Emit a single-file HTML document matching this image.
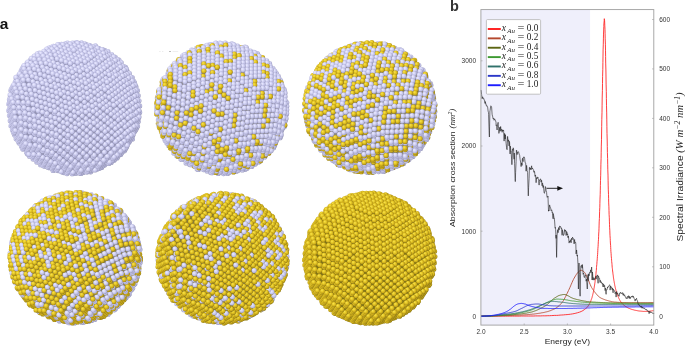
<!DOCTYPE html>
<html><head><meta charset="utf-8"><style>
html,body{margin:0;padding:0;background:#fff;width:685px;height:346px;overflow:hidden}
svg{display:block;will-change:transform;font-family:"Liberation Sans",sans-serif}
.m{font-family:"Liberation Serif",serif}
</style></head><body><svg width="685" height="346" viewBox="0 0 685 346" class="s"><defs>
<radialGradient id="gl" cx="0.45" cy="0.45" r="0.58" fx="0.34" fy="0.32">
<stop offset="0" stop-color="#ebebfe"/><stop offset="0.35" stop-color="#dadaf9"/><stop offset="0.75" stop-color="#bdbde2"/><stop offset="1" stop-color="#9696b8"/></radialGradient>
<radialGradient id="gg" cx="0.45" cy="0.45" r="0.58" fx="0.34" fy="0.32">
<stop offset="0" stop-color="#f6e252"/><stop offset="0.35" stop-color="#ecd02c"/><stop offset="0.75" stop-color="#caa91a"/><stop offset="1" stop-color="#8c7812"/></radialGradient>
<circle id="L" r="2.6" fill="url(#gl)"/><circle id="G" r="2.6" fill="url(#gg)"/>
</defs><g opacity="0.996"><g transform="translate(74.2,108.2)"><circle r="64.9" fill="rgb(148,148,180)"/><use href="#L" x="-53.0" y="-37.1"/><use href="#L" x="60.3" y="23.4"/><use href="#L" x="-20.8" y="-61.8"/><use href="#L" x="-58.9" y="-26.2"/><use href="#L" x="-52.1" y="39.0"/><use href="#L" x="-64.7" y="-8.7"/><use href="#L" x="2.0" y="-65.5"/><use href="#L" x="54.5" y="34.4"/><use href="#L" x="-52.3" y="-38.5"/><use href="#L" x="30.3" y="56.9"/><use href="#L" x="61.1" y="22.1"/><use href="#L" x="58.2" y="30.8"/><use href="#L" x="64.0" y="13.3"/><use href="#L" x="-60.9" y="23.2"/><use href="#L" x="-34.7" y="-55.2"/><use href="#L" x="-12.7" y="-63.9"/><use href="#L" x="60.2" y="-25.0"/><use href="#L" x="-46.9" y="45.6"/><use href="#L" x="-64.0" y="-10.1"/><use href="#L" x="-58.1" y="-27.5"/><use href="#L" x="16.4" y="63.6"/><use href="#L" x="27.4" y="59.2"/><use href="#L" x="55.2" y="33.0"/><use href="#L" x="51.3" y="-40.9"/><use href="#L" x="-51.6" y="-39.8"/><use href="#L" x="-10.1" y="64.4"/><use href="#L" x="9.0" y="64.3"/><use href="#L" x="31.0" y="55.6"/><use href="#L" x="30.7" y="-57.5"/><use href="#L" x="61.8" y="20.7"/><use href="#L" x="-55.0" y="34.8"/><use href="#L" x="-33.6" y="56.5"/><use href="#L" x="-23.0" y="-60.9"/><use href="#L" x="1.7" y="65.1"/><use href="#L" x="7.2" y="-65.4"/><use href="#L" x="-59.5" y="26.9"/><use href="#L" x="-0.2" y="-64.6"/><use href="#L" x="61.7" y="-21.3"/><use href="#L" x="-37.3" y="53.7"/><use href="#L" x="-29.2" y="58.0"/><use href="#L" x="-21.1" y="62.3"/><use href="#L" x="17.1" y="62.2"/><use href="#L" x="28.1" y="57.8"/><use href="#L" x="11.6" y="-63.9"/><use href="#L" x="56.0" y="31.6"/><use href="#L" x="-65.4" y="2.3"/><use href="#L" x="-50.8" y="-41.2"/><use href="#L" x="-36.9" y="-54.3"/><use href="#L" x="-14.9" y="-63.1"/><use href="#L" x="42.8" y="49.8"/><use href="#L" x="62.5" y="19.3"/><use href="#L" x="52.8" y="-37.2"/><use href="#L" x="-64.7" y="7.4"/><use href="#L" x="-41.0" y="50.8"/><use href="#L" x="-24.8" y="59.5"/><use href="#L" x="-47.2" y="-44.8"/><use href="#L" x="16.0" y="-62.4"/><use href="#L" x="46.4" y="46.2"/><use href="#L" x="-63.9" y="12.5"/><use href="#L" x="-63.3" y="-17.9"/><use href="#L" x="-43.5" y="-48.4"/><use href="#L" x="25.2" y="60.1"/><use href="#L" x="50.1" y="42.6"/><use href="#L" x="-58.0" y="30.6"/><use href="#L" x="-65.4" y="-4.2"/><use href="#L" x="-63.2" y="17.6"/><use href="#L" x="-44.7" y="48.0"/><use href="#L" x="-20.4" y="60.9"/><use href="#L" x="-39.8" y="-52.1"/><use href="#L" x="-6.8" y="-65.2"/><use href="#L" x="6.8" y="65.2"/><use href="#L" x="39.8" y="52.1"/><use href="#L" x="28.8" y="56.4"/><use href="#L" x="62.5" y="12.9"/><use href="#L" x="44.7" y="-48.0"/><use href="#L" x="65.4" y="4.2"/><use href="#L" x="63.2" y="-17.6"/><use href="#L" x="56.7" y="30.3"/><use href="#L" x="59.6" y="21.6"/><use href="#L" x="58.0" y="-30.6"/><use href="#L" x="-64.7" y="0.9"/><use href="#L" x="-50.1" y="-42.6"/><use href="#L" x="-25.2" y="-60.1"/><use href="#L" x="5.0" y="-64.5"/><use href="#L" x="43.5" y="48.4"/><use href="#L" x="63.3" y="17.9"/><use href="#L" x="63.9" y="-12.5"/><use href="#L" x="-63.9" y="6.0"/><use href="#L" x="-46.4" y="-46.2"/><use href="#L" x="-16.0" y="62.4"/><use href="#L" x="47.2" y="44.8"/><use href="#L" x="24.8" y="-59.5"/><use href="#L" x="41.0" y="-50.8"/><use href="#L" x="64.7" y="-7.4"/><use href="#L" x="-63.2" y="11.1"/><use href="#L" x="-52.8" y="37.2"/><use href="#L" x="-62.5" y="-19.3"/><use href="#L" x="-42.8" y="-49.8"/><use href="#L" x="14.9" y="63.1"/><use href="#L" x="25.9" y="58.7"/><use href="#L" x="36.9" y="54.3"/><use href="#L" x="50.8" y="41.2"/><use href="#L" x="53.8" y="32.5"/><use href="#L" x="65.4" y="-2.3"/><use href="#L" x="49.9" y="-41.4"/><use href="#L" x="-57.2" y="29.2"/><use href="#L" x="-62.4" y="16.2"/><use href="#L" x="-64.7" y="-5.5"/><use href="#L" x="-11.6" y="63.9"/><use href="#L" x="7.5" y="63.8"/><use href="#L" x="29.6" y="55.1"/><use href="#L" x="21.1" y="-62.3"/><use href="#L" x="40.6" y="50.7"/><use href="#L" x="29.2" y="-58.0"/><use href="#L" x="57.4" y="28.9"/><use href="#L" x="37.3" y="-53.7"/><use href="#L" x="60.3" y="20.2"/><use href="#L" x="63.2" y="11.5"/><use href="#L" x="-61.7" y="21.3"/><use href="#L" x="-63.9" y="-0.4"/><use href="#L" x="0.2" y="64.6"/><use href="#L" x="44.2" y="47.1"/><use href="#L" x="59.5" y="-26.9"/><use href="#L" x="-63.2" y="4.7"/><use href="#L" x="-47.6" y="43.7"/><use href="#L" x="-7.2" y="65.4"/><use href="#L" x="-1.7" y="-65.1"/><use href="#L" x="23.0" y="60.9"/><use href="#L" x="47.9" y="43.5"/><use href="#L" x="33.6" y="-56.5"/><use href="#L" x="55.0" y="-34.8"/><use href="#L" x="-52.1" y="35.8"/><use href="#L" x="-62.4" y="9.8"/><use href="#L" x="-30.7" y="57.5"/><use href="#L" x="-61.8" y="-20.7"/><use href="#L" x="-9.0" y="-64.3"/><use href="#L" x="15.6" y="61.7"/><use href="#L" x="26.6" y="57.3"/><use href="#L" x="37.6" y="52.9"/><use href="#L" x="10.1" y="-64.4"/><use href="#L" x="51.6" y="39.8"/><use href="#L" x="54.5" y="31.1"/><use href="#L" x="-51.3" y="40.9"/><use href="#L" x="-61.7" y="14.8"/><use href="#L" x="-56.5" y="27.9"/><use href="#L" x="-61.1" y="-15.6"/><use href="#L" x="-64.0" y="-6.9"/><use href="#L" x="-55.2" y="-33.0"/><use href="#L" x="-27.4" y="-59.2"/><use href="#L" x="-16.4" y="-63.6"/><use href="#L" x="8.3" y="62.5"/><use href="#L" x="-10.8" y="62.5"/><use href="#L" x="30.3" y="53.7"/><use href="#L" x="41.3" y="49.3"/><use href="#L" x="58.1" y="27.5"/><use href="#L" x="61.1" y="18.8"/><use href="#L" x="64.0" y="10.1"/><use href="#L" x="-55.8" y="33.0"/><use href="#L" x="-60.9" y="19.9"/><use href="#L" x="-63.2" y="-1.8"/><use href="#L" x="-26.3" y="59.0"/><use href="#L" x="-34.4" y="54.6"/><use href="#L" x="-51.6" y="-36.6"/><use href="#L" x="0.9" y="63.2"/><use href="#L" x="45.0" y="45.7"/><use href="#L" x="14.5" y="-62.9"/><use href="#L" x="46.9" y="-45.6"/><use href="#L" x="-62.5" y="3.3"/><use href="#L" x="-60.2" y="25.0"/><use href="#L" x="-46.9" y="42.4"/><use href="#L" x="-6.4" y="64.0"/><use href="#L" x="12.7" y="63.9"/><use href="#L" x="48.6" y="42.1"/><use href="#L" x="23.7" y="59.6"/><use href="#L" x="34.7" y="55.2"/><use href="#L" x="60.9" y="-23.2"/><use href="#L" x="-51.3" y="34.4"/><use href="#L" x="-58.2" y="-30.8"/><use href="#L" x="-61.7" y="8.4"/><use href="#L" x="-38.1" y="51.8"/><use href="#L" x="-64.0" y="-13.3"/><use href="#L" x="-61.1" y="-22.1"/><use href="#L" x="-30.3" y="-56.9"/><use href="#L" x="-21.9" y="60.4"/><use href="#L" x="-30.0" y="56.1"/><use href="#L" x="-19.3" y="-61.3"/><use href="#L" x="5.3" y="64.7"/><use href="#L" x="16.4" y="60.3"/><use href="#L" x="52.3" y="38.5"/><use href="#L" x="27.4" y="55.9"/><use href="#L" x="38.4" y="51.6"/><use href="#L" x="35.1" y="-52.8"/><use href="#L" x="43.2" y="-48.5"/><use href="#L" x="18.9" y="-61.4"/><use href="#L" x="55.2" y="29.8"/><use href="#L" x="61.0" y="12.4"/><use href="#L" x="58.1" y="21.1"/><use href="#L" x="56.5" y="-31.1"/><use href="#L" x="64.0" y="3.7"/><use href="#L" x="61.7" y="-18.1"/><use href="#L" x="-55.8" y="26.5"/><use href="#L" x="-50.6" y="39.5"/><use href="#L" x="-57.4" y="-25.7"/><use href="#L" x="-61.0" y="13.5"/><use href="#L" x="-63.2" y="-8.3"/><use href="#L" x="-60.3" y="-17.0"/><use href="#L" x="-10.1" y="61.2"/><use href="#L" x="-54.5" y="-34.4"/><use href="#L" x="-42.5" y="43.9"/><use href="#L" x="-40.6" y="-47.5"/><use href="#L" x="-2.0" y="65.5"/><use href="#L" x="9.0" y="61.1"/><use href="#L" x="20.0" y="56.7"/><use href="#L" x="3.5" y="-65.0"/><use href="#L" x="31.0" y="52.3"/><use href="#L" x="42.0" y="48.0"/><use href="#L" x="58.9" y="26.2"/><use href="#L" x="64.7" y="8.7"/><use href="#L" x="52.1" y="-39.0"/><use href="#L" x="61.8" y="17.5"/><use href="#L" x="62.4" y="-13.0"/><use href="#L" x="-41.7" y="48.9"/><use href="#L" x="-60.2" y="18.6"/><use href="#L" x="-55.0" y="31.6"/><use href="#L" x="-62.5" y="-3.2"/><use href="#L" x="-33.6" y="53.3"/><use href="#L" x="-17.5" y="61.9"/><use href="#L" x="-53.7" y="-29.3"/><use href="#L" x="-59.6" y="-11.9"/><use href="#L" x="-50.8" y="-38.0"/><use href="#L" x="-25.6" y="57.6"/><use href="#L" x="-36.9" y="-51.1"/><use href="#L" x="20.8" y="61.8"/><use href="#L" x="1.7" y="61.9"/><use href="#L" x="-3.9" y="-64.2"/><use href="#L" x="31.4" y="-55.6"/><use href="#L" x="48.6" y="35.6"/><use href="#L" x="45.7" y="44.3"/><use href="#L" x="34.7" y="48.7"/><use href="#L" x="23.3" y="-60.0"/><use href="#L" x="63.2" y="-7.9"/><use href="#L" x="39.5" y="-51.3"/><use href="#L" x="52.8" y="-34.0"/><use href="#L" x="-59.5" y="23.7"/><use href="#L" x="-61.7" y="1.9"/><use href="#L" x="-33.2" y="-54.7"/><use href="#L" x="-46.2" y="41.0"/><use href="#L" x="-13.8" y="58.3"/><use href="#L" x="-22.2" y="-59.1"/><use href="#L" x="-5.7" y="62.6"/><use href="#L" x="24.4" y="58.2"/><use href="#L" x="13.4" y="62.6"/><use href="#L" x="-11.2" y="-63.5"/><use href="#L" x="35.4" y="53.8"/><use href="#L" x="52.3" y="32.0"/><use href="#L" x="7.9" y="-63.5"/><use href="#L" x="49.4" y="40.7"/><use href="#L" x="61.0" y="5.9"/><use href="#L" x="63.9" y="-2.8"/><use href="#L" x="48.4" y="-41.9"/><use href="#L" x="-45.4" y="46.1"/><use href="#L" x="-21.1" y="59.1"/><use href="#L" x="-29.2" y="54.8"/><use href="#L" x="-50.6" y="33.1"/><use href="#L" x="-37.3" y="50.4"/><use href="#L" x="-60.3" y="-23.4"/><use href="#L" x="-61.0" y="7.0"/><use href="#L" x="-43.5" y="-45.2"/><use href="#L" x="6.1" y="63.3"/><use href="#L" x="-13.0" y="63.4"/><use href="#L" x="-2.0" y="59.0"/><use href="#L" x="28.1" y="54.6"/><use href="#L" x="17.1" y="59.0"/><use href="#L" x="42.0" y="41.5"/><use href="#L" x="0.5" y="-62.7"/><use href="#L" x="39.1" y="50.2"/><use href="#L" x="53.0" y="37.1"/><use href="#L" x="64.7" y="2.3"/><use href="#L" x="27.8" y="-58.5"/><use href="#L" x="55.9" y="28.4"/><use href="#L" x="58.9" y="19.7"/><use href="#L" x="61.8" y="11.0"/><use href="#L" x="-55.0" y="25.1"/><use href="#L" x="-62.5" y="-9.6"/><use href="#L" x="-49.9" y="38.2"/><use href="#L" x="-59.6" y="-18.3"/><use href="#L" x="-41.8" y="42.5"/><use href="#L" x="-60.2" y="12.1"/><use href="#L" x="-56.7" y="-27.0"/><use href="#L" x="-39.8" y="-48.8"/><use href="#L" x="-9.4" y="59.8"/><use href="#L" x="20.7" y="55.3"/><use href="#L" x="-1.3" y="64.1"/><use href="#L" x="9.7" y="59.7"/><use href="#L" x="42.8" y="46.6"/><use href="#L" x="31.8" y="51.0"/><use href="#L" x="-6.8" y="-62.0"/><use href="#L" x="20.4" y="-57.7"/><use href="#L" x="12.3" y="-62.0"/><use href="#L" x="45.7" y="37.9"/><use href="#L" x="36.6" y="-49.1"/><use href="#L" x="44.7" y="-44.7"/><use href="#L" x="58.0" y="-27.4"/><use href="#L" x="-54.3" y="30.2"/><use href="#L" x="-55.9" y="-21.9"/><use href="#L" x="-59.5" y="17.2"/><use href="#L" x="-41.0" y="47.6"/><use href="#L" x="-61.8" y="-4.5"/><use href="#L" x="-58.8" y="-13.2"/><use href="#L" x="-24.8" y="56.2"/><use href="#L" x="-50.1" y="-39.4"/><use href="#L" x="-53.0" y="-30.7"/><use href="#L" x="-32.9" y="51.9"/><use href="#L" x="-16.7" y="60.6"/><use href="#L" x="2.4" y="60.5"/><use href="#L" x="-36.2" y="-52.4"/><use href="#L" x="-25.2" y="-56.8"/><use href="#L" x="13.4" y="56.1"/><use href="#L" x="46.4" y="43.0"/><use href="#L" x="-14.1" y="-61.2"/><use href="#L" x="35.4" y="47.4"/><use href="#L" x="49.3" y="34.3"/><use href="#L" x="5.0" y="-61.3"/><use href="#L" x="61.0" y="-0.6"/><use href="#L" x="58.7" y="-22.3"/><use href="#L" x="-52.3" y="-25.6"/><use href="#L" x="-58.1" y="-8.1"/><use href="#L" x="-45.4" y="39.6"/><use href="#L" x="-61.0" y="0.6"/><use href="#L" x="-58.7" y="22.3"/><use href="#L" x="-46.4" y="-43.0"/><use href="#L" x="-49.3" y="-34.3"/><use href="#L" x="-35.4" y="-47.4"/><use href="#L" x="-5.0" y="61.3"/><use href="#L" x="6.1" y="56.9"/><use href="#L" x="-13.1" y="56.9"/><use href="#L" x="14.1" y="61.2"/><use href="#L" x="32.9" y="-51.9"/><use href="#L" x="-2.4" y="-60.5"/><use href="#L" x="39.1" y="43.7"/><use href="#L" x="25.2" y="56.8"/><use href="#L" x="16.7" y="-60.6"/><use href="#L" x="24.8" y="-56.2"/><use href="#L" x="55.9" y="21.9"/><use href="#L" x="41.0" y="-47.6"/><use href="#L" x="58.8" y="13.2"/><use href="#L" x="53.0" y="30.7"/><use href="#L" x="54.3" y="-30.2"/><use href="#L" x="61.8" y="4.5"/><use href="#L" x="59.5" y="-17.2"/><use href="#L" x="-31.8" y="-51.0"/><use href="#L" x="-28.5" y="53.4"/><use href="#L" x="-49.9" y="31.7"/><use href="#L" x="-55.1" y="18.7"/><use href="#L" x="-60.3" y="5.6"/><use href="#L" x="-36.6" y="49.1"/><use href="#L" x="-20.4" y="57.7"/><use href="#L" x="-45.7" y="-37.9"/><use href="#L" x="-1.3" y="57.6"/><use href="#L" x="-20.7" y="-55.3"/><use href="#L" x="-9.7" y="-59.7"/><use href="#L" x="6.8" y="62.0"/><use href="#L" x="42.7" y="40.1"/><use href="#L" x="41.8" y="-42.5"/><use href="#L" x="28.8" y="53.2"/><use href="#L" x="17.8" y="57.6"/><use href="#L" x="9.4" y="-59.8"/><use href="#L" x="59.6" y="18.3"/><use href="#L" x="39.8" y="48.8"/><use href="#L" x="55.0" y="-25.1"/><use href="#L" x="56.7" y="27.0"/><use href="#L" x="60.2" y="-12.1"/><use href="#L" x="49.9" y="-38.2"/><use href="#L" x="-49.1" y="36.8"/><use href="#L" x="-59.5" y="10.7"/><use href="#L" x="-41.0" y="41.1"/><use href="#L" x="-58.9" y="-19.7"/><use href="#L" x="-42.0" y="-41.5"/><use href="#L" x="-54.3" y="23.8"/><use href="#L" x="-56.6" y="2.0"/><use href="#L" x="-16.7" y="54.1"/><use href="#L" x="-28.1" y="-54.6"/><use href="#L" x="-8.6" y="58.4"/><use href="#L" x="10.5" y="58.4"/><use href="#L" x="21.5" y="54.0"/><use href="#L" x="-17.1" y="-59.0"/><use href="#L" x="46.4" y="36.5"/><use href="#L" x="32.5" y="49.6"/><use href="#L" x="2.0" y="-59.0"/><use href="#L" x="29.2" y="-54.8"/><use href="#L" x="61.0" y="-7.0"/><use href="#L" x="50.6" y="-33.1"/><use href="#L" x="49.3" y="27.8"/><use href="#L" x="55.8" y="-20.0"/><use href="#L" x="58.1" y="1.7"/><use href="#L" x="-61.0" y="-5.9"/><use href="#L" x="-32.2" y="50.5"/><use href="#L" x="-45.5" y="33.2"/><use href="#L" x="-40.3" y="46.2"/><use href="#L" x="-52.3" y="-32.0"/><use href="#L" x="-55.2" y="-23.3"/><use href="#L" x="-58.1" y="-14.6"/><use href="#L" x="-58.8" y="15.8"/><use href="#L" x="-16.0" y="59.2"/><use href="#L" x="-53.6" y="28.9"/><use href="#L" x="-24.1" y="54.9"/><use href="#L" x="-38.4" y="-45.1"/><use href="#L" x="3.1" y="59.1"/><use href="#L" x="25.1" y="50.4"/><use href="#L" x="38.1" y="-45.3"/><use href="#L" x="-5.3" y="-58.2"/><use href="#L" x="13.8" y="-58.3"/><use href="#L" x="14.1" y="54.7"/><use href="#L" x="55.9" y="15.5"/><use href="#L" x="36.2" y="46.0"/><use href="#L" x="21.9" y="-54.0"/><use href="#L" x="50.1" y="32.9"/><use href="#L" x="53.0" y="24.2"/><use href="#L" x="56.5" y="-15.0"/><use href="#L" x="46.2" y="-41.0"/><use href="#L" x="58.8" y="6.8"/><use href="#L" x="51.4" y="-28.0"/><use href="#L" x="61.7" y="-1.9"/><use href="#L" x="-44.7" y="38.3"/><use href="#L" x="-55.1" y="12.2"/><use href="#L" x="-36.6" y="42.6"/><use href="#L" x="-60.3" y="-0.8"/><use href="#L" x="-57.4" y="-9.5"/><use href="#L" x="-51.5" y="-26.9"/><use href="#L" x="-54.4" y="-18.2"/><use href="#L" x="-12.3" y="55.6"/><use href="#L" x="-48.6" y="-35.6"/><use href="#L" x="-34.7" y="-48.7"/><use href="#L" x="-23.7" y="-53.1"/><use href="#L" x="25.9" y="55.5"/><use href="#L" x="-4.2" y="59.9"/><use href="#L" x="6.4" y="-57.5"/><use href="#L" x="-12.7" y="-57.5"/><use href="#L" x="59.6" y="11.9"/><use href="#L" x="57.3" y="-9.9"/><use href="#L" x="53.7" y="29.3"/><use href="#L" x="46.9" y="-35.9"/><use href="#L" x="56.7" y="20.6"/><use href="#L" x="39.8" y="42.4"/><use href="#L" x="-35.9" y="47.7"/><use href="#L" x="-59.5" y="4.3"/><use href="#L" x="-49.2" y="30.3"/><use href="#L" x="-54.3" y="17.3"/><use href="#L" x="-45.0" y="-39.2"/><use href="#L" x="-56.6" y="-4.4"/><use href="#L" x="-19.7" y="56.3"/><use href="#L" x="-47.9" y="-30.5"/><use href="#L" x="-27.8" y="52.0"/><use href="#L" x="-31.0" y="-52.3"/><use href="#L" x="34.4" y="-48.2"/><use href="#L" x="-0.9" y="-56.8"/><use href="#L" x="-20.0" y="-56.7"/><use href="#L" x="18.5" y="56.2"/><use href="#L" x="-0.6" y="56.3"/><use href="#L" x="18.2" y="-56.8"/><use href="#L" x="29.6" y="51.8"/><use href="#L" x="26.3" y="-52.5"/><use href="#L" x="43.5" y="38.8"/><use href="#L" x="58.0" y="-4.8"/><use href="#L" x="-58.8" y="9.4"/><use href="#L" x="-55.9" y="0.7"/><use href="#L" x="-40.3" y="39.8"/><use href="#L" x="-48.4" y="35.4"/><use href="#L" x="-30.3" y="-47.2"/><use href="#L" x="-53.6" y="22.4"/><use href="#L" x="-41.3" y="-42.9"/><use href="#L" x="11.2" y="57.0"/><use href="#L" x="-8.3" y="-56.0"/><use href="#L" x="-7.9" y="57.0"/><use href="#L" x="22.2" y="52.6"/><use href="#L" x="10.9" y="-56.1"/><use href="#L" x="55.9" y="9.0"/><use href="#L" x="33.2" y="48.2"/><use href="#L" x="43.2" y="-38.8"/><use href="#L" x="50.1" y="26.4"/><use href="#L" x="58.8" y="0.3"/><use href="#L" x="47.1" y="35.1"/><use href="#L" x="-44.7" y="31.8"/><use href="#L" x="-57.4" y="-16.0"/><use href="#L" x="-52.8" y="27.5"/><use href="#L" x="-23.4" y="53.5"/><use href="#L" x="-31.5" y="49.2"/><use href="#L" x="3.8" y="57.8"/><use href="#L" x="-26.6" y="-50.9"/><use href="#L" x="-15.6" y="-55.2"/><use href="#L" x="3.5" y="-55.3"/><use href="#L" x="53.7" y="22.8"/><use href="#L" x="36.9" y="44.6"/><use href="#L" x="57.3" y="-16.3"/><use href="#L" x="30.7" y="-51.0"/><use href="#L" x="44.0" y="-33.7"/><use href="#L" x="56.6" y="14.1"/><use href="#L" x="-35.9" y="41.2"/><use href="#L" x="-54.4" y="10.8"/><use href="#L" x="-19.7" y="49.9"/><use href="#L" x="-50.8" y="-28.3"/><use href="#L" x="-36.9" y="-41.4"/><use href="#L" x="-49.2" y="23.9"/><use href="#L" x="-56.6" y="-10.9"/><use href="#L" x="-53.7" y="-19.6"/><use href="#L" x="-27.8" y="45.6"/><use href="#L" x="-44.0" y="36.9"/><use href="#L" x="-3.5" y="58.5"/><use href="#L" x="-11.6" y="54.2"/><use href="#L" x="15.3" y="-54.6"/><use href="#L" x="-3.8" y="-54.5"/><use href="#L" x="39.6" y="-41.6"/><use href="#L" x="31.5" y="-45.9"/><use href="#L" x="23.4" y="-50.3"/><use href="#L" x="55.1" y="-2.5"/><use href="#L" x="40.5" y="41.0"/><use href="#L" x="52.8" y="-24.3"/><use href="#L" x="-53.6" y="15.9"/><use href="#L" x="-55.9" y="-5.8"/><use href="#L" x="-48.4" y="29.0"/><use href="#L" x="-27.0" y="50.6"/><use href="#L" x="-53.0" y="-14.5"/><use href="#L" x="-50.0" y="-23.2"/><use href="#L" x="-18.9" y="55.0"/><use href="#L" x="-35.1" y="46.3"/><use href="#L" x="-33.2" y="-45.0"/><use href="#L" x="-47.1" y="-31.9"/><use href="#L" x="0.2" y="54.9"/><use href="#L" x="55.9" y="2.6"/><use href="#L" x="19.3" y="54.9"/><use href="#L" x="40.3" y="-36.5"/><use href="#L" x="-0.2" y="-58.1"/><use href="#L" x="53.6" y="-19.2"/><use href="#L" x="7.9" y="-53.8"/><use href="#L" x="-22.2" y="-49.4"/><use href="#L" x="-11.2" y="-53.8"/><use href="#L" x="47.1" y="28.7"/><use href="#L" x="48.4" y="-32.2"/><use href="#L" x="44.2" y="37.4"/><use href="#L" x="-52.9" y="21.0"/><use href="#L" x="-39.6" y="38.4"/><use href="#L" x="-55.1" y="-0.7"/><use href="#L" x="-31.5" y="42.7"/><use href="#L" x="-23.4" y="47.0"/><use href="#L" x="-43.5" y="-35.5"/><use href="#L" x="-15.3" y="51.4"/><use href="#L" x="-7.2" y="55.7"/><use href="#L" x="22.9" y="51.2"/><use href="#L" x="11.9" y="55.6"/><use href="#L" x="-18.5" y="-53.0"/><use href="#L" x="0.6" y="-53.0"/><use href="#L" x="-29.5" y="-48.6"/><use href="#L" x="54.3" y="-14.1"/><use href="#L" x="56.6" y="7.7"/><use href="#L" x="27.8" y="-48.8"/><use href="#L" x="35.9" y="-44.5"/><use href="#L" x="19.7" y="-53.1"/><use href="#L" x="53.7" y="16.4"/><use href="#L" x="49.2" y="-27.1"/><use href="#L" x="50.8" y="25.1"/><use href="#L" x="-44.0" y="30.4"/><use href="#L" x="-54.4" y="4.4"/><use href="#L" x="-49.2" y="17.4"/><use href="#L" x="-51.5" y="-4.3"/><use href="#L" x="-39.8" y="-39.1"/><use href="#L" x="-3.5" y="52.1"/><use href="#L" x="-6.8" y="-52.3"/><use href="#L" x="15.6" y="52.0"/><use href="#L" x="4.6" y="56.4"/><use href="#L" x="12.3" y="-52.3"/><use href="#L" x="26.6" y="47.6"/><use href="#L" x="28.5" y="-43.7"/><use href="#L" x="20.4" y="-48.0"/><use href="#L" x="55.1" y="-9.0"/><use href="#L" x="36.6" y="-39.4"/><use href="#L" x="49.9" y="-22.0"/><use href="#L" x="-48.4" y="22.5"/><use href="#L" x="-39.1" y="-34.0"/><use href="#L" x="-53.6" y="9.5"/><use href="#L" x="-27.1" y="44.2"/><use href="#L" x="-50.7" y="0.8"/><use href="#L" x="-35.2" y="39.9"/><use href="#L" x="-14.1" y="-51.5"/><use href="#L" x="-25.1" y="-47.1"/><use href="#L" x="-10.9" y="52.8"/><use href="#L" x="-19.0" y="48.5"/><use href="#L" x="8.2" y="52.8"/><use href="#L" x="19.3" y="48.4"/><use href="#L" x="5.0" y="-51.6"/><use href="#L" x="30.3" y="44.0"/><use href="#L" x="37.4" y="-34.3"/><use href="#L" x="52.9" y="4.8"/><use href="#L" x="44.2" y="30.9"/><use href="#L" x="47.1" y="22.2"/><use href="#L" x="50.0" y="13.5"/><use href="#L" x="50.7" y="-16.9"/><use href="#L" x="45.5" y="-30.0"/><use href="#L" x="-52.9" y="14.6"/><use href="#L" x="-52.2" y="-15.9"/><use href="#L" x="-39.6" y="31.9"/><use href="#L" x="-50.0" y="5.9"/><use href="#L" x="-35.4" y="-37.7"/><use href="#L" x="11.9" y="49.2"/><use href="#L" x="0.9" y="53.5"/><use href="#L" x="-7.2" y="49.2"/><use href="#L" x="33.9" y="40.4"/><use href="#L" x="32.9" y="-42.2"/><use href="#L" x="24.8" y="-46.5"/><use href="#L" x="46.2" y="-24.9"/><use href="#L" x="16.8" y="-50.9"/><use href="#L" x="-2.4" y="-50.8"/><use href="#L" x="53.7" y="9.9"/><use href="#L" x="51.4" y="-11.8"/><use href="#L" x="50.8" y="18.6"/><use href="#L" x="-31.7" y="-41.3"/><use href="#L" x="-30.7" y="41.3"/><use href="#L" x="-51.5" y="-10.8"/><use href="#L" x="-48.6" y="-19.5"/><use href="#L" x="-49.2" y="11.0"/><use href="#L" x="-44.0" y="24.0"/><use href="#L" x="-14.5" y="50.0"/><use href="#L" x="25.6" y="-41.4"/><use href="#L" x="4.6" y="49.9"/><use href="#L" x="-22.6" y="45.7"/><use href="#L" x="-38.8" y="37.0"/><use href="#L" x="-45.7" y="-28.2"/><use href="#L" x="52.2" y="-6.7"/><use href="#L" x="37.6" y="36.8"/><use href="#L" x="-20.7" y="-45.7"/><use href="#L" x="9.4" y="-50.1"/><use href="#L" x="17.5" y="-45.8"/><use href="#L" x="41.8" y="-32.8"/><use href="#L" x="33.7" y="-37.1"/><use href="#L" x="-9.7" y="-50.0"/><use href="#L" x="49.2" y="2.0"/><use href="#L" x="47.0" y="-19.8"/><use href="#L" x="-47.8" y="-14.4"/><use href="#L" x="-43.3" y="29.1"/><use href="#L" x="-27.1" y="37.7"/><use href="#L" x="-42.0" y="-31.8"/><use href="#L" x="-44.9" y="-23.1"/><use href="#L" x="-35.2" y="33.4"/><use href="#L" x="-48.5" y="16.0"/><use href="#L" x="-2.8" y="50.7"/><use href="#L" x="-50.7" y="-5.7"/><use href="#L" x="-10.9" y="46.4"/><use href="#L" x="-17.1" y="-49.3"/><use href="#L" x="2.1" y="-49.3"/><use href="#L" x="-28.1" y="-44.9"/><use href="#L" x="41.3" y="33.2"/><use href="#L" x="52.9" y="-1.7"/><use href="#L" x="42.5" y="-27.7"/><use href="#L" x="44.2" y="24.5"/><use href="#L" x="50.0" y="7.1"/><use href="#L" x="47.1" y="15.8"/><use href="#L" x="47.7" y="-14.7"/><use href="#L" x="-34.4" y="38.5"/><use href="#L" x="-47.1" y="-9.3"/><use href="#L" x="-39.6" y="25.5"/><use href="#L" x="-44.8" y="12.4"/><use href="#L" x="-50.0" y="-0.6"/><use href="#L" x="-41.2" y="-26.7"/><use href="#L" x="-26.3" y="42.8"/><use href="#L" x="0.9" y="47.1"/><use href="#L" x="-18.2" y="47.1"/><use href="#L" x="-5.3" y="-48.6"/><use href="#L" x="-44.2" y="-18.0"/><use href="#L" x="-27.3" y="-39.8"/><use href="#L" x="-16.3" y="-44.2"/><use href="#L" x="33.9" y="33.9"/><use href="#L" x="48.5" y="-9.6"/><use href="#L" x="43.3" y="-22.6"/><use href="#L" x="20.0" y="47.0"/><use href="#L" x="21.9" y="-44.3"/><use href="#L" x="30.0" y="-40.0"/><use href="#L" x="13.8" y="-48.6"/><use href="#L" x="-46.3" y="-4.2"/><use href="#L" x="-37.6" y="-30.3"/><use href="#L" x="-44.0" y="17.5"/><use href="#L" x="-49.2" y="4.5"/><use href="#L" x="-30.8" y="34.9"/><use href="#L" x="-40.5" y="-21.6"/><use href="#L" x="-6.5" y="47.8"/><use href="#L" x="-23.7" y="-43.4"/><use href="#L" x="-12.6" y="-47.8"/><use href="#L" x="-38.9" y="30.6"/><use href="#L" x="-43.4" y="-12.9"/><use href="#L" x="-22.7" y="39.2"/><use href="#L" x="-14.6" y="43.5"/><use href="#L" x="22.7" y="-39.2"/><use href="#L" x="46.3" y="4.2"/><use href="#L" x="12.6" y="47.8"/><use href="#L" x="14.6" y="-43.5"/><use href="#L" x="38.9" y="-30.6"/><use href="#L" x="6.5" y="-47.8"/><use href="#L" x="23.7" y="43.4"/><use href="#L" x="37.6" y="30.3"/><use href="#L" x="44.0" y="-17.5"/><use href="#L" x="30.8" y="-34.9"/><use href="#L" x="49.2" y="-4.5"/><use href="#L" x="-45.6" y="0.9"/><use href="#L" x="-43.3" y="22.6"/><use href="#L" x="-36.8" y="-25.2"/><use href="#L" x="-22.9" y="-38.3"/><use href="#L" x="-2.8" y="44.2"/><use href="#L" x="-21.9" y="44.3"/><use href="#L" x="-40.4" y="13.9"/><use href="#L" x="-11.9" y="-42.7"/><use href="#L" x="-35.2" y="26.9"/><use href="#L" x="-48.5" y="9.6"/><use href="#L" x="-33.9" y="-33.9"/><use href="#L" x="44.8" y="-12.4"/><use href="#L" x="7.2" y="-42.8"/><use href="#L" x="41.2" y="26.7"/><use href="#L" x="5.3" y="48.6"/><use href="#L" x="16.3" y="44.2"/><use href="#L" x="31.5" y="-29.8"/><use href="#L" x="-0.9" y="-47.1"/><use href="#L" x="39.6" y="-25.5"/><use href="#L" x="47.1" y="9.3"/><use href="#L" x="27.3" y="39.8"/><use href="#L" x="44.2" y="18.0"/><use href="#L" x="-34.4" y="32.0"/><use href="#L" x="-39.6" y="19.0"/><use href="#L" x="-44.8" y="6.0"/><use href="#L" x="-33.2" y="-28.8"/><use href="#L" x="-30.2" y="-37.6"/><use href="#L" x="27.1" y="-37.7"/><use href="#L" x="-18.3" y="40.7"/><use href="#L" x="-19.2" y="-41.9"/><use href="#L" x="33.9" y="27.5"/><use href="#L" x="-26.3" y="36.4"/><use href="#L" x="-10.2" y="45.0"/><use href="#L" x="10.9" y="-46.4"/><use href="#L" x="20.0" y="40.6"/><use href="#L" x="19.0" y="-42.0"/><use href="#L" x="35.2" y="-33.4"/><use href="#L" x="40.4" y="-20.4"/><use href="#L" x="42.6" y="1.4"/><use href="#L" x="45.5" y="-7.3"/><use href="#L" x="-8.2" y="-46.3"/><use href="#L" x="9.0" y="44.9"/><use href="#L" x="31.0" y="36.2"/><use href="#L" x="-0.1" y="-42.0"/><use href="#L" x="-44.1" y="11.1"/><use href="#L" x="-30.8" y="28.4"/><use href="#L" x="-6.5" y="41.4"/><use href="#L" x="-22.7" y="32.7"/><use href="#L" x="-41.2" y="2.4"/><use href="#L" x="-18.5" y="-36.8"/><use href="#L" x="-29.5" y="-32.5"/><use href="#L" x="-38.9" y="24.1"/><use href="#L" x="3.5" y="-45.6"/><use href="#L" x="-7.5" y="-41.2"/><use href="#L" x="12.6" y="41.3"/><use href="#L" x="40.5" y="15.2"/><use href="#L" x="19.7" y="-37.0"/><use href="#L" x="46.3" y="-2.3"/><use href="#L" x="27.8" y="-32.6"/><use href="#L" x="35.9" y="-28.3"/><use href="#L" x="37.6" y="23.9"/><use href="#L" x="11.6" y="-41.3"/><use href="#L" x="1.6" y="45.7"/><use href="#L" x="23.6" y="37.0"/><use href="#L" x="43.4" y="6.5"/><use href="#L" x="41.1" y="-15.3"/><use href="#L" x="-45.6" y="-5.6"/><use href="#L" x="-35.2" y="20.5"/><use href="#L" x="-30.0" y="33.5"/><use href="#L" x="-40.4" y="7.5"/><use href="#L" x="-21.9" y="37.8"/><use href="#L" x="-25.8" y="-36.1"/><use href="#L" x="-13.8" y="42.2"/><use href="#L" x="-39.8" y="-23.0"/><use href="#L" x="-28.7" y="-27.4"/><use href="#L" x="4.3" y="-40.5"/><use href="#L" x="-3.8" y="-44.8"/><use href="#L" x="-42.7" y="-14.3"/><use href="#L" x="28.6" y="-27.5"/><use href="#L" x="41.2" y="20.3"/><use href="#L" x="16.3" y="37.7"/><use href="#L" x="-14.8" y="-40.5"/><use href="#L" x="5.3" y="42.1"/><use href="#L" x="44.1" y="11.5"/><use href="#L" x="27.3" y="33.3"/><use href="#L" x="36.7" y="-23.2"/><use href="#L" x="41.9" y="-10.2"/><use href="#L" x="-41.9" y="-9.2"/><use href="#L" x="-39.0" y="-17.9"/><use href="#L" x="-34.5" y="25.6"/><use href="#L" x="-39.7" y="12.5"/><use href="#L" x="24.1" y="-35.5"/><use href="#L" x="37.4" y="-18.1"/><use href="#L" x="-2.1" y="42.9"/><use href="#L" x="-26.4" y="29.9"/><use href="#L" x="-25.1" y="-31.0"/><use href="#L" x="33.9" y="21.0"/><use href="#L" x="-3.1" y="-39.7"/><use href="#L" x="-14.1" y="-35.4"/><use href="#L" x="-10.2" y="38.5"/><use href="#L" x="-18.3" y="34.2"/><use href="#L" x="19.9" y="34.1"/><use href="#L" x="8.9" y="38.5"/><use href="#L" x="36.8" y="12.3"/><use href="#L" x="42.6" y="-5.1"/><use href="#L" x="31.0" y="29.7"/><use href="#L" x="29.3" y="-22.5"/><use href="#L" x="39.7" y="3.6"/><use href="#L" x="16.0" y="-39.8"/><use href="#L" x="-30.8" y="22.0"/><use href="#L" x="-36.0" y="8.9"/><use href="#L" x="-38.9" y="17.6"/><use href="#L" x="-35.3" y="-21.5"/><use href="#L" x="-41.2" y="-4.1"/><use href="#L" x="-38.3" y="-12.8"/><use href="#L" x="16.8" y="-34.7"/><use href="#L" x="-6.5" y="34.9"/><use href="#L" x="-21.4" y="-34.6"/><use href="#L" x="-10.4" y="-39.0"/><use href="#L" x="-22.7" y="26.3"/><use href="#L" x="-17.5" y="39.3"/><use href="#L" x="12.6" y="34.9"/><use href="#L" x="23.6" y="30.5"/><use href="#L" x="24.9" y="-30.4"/><use href="#L" x="35.3" y="-4.3"/><use href="#L" x="37.5" y="17.4"/><use href="#L" x="40.5" y="8.7"/><use href="#L" x="33.0" y="-26.1"/><use href="#L" x="1.6" y="39.3"/><use href="#L" x="8.7" y="-39.0"/><use href="#L" x="38.2" y="-13.0"/><use href="#L" x="-34.6" y="-16.4"/><use href="#L" x="-9.7" y="-33.9"/><use href="#L" x="9.5" y="-33.9"/><use href="#L" x="-35.2" y="14.0"/><use href="#L" x="-31.7" y="-25.1"/><use href="#L" x="-22.0" y="31.4"/><use href="#L" x="-30.1" y="27.0"/><use href="#L" x="-13.9" y="35.7"/><use href="#L" x="-40.4" y="1.0"/><use href="#L" x="-37.5" y="-7.7"/><use href="#L" x="-27.1" y="18.3"/><use href="#L" x="16.3" y="31.3"/><use href="#L" x="5.3" y="35.6"/><use href="#L" x="30.2" y="18.2"/><use href="#L" x="-20.7" y="-29.5"/><use href="#L" x="33.1" y="9.5"/><use href="#L" x="38.9" y="-7.9"/><use href="#L" x="25.6" y="-25.3"/><use href="#L" x="-5.8" y="40.0"/><use href="#L" x="17.6" y="-29.6"/><use href="#L" x="30.8" y="-12.3"/><use href="#L" x="1.4" y="-38.3"/><use href="#L" x="33.7" y="-21.0"/><use href="#L" x="27.3" y="26.9"/><use href="#L" x="36.0" y="0.8"/><use href="#L" x="-33.8" y="-11.3"/><use href="#L" x="-36.8" y="-2.6"/><use href="#L" x="-19.9" y="-24.4"/><use href="#L" x="-34.5" y="19.1"/><use href="#L" x="-31.6" y="10.4"/><use href="#L" x="31.6" y="-7.2"/><use href="#L" x="2.1" y="-33.2"/><use href="#L" x="-18.3" y="27.8"/><use href="#L" x="-17.0" y="-33.1"/><use href="#L" x="-30.9" y="-20.0"/><use href="#L" x="-10.2" y="32.1"/><use href="#L" x="33.9" y="14.6"/><use href="#L" x="10.2" y="-28.9"/><use href="#L" x="-26.4" y="23.4"/><use href="#L" x="-2.1" y="36.4"/><use href="#L" x="18.3" y="-24.5"/><use href="#L" x="8.9" y="32.0"/><use href="#L" x="19.9" y="27.6"/><use href="#L" x="30.9" y="23.3"/><use href="#L" x="21.2" y="-33.2"/><use href="#L" x="13.1" y="-37.6"/><use href="#L" x="26.4" y="-20.2"/><use href="#L" x="39.7" y="-2.9"/><use href="#L" x="36.8" y="5.9"/><use href="#L" x="-6.0" y="-37.5"/><use href="#L" x="34.5" y="-15.9"/><use href="#L" x="-36.0" y="2.5"/><use href="#L" x="-33.1" y="-6.2"/><use href="#L" x="-30.8" y="15.5"/><use href="#L" x="-27.3" y="-23.6"/><use href="#L" x="-5.2" y="-32.4"/><use href="#L" x="-30.2" y="-14.9"/><use href="#L" x="-22.7" y="19.8"/><use href="#L" x="-17.5" y="32.9"/><use href="#L" x="-6.5" y="28.5"/><use href="#L" x="-27.9" y="6.8"/><use href="#L" x="32.3" y="-2.1"/><use href="#L" x="29.4" y="6.6"/><use href="#L" x="13.9" y="-32.5"/><use href="#L" x="5.8" y="-36.8"/><use href="#L" x="26.5" y="15.3"/><use href="#L" x="1.6" y="32.8"/><use href="#L" x="-16.3" y="-28.0"/><use href="#L" x="2.9" y="-28.1"/><use href="#L" x="12.6" y="28.4"/><use href="#L" x="23.6" y="24.0"/><use href="#L" x="27.1" y="-15.1"/><use href="#L" x="22.0" y="-28.1"/><use href="#L" x="35.2" y="-10.8"/><use href="#L" x="-32.3" y="-1.1"/><use href="#L" x="-27.2" y="11.9"/><use href="#L" x="-22.0" y="24.9"/><use href="#L" x="-26.5" y="-18.6"/><use href="#L" x="-12.6" y="-31.6"/><use href="#L" x="-13.9" y="29.2"/><use href="#L" x="-35.3" y="7.6"/><use href="#L" x="22.7" y="-23.1"/><use href="#L" x="-23.6" y="-27.3"/><use href="#L" x="-4.5" y="-27.3"/><use href="#L" x="33.1" y="3.0"/><use href="#L" x="-5.8" y="33.6"/><use href="#L" x="-29.4" y="-9.9"/><use href="#L" x="-15.5" y="-22.9"/><use href="#L" x="5.2" y="29.2"/><use href="#L" x="16.2" y="24.8"/><use href="#L" x="30.2" y="11.7"/><use href="#L" x="13.3" y="33.5"/><use href="#L" x="6.5" y="-31.7"/><use href="#L" x="-1.6" y="-36.0"/><use href="#L" x="14.6" y="-27.4"/><use href="#L" x="27.3" y="20.4"/><use href="#L" x="30.8" y="-18.7"/><use href="#L" x="27.9" y="-10.0"/><use href="#L" x="-25.8" y="-13.5"/><use href="#L" x="-31.6" y="3.9"/><use href="#L" x="-23.5" y="8.3"/><use href="#L" x="-28.7" y="-4.8"/><use href="#L" x="-0.8" y="-30.9"/><use href="#L" x="15.4" y="-22.3"/><use href="#L" x="-11.8" y="-26.6"/><use href="#L" x="22.8" y="12.5"/><use href="#L" x="-3.7" y="-22.2"/><use href="#L" x="-2.1" y="29.9"/><use href="#L" x="-10.2" y="25.6"/><use href="#L" x="-26.4" y="17.0"/><use href="#L" x="-22.9" y="-22.2"/><use href="#L" x="-18.3" y="21.3"/><use href="#L" x="20.6" y="-9.3"/><use href="#L" x="19.9" y="21.2"/><use href="#L" x="-14.8" y="-17.8"/><use href="#L" x="28.6" y="-4.9"/><use href="#L" x="25.7" y="3.8"/><use href="#L" x="8.9" y="25.6"/><use href="#L" x="7.3" y="-26.6"/><use href="#L" x="23.5" y="-18.0"/><use href="#L" x="-17.6" y="26.4"/><use href="#L" x="-14.6" y="17.7"/><use href="#L" x="-19.8" y="4.7"/><use href="#L" x="-22.7" y="13.4"/><use href="#L" x="-6.5" y="22.0"/><use href="#L" x="-25.0" y="-8.4"/><use href="#L" x="8.0" y="-21.5"/><use href="#L" x="-8.2" y="-30.2"/><use href="#L" x="-11.1" y="-21.5"/><use href="#L" x="15.5" y="13.2"/><use href="#L" x="-27.9" y="0.3"/><use href="#L" x="21.3" y="-4.2"/><use href="#L" x="24.2" y="-12.9"/><use href="#L" x="12.6" y="22.0"/><use href="#L" x="-22.1" y="-17.1"/><use href="#L" x="-0.1" y="-25.8"/><use href="#L" x="1.5" y="26.3"/><use href="#L" x="26.5" y="8.9"/><use href="#L" x="29.4" y="0.2"/><use href="#L" x="23.6" y="17.6"/><use href="#L" x="16.1" y="-17.2"/><use href="#L" x="-16.2" y="1.0"/><use href="#L" x="-13.9" y="22.8"/><use href="#L" x="-18.4" y="-20.7"/><use href="#L" x="-24.3" y="-3.3"/><use href="#L" x="-21.4" y="-12.0"/><use href="#L" x="0.7" y="-20.7"/><use href="#L" x="-22.0" y="18.5"/><use href="#L" x="-2.9" y="18.4"/><use href="#L" x="-27.2" y="5.4"/><use href="#L" x="8.1" y="14.0"/><use href="#L" x="22.1" y="0.9"/><use href="#L" x="19.1" y="9.6"/><use href="#L" x="19.8" y="-20.8"/><use href="#L" x="-11.0" y="14.1"/><use href="#L" x="-10.3" y="-16.4"/><use href="#L" x="11.7" y="-25.1"/><use href="#L" x="14.0" y="-3.4"/><use href="#L" x="-19.1" y="9.7"/><use href="#L" x="-7.4" y="-25.1"/><use href="#L" x="-5.8" y="27.1"/><use href="#L" x="5.2" y="22.7"/><use href="#L" x="16.9" y="-12.1"/><use href="#L" x="16.2" y="18.3"/><use href="#L" x="8.8" y="-16.4"/><use href="#L" x="-13.3" y="-7.7"/><use href="#L" x="25.0" y="-7.8"/><use href="#L" x="-23.5" y="1.8"/><use href="#L" x="-6.7" y="-20.0"/><use href="#L" x="-2.1" y="23.5"/><use href="#L" x="-9.6" y="-11.3"/><use href="#L" x="12.4" y="-20.0"/><use href="#L" x="-15.4" y="6.1"/><use href="#L" x="14.7" y="1.7"/><use href="#L" x="-12.5" y="-2.6"/><use href="#L" x="22.8" y="6.0"/><use href="#L" x="11.8" y="10.4"/><use href="#L" x="-10.2" y="19.2"/><use href="#L" x="0.8" y="14.8"/><use href="#L" x="-17.7" y="-15.6"/><use href="#L" x="9.5" y="-11.3"/><use href="#L" x="-18.3" y="14.8"/><use href="#L" x="-7.3" y="10.5"/><use href="#L" x="19.9" y="14.7"/><use href="#L" x="1.4" y="-15.7"/><use href="#L" x="20.5" y="-15.7"/><use href="#L" x="4.3" y="-24.4"/><use href="#L" x="6.6" y="-2.6"/><use href="#L" x="-1.5" y="-7.0"/><use href="#L" x="-20.6" y="-6.9"/><use href="#L" x="8.9" y="19.1"/><use href="#L" x="25.7" y="-2.7"/><use href="#L" x="17.6" y="-7.0"/><use href="#L" x="15.5" y="6.8"/><use href="#L" x="-16.9" y="-10.5"/><use href="#L" x="4.4" y="11.2"/><use href="#L" x="-19.8" y="-1.8"/><use href="#L" x="-3.7" y="6.8"/><use href="#L" x="-14.7" y="11.2"/><use href="#L" x="2.2" y="-10.6"/><use href="#L" x="-6.6" y="15.5"/><use href="#L" x="-8.8" y="-6.2"/><use href="#L" x="-5.9" y="-14.9"/><use href="#L" x="5.1" y="-19.3"/><use href="#L" x="-11.8" y="2.5"/><use href="#L" x="1.5" y="19.9"/><use href="#L" x="12.5" y="15.5"/><use href="#L" x="7.4" y="2.5"/><use href="#L" x="13.2" y="-14.9"/><use href="#L" x="-0.7" y="-1.9"/><use href="#L" x="10.3" y="-6.2"/><use href="#L" x="18.4" y="-1.9"/><use href="#L" x="-8.1" y="-1.1"/><use href="#L" x="-5.2" y="-9.8"/><use href="#L" x="-11.0" y="7.6"/><use href="#L" x="-19.1" y="3.3"/><use href="#L" x="-2.3" y="-18.5"/><use href="#L" x="0.0" y="3.2"/><use href="#L" x="-2.9" y="11.9"/><use href="#L" x="8.1" y="7.6"/><use href="#L" x="19.1" y="3.2"/><use href="#L" x="-13.3" y="-14.1"/><use href="#L" x="5.8" y="-14.2"/><use href="#L" x="-16.2" y="-5.4"/><use href="#L" x="13.9" y="-9.9"/><use href="#L" x="5.2" y="16.3"/><use href="#L" x="11.0" y="-1.2"/><use href="#L" x="2.9" y="-5.5"/><use href="#L" x="-1.5" y="-13.4"/><use href="#L" x="0.8" y="8.3"/><use href="#L" x="11.8" y="3.9"/><use href="#L" x="-7.3" y="4.0"/><use href="#L" x="6.6" y="-9.1"/><use href="#L" x="-4.4" y="-4.7"/><use href="#L" x="3.7" y="-0.4"/><use href="#L" x="4.4" y="4.7"/><use href="#L" x="-3.7" y="0.4"/></g><g transform="translate(221.7,108.3)"><circle r="64.5" fill="rgb(144,141,148)"/><use href="#L" x="-57.0" y="30.3"/><use href="#G" x="-60.5" y="21.8"/><use href="#L" x="-49.4" y="-42.2"/><use href="#L" x="54.7" y="-34.7"/><use href="#L" x="-7.7" y="-63.9"/><use href="#L" x="-53.0" y="37.2"/><use href="#L" x="-3.5" y="65.1"/><use href="#L" x="37.0" y="53.6"/><use href="#L" x="9.9" y="-64.4"/><use href="#L" x="62.5" y="18.5"/><use href="#G" x="-59.5" y="-26.3"/><use href="#L" x="65.0" y="-5.7"/><use href="#L" x="63.1" y="13.3"/><use href="#L" x="-16.5" y="-61.9"/><use href="#L" x="-30.0" y="-58.1"/><use href="#L" x="-63.3" y="11.7"/><use href="#L" x="-39.4" y="-50.9"/><use href="#L" x="51.8" y="39.5"/><use href="#L" x="62.2" y="-19.3"/><use href="#L" x="-25.3" y="-59.9"/><use href="#L" x="51.2" y="-39.6"/><use href="#L" x="-11.8" y="-63.7"/><use href="#L" x="58.8" y="-27.8"/><use href="#L" x="-24.5" y="60.6"/><use href="#L" x="23.5" y="61.0"/><use href="#L" x="-56.4" y="32.3"/><use href="#G" x="47.0" y="44.9"/><use href="#G" x="-20.6" y="-61.7"/><use href="#L" x="65.0" y="-2.1"/><use href="#G" x="-59.5" y="-22.7"/><use href="#L" x="-44.9" y="47.5"/><use href="#G" x="-59.9" y="23.8"/><use href="#G" x="63.1" y="16.9"/><use href="#L" x="-40.8" y="50.8"/><use href="#L" x="14.7" y="63.0"/><use href="#G" x="-63.3" y="15.3"/><use href="#L" x="-58.9" y="-27.9"/><use href="#L" x="35.6" y="-54.6"/><use href="#L" x="63.7" y="11.8"/><use href="#L" x="-38.8" y="-52.5"/><use href="#L" x="-62.7" y="10.1"/><use href="#L" x="5.9" y="65.1"/><use href="#L" x="47.8" y="-44.6"/><use href="#L" x="52.4" y="37.9"/><use href="#L" x="64.3" y="6.6"/><use href="#L" x="23.3" y="-61.1"/><use href="#L" x="-53.6" y="-34.8"/><use href="#L" x="65.0" y="1.5"/><use href="#G" x="-43.5" y="-47.1"/><use href="#G" x="-58.9" y="-24.3"/><use href="#L" x="-48.3" y="42.5"/><use href="#L" x="-55.9" y="30.7"/><use href="#L" x="47.6" y="43.3"/><use href="#L" x="-59.3" y="22.2"/><use href="#L" x="-62.7" y="13.7"/><use href="#L" x="1.8" y="65.3"/><use href="#L" x="-58.3" y="-29.4"/><use href="#L" x="64.3" y="10.2"/><use href="#L" x="62.8" y="-17.3"/><use href="#G" x="-48.2" y="-41.7"/><use href="#G" x="19.2" y="-60.8"/><use href="#L" x="-32.1" y="55.9"/><use href="#L" x="-11.1" y="64.0"/><use href="#L" x="-62.1" y="8.6"/><use href="#L" x="42.9" y="48.7"/><use href="#G" x="59.3" y="-25.8"/><use href="#L" x="64.9" y="5.1"/><use href="#L" x="53.0" y="36.4"/><use href="#L" x="33.5" y="55.8"/><use href="#L" x="-33.5" y="-55.8"/><use href="#L" x="-53.0" y="-36.4"/><use href="#L" x="-58.9" y="-20.7"/><use href="#G" x="-64.9" y="-5.1"/><use href="#G" x="-51.8" y="37.6"/><use href="#L" x="-59.3" y="25.8"/><use href="#G" x="-42.9" y="-48.7"/><use href="#L" x="11.1" y="-64.0"/><use href="#L" x="32.1" y="-55.9"/><use href="#L" x="-62.8" y="17.3"/><use href="#L" x="-64.3" y="-10.2"/><use href="#L" x="-58.3" y="-25.9"/><use href="#L" x="36.1" y="-52.6"/><use href="#L" x="58.3" y="29.4"/><use href="#L" x="-1.8" y="-65.3"/><use href="#L" x="-28.8" y="-57.6"/><use href="#L" x="-62.1" y="12.2"/><use href="#L" x="2.4" y="63.7"/><use href="#G" x="-47.6" y="-43.3"/><use href="#L" x="48.3" y="-42.5"/><use href="#G" x="43.5" y="47.1"/><use href="#L" x="-10.6" y="-63.3"/><use href="#L" x="-65.0" y="-1.5"/><use href="#G" x="-27.4" y="57.7"/><use href="#L" x="-53.0" y="-32.8"/><use href="#G" x="53.6" y="34.8"/><use href="#L" x="34.1" y="54.3"/><use href="#L" x="7.0" y="-63.7"/><use href="#L" x="-23.3" y="61.1"/><use href="#L" x="-55.3" y="32.7"/><use href="#L" x="-58.4" y="-22.3"/><use href="#G" x="-64.3" y="-6.6"/><use href="#G" x="-52.4" y="-37.9"/><use href="#L" x="-47.8" y="44.6"/><use href="#G" x="-19.4" y="-61.2"/><use href="#L" x="-5.9" y="-65.1"/><use href="#L" x="-58.7" y="24.2"/><use href="#G" x="-43.7" y="47.9"/><use href="#L" x="-1.7" y="63.9"/><use href="#G" x="38.8" y="52.5"/><use href="#G" x="-63.7" y="-11.8"/><use href="#L" x="-57.7" y="-27.4"/><use href="#L" x="-39.6" y="51.2"/><use href="#L" x="-62.2" y="15.7"/><use href="#L" x="15.7" y="-62.2"/><use href="#L" x="-14.6" y="62.6"/><use href="#L" x="-35.6" y="54.6"/><use href="#L" x="63.3" y="-15.3"/><use href="#L" x="58.9" y="27.9"/><use href="#L" x="-14.7" y="-63.0"/><use href="#G" x="40.8" y="-50.8"/><use href="#G" x="-63.1" y="-16.9"/><use href="#L" x="-61.5" y="10.6"/><use href="#L" x="-37.6" y="-52.0"/><use href="#L" x="44.9" y="-47.5"/><use href="#L" x="59.9" y="-23.8"/><use href="#L" x="59.5" y="22.7"/><use href="#L" x="20.6" y="61.7"/><use href="#L" x="-65.0" y="2.1"/><use href="#L" x="-47.0" y="-44.9"/><use href="#L" x="56.4" y="-32.3"/><use href="#G" x="-23.5" y="-61.0"/><use href="#L" x="44.1" y="45.6"/><use href="#L" x="24.5" y="-60.6"/><use href="#L" x="34.7" y="52.7"/><use href="#G" x="-5.8" y="64.2"/><use href="#L" x="54.2" y="33.2"/><use href="#L" x="-64.4" y="-3.0"/><use href="#L" x="-52.4" y="-34.4"/><use href="#L" x="28.6" y="-57.3"/><use href="#G" x="-58.8" y="27.8"/><use href="#G" x="11.8" y="63.7"/><use href="#G" x="-22.7" y="59.5"/><use href="#G" x="-51.2" y="39.6"/><use href="#L" x="25.3" y="59.9"/><use href="#L" x="-42.4" y="-46.7"/><use href="#G" x="-62.2" y="19.3"/><use href="#L" x="-54.7" y="31.1"/><use href="#G" x="-47.2" y="43.0"/><use href="#L" x="-51.8" y="-39.5"/><use href="#L" x="-57.8" y="-23.8"/><use href="#G" x="-63.7" y="-8.2"/><use href="#L" x="-58.1" y="22.7"/><use href="#L" x="-43.1" y="46.3"/><use href="#L" x="-1.1" y="62.4"/><use href="#L" x="39.4" y="50.9"/><use href="#L" x="63.3" y="-11.7"/><use href="#L" x="30.0" y="58.1"/><use href="#G" x="49.4" y="38.6"/><use href="#L" x="-39.0" y="49.7"/><use href="#G" x="-61.6" y="14.2"/><use href="#L" x="-63.1" y="-13.3"/><use href="#G" x="-57.1" y="-29.0"/><use href="#L" x="16.5" y="61.9"/><use href="#L" x="-14.0" y="61.1"/><use href="#L" x="-35.0" y="53.0"/><use href="#L" x="59.5" y="26.3"/><use href="#G" x="-65.0" y="5.7"/><use href="#L" x="-47.1" y="-41.3"/><use href="#L" x="20.4" y="-60.4"/><use href="#L" x="48.9" y="-40.5"/><use href="#L" x="-62.5" y="-18.5"/><use href="#G" x="-60.9" y="9.0"/><use href="#L" x="-9.9" y="64.4"/><use href="#L" x="-30.9" y="56.4"/><use href="#L" x="3.5" y="-65.1"/><use href="#L" x="-37.0" y="-53.6"/><use href="#L" x="53.0" y="-37.2"/><use href="#L" x="7.7" y="63.9"/><use href="#L" x="21.2" y="60.1"/><use href="#L" x="-64.4" y="0.5"/><use href="#L" x="60.1" y="21.2"/><use href="#L" x="62.7" y="-3.0"/><use href="#L" x="44.7" y="44.0"/><use href="#L" x="-5.2" y="62.6"/><use href="#G" x="-32.3" y="-55.4"/><use href="#G" x="-63.8" y="-4.6"/><use href="#L" x="-54.7" y="34.7"/><use href="#L" x="54.8" y="31.7"/><use href="#G" x="-57.8" y="-20.3"/><use href="#L" x="-51.8" y="-35.9"/><use href="#L" x="35.3" y="51.2"/><use href="#L" x="60.7" y="16.0"/><use href="#L" x="-5.3" y="-63.0"/><use href="#G" x="25.9" y="58.3"/><use href="#L" x="12.4" y="62.1"/><use href="#G" x="-50.6" y="38.1"/><use href="#L" x="-22.1" y="57.9"/><use href="#G" x="-58.2" y="26.2"/><use href="#L" x="63.3" y="-8.1"/><use href="#L" x="-41.8" y="-48.2"/><use href="#L" x="12.2" y="-63.5"/><use href="#L" x="33.2" y="-55.5"/><use href="#G" x="-61.6" y="17.7"/><use href="#L" x="-18.1" y="61.3"/><use href="#L" x="-46.6" y="41.4"/><use href="#L" x="-54.1" y="29.6"/><use href="#L" x="49.4" y="42.2"/><use href="#L" x="16.3" y="-60.2"/><use href="#L" x="-57.2" y="-25.4"/><use href="#L" x="-63.1" y="-9.8"/><use href="#G" x="55.4" y="26.5"/><use href="#L" x="61.4" y="10.9"/><use href="#L" x="37.3" y="-52.1"/><use href="#L" x="-0.5" y="60.8"/><use href="#L" x="-57.5" y="21.1"/><use href="#G" x="-42.5" y="44.8"/><use href="#L" x="40.0" y="49.4"/><use href="#L" x="-27.6" y="-57.2"/><use href="#L" x="-14.1" y="-61.0"/><use href="#L" x="-0.6" y="-64.8"/><use href="#L" x="41.4" y="-48.8"/><use href="#L" x="3.6" y="64.2"/><use href="#L" x="50.0" y="37.0"/><use href="#L" x="17.1" y="60.3"/><use href="#L" x="-37.1" y="-50.0"/><use href="#L" x="-61.0" y="12.6"/><use href="#L" x="-62.5" y="-14.9"/><use href="#G" x="-38.4" y="48.1"/><use href="#L" x="30.6" y="56.5"/><use href="#L" x="62.0" y="5.7"/><use href="#L" x="-56.5" y="-30.6"/><use href="#L" x="45.4" y="-45.4"/><use href="#L" x="60.5" y="-21.8"/><use href="#L" x="52.9" y="-33.6"/><use href="#L" x="-13.4" y="59.5"/><use href="#L" x="-34.4" y="51.5"/><use href="#G" x="40.6" y="44.2"/><use href="#L" x="57.0" y="-30.3"/><use href="#L" x="-64.4" y="4.1"/><use href="#L" x="-46.5" y="-42.9"/><use href="#L" x="-60.3" y="7.5"/><use href="#L" x="-9.3" y="62.8"/><use href="#L" x="-30.3" y="54.8"/><use href="#L" x="31.2" y="51.4"/><use href="#G" x="-9.4" y="-62.8"/><use href="#L" x="62.6" y="0.6"/><use href="#L" x="-22.9" y="-59.0"/><use href="#L" x="25.1" y="-58.6"/><use href="#L" x="21.8" y="58.5"/><use href="#L" x="60.7" y="19.6"/><use href="#G" x="-51.8" y="-32.4"/><use href="#L" x="-26.2" y="58.2"/><use href="#G" x="-57.8" y="-16.7"/><use href="#G" x="-63.8" y="-1.0"/><use href="#L" x="8.3" y="62.4"/><use href="#L" x="8.1" y="-63.3"/><use href="#L" x="29.1" y="-55.3"/><use href="#L" x="45.3" y="42.4"/><use href="#L" x="-59.7" y="2.3"/><use href="#L" x="-41.8" y="-44.7"/><use href="#L" x="12.2" y="-59.9"/><use href="#L" x="63.2" y="-4.6"/><use href="#G" x="33.2" y="-51.9"/><use href="#L" x="-54.1" y="33.2"/><use href="#L" x="61.3" y="14.5"/><use href="#L" x="55.4" y="30.1"/><use href="#L" x="35.9" y="49.6"/><use href="#G" x="-4.6" y="61.0"/><use href="#L" x="59.8" y="-13.0"/><use href="#L" x="-63.2" y="-6.2"/><use href="#L" x="-51.2" y="-37.5"/><use href="#L" x="-57.2" y="-21.8"/><use href="#L" x="-18.2" y="-60.8"/><use href="#L" x="37.3" y="-48.6"/><use href="#L" x="-59.1" y="-2.8"/><use href="#L" x="-21.5" y="56.4"/><use href="#L" x="13.0" y="60.6"/><use href="#L" x="-57.6" y="24.7"/><use href="#G" x="-50.0" y="36.5"/><use href="#L" x="26.5" y="56.8"/><use href="#G" x="-0.7" y="-61.3"/><use href="#L" x="45.9" y="37.3"/><use href="#L" x="41.3" y="-45.2"/><use href="#L" x="62.0" y="9.3"/><use href="#L" x="56.0" y="25.0"/><use href="#L" x="-61.0" y="16.2"/><use href="#L" x="-17.5" y="59.7"/><use href="#G" x="-56.6" y="-27.0"/><use href="#G" x="-46.0" y="39.9"/><use href="#G" x="-62.5" y="-11.3"/><use href="#L" x="60.4" y="-18.2"/><use href="#L" x="-53.5" y="28.0"/><use href="#L" x="52.9" y="-30.0"/><use href="#G" x="45.4" y="-41.9"/><use href="#L" x="0.1" y="59.2"/><use href="#L" x="-41.9" y="43.2"/><use href="#G" x="40.6" y="47.8"/><use href="#L" x="-58.5" y="-8.0"/><use href="#L" x="-46.5" y="-39.3"/><use href="#L" x="-56.9" y="19.5"/><use href="#L" x="21.0" y="-58.4"/><use href="#L" x="27.1" y="51.6"/><use href="#G" x="57.0" y="-26.7"/><use href="#L" x="49.5" y="-38.5"/><use href="#L" x="4.2" y="62.6"/><use href="#G" x="31.2" y="55.0"/><use href="#L" x="56.6" y="19.8"/><use href="#L" x="50.6" y="35.5"/><use href="#G" x="17.7" y="58.8"/><use href="#L" x="-60.4" y="11.0"/><use href="#L" x="62.6" y="4.2"/><use href="#L" x="-37.8" y="46.5"/><use href="#L" x="-36.5" y="-51.6"/><use href="#G" x="4.0" y="-63.1"/><use href="#L" x="25.0" y="-55.0"/><use href="#G" x="-57.8" y="-13.1"/><use href="#L" x="-51.9" y="-28.8"/><use href="#G" x="-56.3" y="14.4"/><use href="#L" x="59.2" y="-4.3"/><use href="#G" x="-12.8" y="57.9"/><use href="#G" x="-33.8" y="49.9"/><use href="#L" x="41.2" y="42.6"/><use href="#L" x="8.1" y="-59.7"/><use href="#L" x="57.2" y="14.7"/><use href="#L" x="51.3" y="30.3"/><use href="#L" x="4.8" y="57.5"/><use href="#L" x="-8.7" y="61.3"/><use href="#L" x="31.8" y="49.8"/><use href="#L" x="-59.7" y="5.9"/><use href="#L" x="-29.7" y="53.2"/><use href="#L" x="-25.6" y="56.6"/><use href="#L" x="-4.8" y="-61.0"/><use href="#G" x="-51.2" y="-33.9"/><use href="#L" x="-57.2" y="-18.3"/><use href="#L" x="8.9" y="60.8"/><use href="#G" x="22.4" y="57.0"/><use href="#L" x="-31.8" y="-53.4"/><use href="#L" x="59.8" y="-9.5"/><use href="#L" x="-18.3" y="-57.2"/><use href="#L" x="-59.1" y="0.7"/><use href="#G" x="-8.1" y="56.1"/><use href="#L" x="45.9" y="40.9"/><use href="#L" x="57.9" y="9.5"/><use href="#L" x="51.9" y="25.2"/><use href="#L" x="56.3" y="-18.0"/><use href="#L" x="-41.2" y="-46.2"/><use href="#G" x="-4.0" y="59.5"/><use href="#G" x="-25.0" y="51.5"/><use href="#L" x="60.4" y="-14.6"/><use href="#L" x="-53.5" y="31.6"/><use href="#G" x="-56.6" y="-23.4"/><use href="#L" x="36.5" y="48.0"/><use href="#L" x="9.5" y="55.7"/><use href="#L" x="23.0" y="51.8"/><use href="#L" x="52.9" y="-26.4"/><use href="#L" x="16.9" y="-58.1"/><use href="#L" x="45.4" y="-38.3"/><use href="#L" x="-57.0" y="23.1"/><use href="#L" x="13.6" y="59.0"/><use href="#L" x="46.5" y="35.7"/><use href="#G" x="-58.5" y="-4.4"/><use href="#L" x="58.5" y="4.4"/><use href="#L" x="-49.4" y="34.9"/><use href="#L" x="27.1" y="55.2"/><use href="#L" x="-20.9" y="54.8"/><use href="#L" x="-46.5" y="-35.7"/><use href="#L" x="49.4" y="-34.9"/><use href="#L" x="57.0" y="-23.1"/><use href="#L" x="-27.1" y="-55.2"/><use href="#L" x="20.9" y="-54.8"/><use href="#G" x="-13.6" y="-59.0"/><use href="#L" x="56.6" y="23.4"/><use href="#L" x="37.1" y="42.9"/><use href="#L" x="-16.9" y="58.1"/><use href="#L" x="-45.4" y="38.3"/><use href="#G" x="-52.9" y="26.4"/><use href="#L" x="-36.5" y="-48.0"/><use href="#L" x="4.0" y="-59.5"/><use href="#G" x="-57.9" y="-9.5"/><use href="#G" x="-56.3" y="18.0"/><use href="#L" x="59.1" y="-0.7"/><use href="#G" x="-51.9" y="-25.2"/><use href="#L" x="47.2" y="30.6"/><use href="#L" x="27.7" y="50.0"/><use href="#G" x="-48.8" y="29.8"/><use href="#L" x="0.7" y="57.7"/><use href="#L" x="-41.3" y="41.6"/><use href="#L" x="-45.9" y="-40.9"/><use href="#L" x="-52.3" y="21.3"/><use href="#L" x="-37.2" y="45.0"/><use href="#L" x="57.2" y="18.3"/><use href="#L" x="51.2" y="33.9"/><use href="#L" x="-59.8" y="9.5"/><use href="#L" x="-8.9" y="-60.8"/><use href="#G" x="4.8" y="61.0"/><use href="#L" x="18.3" y="57.2"/><use href="#G" x="-22.4" y="-57.0"/><use href="#L" x="-12.2" y="56.4"/><use href="#L" x="59.7" y="-5.9"/><use href="#L" x="41.8" y="41.1"/><use href="#L" x="-55.7" y="12.8"/><use href="#G" x="-33.2" y="48.3"/><use href="#L" x="-57.2" y="-14.7"/><use href="#G" x="-51.3" y="-30.3"/><use href="#L" x="-4.8" y="-57.5"/><use href="#G" x="-31.8" y="-49.8"/><use href="#L" x="29.7" y="-53.2"/><use href="#L" x="57.8" y="13.1"/><use href="#L" x="51.9" y="28.8"/><use href="#L" x="-8.1" y="59.7"/><use href="#G" x="-29.1" y="51.7"/><use href="#L" x="12.8" y="-57.9"/><use href="#L" x="5.4" y="55.9"/><use href="#L" x="32.4" y="48.2"/><use href="#G" x="-59.2" y="4.3"/><use href="#L" x="56.3" y="-14.4"/><use href="#L" x="33.8" y="-49.9"/><use href="#G" x="-41.2" y="-42.6"/><use href="#L" x="9.5" y="59.2"/><use href="#L" x="-56.6" y="-19.8"/><use href="#G" x="-25.0" y="55.0"/><use href="#L" x="52.9" y="-22.9"/><use href="#L" x="23.0" y="55.4"/><use href="#L" x="37.8" y="-46.5"/><use href="#L" x="16.8" y="-54.6"/><use href="#G" x="45.3" y="-34.7"/><use href="#L" x="-7.5" y="54.6"/><use href="#L" x="52.5" y="23.6"/><use href="#L" x="-58.5" y="-0.8"/><use href="#G" x="-13.6" y="-55.4"/><use href="#G" x="58.5" y="8.0"/><use href="#L" x="-0.1" y="-59.2"/><use href="#L" x="-46.6" y="-32.1"/><use href="#L" x="-27.1" y="-51.6"/><use href="#G" x="56.9" y="-19.5"/><use href="#L" x="49.4" y="-31.4"/><use href="#G" x="41.9" y="-43.2"/><use href="#L" x="-3.4" y="57.9"/><use href="#L" x="37.1" y="46.5"/><use href="#L" x="23.6" y="50.3"/><use href="#L" x="10.1" y="54.1"/><use href="#L" x="-24.4" y="49.9"/><use href="#L" x="4.0" y="-55.9"/><use href="#L" x="-36.5" y="-44.4"/><use href="#L" x="53.1" y="18.5"/><use href="#L" x="59.1" y="2.8"/><use href="#L" x="-20.3" y="53.2"/><use href="#G" x="-57.9" y="-6.0"/><use href="#L" x="-48.8" y="33.4"/><use href="#L" x="47.1" y="34.1"/><use href="#G" x="-51.9" y="-21.6"/><use href="#L" x="14.2" y="57.4"/><use href="#L" x="-45.9" y="-37.3"/><use href="#L" x="37.7" y="41.3"/><use href="#L" x="55.6" y="-5.7"/><use href="#L" x="-44.8" y="36.7"/><use href="#L" x="-16.3" y="56.6"/><use href="#L" x="-52.3" y="24.9"/><use href="#L" x="-8.9" y="-57.2"/><use href="#L" x="25.6" y="-53.0"/><use href="#L" x="-22.4" y="-53.4"/><use href="#L" x="-48.2" y="28.2"/><use href="#L" x="-55.7" y="16.4"/><use href="#L" x="47.8" y="29.0"/><use href="#L" x="14.8" y="52.3"/><use href="#G" x="-51.3" y="-26.8"/><use href="#L" x="-57.3" y="-11.1"/><use href="#L" x="-40.7" y="40.1"/><use href="#L" x="28.3" y="48.5"/><use href="#L" x="1.3" y="56.1"/><use href="#L" x="8.7" y="-57.7"/><use href="#G" x="-31.8" y="-46.2"/><use href="#G" x="29.7" y="-49.7"/><use href="#G" x="18.9" y="55.6"/><use href="#L" x="56.3" y="-10.8"/><use href="#L" x="-15.6" y="51.4"/><use href="#L" x="-36.6" y="43.4"/><use href="#G" x="12.7" y="-54.3"/><use href="#L" x="-41.2" y="-39.1"/><use href="#G" x="33.7" y="-46.3"/><use href="#L" x="-32.6" y="46.8"/><use href="#L" x="42.4" y="39.5"/><use href="#L" x="-55.1" y="11.2"/><use href="#L" x="-11.6" y="54.8"/><use href="#L" x="52.8" y="-19.3"/><use href="#L" x="-17.7" y="-55.2"/><use href="#L" x="37.8" y="-43.0"/><use href="#G" x="45.3" y="-31.1"/><use href="#L" x="33.0" y="46.7"/><use href="#L" x="19.5" y="50.5"/><use href="#L" x="-28.5" y="50.1"/><use href="#L" x="6.0" y="54.3"/><use href="#L" x="-27.1" y="-48.0"/><use href="#L" x="49.4" y="-27.8"/><use href="#L" x="41.9" y="-39.6"/><use href="#L" x="-0.1" y="-55.7"/><use href="#L" x="55.0" y="3.1"/><use href="#L" x="43.0" y="34.4"/><use href="#G" x="-36.5" y="-40.9"/><use href="#L" x="33.6" y="41.5"/><use href="#L" x="-51.9" y="-18.0"/><use href="#L" x="-6.9" y="53.0"/><use href="#L" x="53.1" y="22.1"/><use href="#L" x="21.5" y="-52.8"/><use href="#G" x="-27.9" y="45.0"/><use href="#L" x="-46.0" y="-33.7"/><use href="#L" x="55.6" y="-2.1"/><use href="#L" x="25.6" y="-49.4"/><use href="#L" x="24.2" y="48.7"/><use href="#L" x="-8.9" y="-53.6"/><use href="#L" x="-2.8" y="56.3"/><use href="#L" x="10.7" y="52.5"/><use href="#L" x="-22.4" y="-49.8"/><use href="#L" x="-23.8" y="48.3"/><use href="#L" x="52.2" y="-10.6"/><use href="#L" x="53.7" y="16.9"/><use href="#G" x="-19.7" y="51.7"/><use href="#L" x="-31.8" y="-42.7"/><use href="#G" x="-51.3" y="-23.2"/><use href="#L" x="8.6" y="-54.1"/><use href="#L" x="29.6" y="-46.1"/><use href="#L" x="38.3" y="39.7"/><use href="#L" x="-51.7" y="23.3"/><use href="#L" x="-44.2" y="35.2"/><use href="#L" x="56.2" y="-7.2"/><use href="#G" x="-2.2" y="51.2"/><use href="#G" x="12.7" y="-50.8"/><use href="#L" x="-41.3" y="-35.5"/><use href="#L" x="48.7" y="-19.1"/><use href="#L" x="33.7" y="-42.7"/><use href="#G" x="28.9" y="46.9"/><use href="#L" x="1.9" y="54.5"/><use href="#L" x="37.8" y="-39.4"/><use href="#L" x="52.8" y="-15.7"/><use href="#L" x="15.4" y="50.7"/><use href="#G" x="-4.2" y="-55.4"/><use href="#L" x="-40.1" y="38.5"/><use href="#G" x="-47.6" y="26.7"/><use href="#L" x="54.3" y="11.8"/><use href="#L" x="45.3" y="-27.6"/><use href="#L" x="48.4" y="27.4"/><use href="#L" x="-17.7" y="-51.6"/><use href="#L" x="-51.1" y="18.2"/><use href="#L" x="-15.0" y="49.9"/><use href="#L" x="-36.0" y="41.9"/><use href="#G" x="-0.2" y="-52.1"/><use href="#L" x="-43.6" y="30.0"/><use href="#G" x="38.9" y="34.6"/><use href="#L" x="49.4" y="-24.2"/><use href="#L" x="-52.6" y="-9.3"/><use href="#G" x="41.8" y="-36.0"/><use href="#L" x="-27.2" y="-44.5"/><use href="#L" x="-46.6" y="-25.0"/><use href="#L" x="2.5" y="49.4"/><use href="#L" x="-54.5" y="9.7"/><use href="#L" x="-47.0" y="21.5"/><use href="#G" x="17.4" y="-52.6"/><use href="#L" x="29.5" y="41.8"/><use href="#L" x="-11.0" y="53.2"/><use href="#L" x="49.0" y="22.3"/><use href="#L" x="-39.5" y="33.4"/><use href="#L" x="55.0" y="6.6"/><use href="#L" x="-36.6" y="-37.3"/><use href="#G" x="-32.0" y="45.2"/><use href="#L" x="51.5" y="-1.9"/><use href="#L" x="-52.0" y="-14.5"/><use href="#L" x="20.1" y="48.9"/><use href="#L" x="-35.4" y="36.7"/><use href="#L" x="-13.0" y="-53.4"/><use href="#L" x="-46.0" y="-30.1"/><use href="#L" x="-50.4" y="13.0"/><use href="#L" x="21.5" y="-49.2"/><use href="#L" x="6.6" y="52.8"/><use href="#L" x="49.6" y="17.2"/><use href="#L" x="-9.0" y="-50.1"/><use href="#L" x="43.6" y="32.8"/><use href="#L" x="-31.3" y="40.1"/><use href="#L" x="-10.3" y="48.1"/><use href="#L" x="-22.5" y="-46.3"/><use href="#L" x="25.5" y="-45.9"/><use href="#L" x="-53.9" y="4.5"/><use href="#L" x="4.5" y="-53.9"/><use href="#L" x="34.2" y="40.0"/><use href="#L" x="7.2" y="47.6"/><use href="#L" x="-6.3" y="51.4"/><use href="#L" x="-31.9" y="-39.1"/><use href="#L" x="-27.3" y="43.4"/><use href="#L" x="20.7" y="43.8"/><use href="#L" x="52.1" y="-7.0"/><use href="#L" x="29.6" y="-42.5"/><use href="#L" x="8.6" y="-50.5"/><use href="#G" x="11.3" y="51.0"/><use href="#L" x="24.8" y="47.1"/><use href="#L" x="50.2" y="12.0"/><use href="#G" x="-53.3" y="-0.6"/><use href="#L" x="33.7" y="-39.2"/><use href="#L" x="48.7" y="-15.5"/><use href="#L" x="-41.3" y="-31.9"/><use href="#L" x="-23.2" y="46.8"/><use href="#L" x="12.7" y="-47.2"/><use href="#L" x="44.3" y="27.7"/><use href="#L" x="41.2" y="-27.3"/><use href="#L" x="-19.1" y="50.1"/><use href="#L" x="-4.3" y="-51.9"/><use href="#L" x="-17.8" y="-48.0"/><use href="#G" x="34.8" y="34.8"/><use href="#L" x="45.3" y="-24.0"/><use href="#L" x="37.7" y="-35.8"/><use href="#L" x="50.9" y="6.9"/><use href="#L" x="44.9" y="22.5"/><use href="#L" x="-0.2" y="-48.5"/><use href="#L" x="-22.6" y="41.6"/><use href="#L" x="41.8" y="-32.5"/><use href="#L" x="11.9" y="45.8"/><use href="#G" x="25.4" y="42.0"/><use href="#L" x="-52.6" y="-5.7"/><use href="#G" x="-1.6" y="49.6"/><use href="#L" x="-27.2" y="-40.9"/><use href="#G" x="-46.7" y="-21.4"/><use href="#G" x="-18.5" y="45.0"/><use href="#L" x="16.0" y="49.2"/><use href="#G" x="-36.6" y="-33.7"/><use href="#L" x="17.4" y="-49.0"/><use href="#L" x="-14.4" y="48.3"/><use href="#L" x="-13.1" y="-49.8"/><use href="#L" x="45.5" y="17.4"/><use href="#L" x="51.5" y="1.7"/><use href="#G" x="-43.0" y="28.4"/><use href="#L" x="39.5" y="33.0"/><use href="#L" x="21.4" y="-45.6"/><use href="#L" x="48.0" y="-6.8"/><use href="#L" x="-46.4" y="20.0"/><use href="#G" x="16.6" y="44.0"/><use href="#L" x="-9.0" y="-46.5"/><use href="#L" x="4.5" y="-50.3"/><use href="#L" x="-38.9" y="31.8"/><use href="#L" x="30.1" y="40.2"/><use href="#L" x="-22.5" y="-42.7"/><use href="#L" x="-42.0" y="-23.2"/><use href="#L" x="3.1" y="47.8"/><use href="#L" x="-47.9" y="-7.5"/><use href="#L" x="25.5" y="-42.3"/><use href="#G" x="46.1" y="12.2"/><use href="#L" x="44.6" y="-15.3"/><use href="#L" x="-49.8" y="11.5"/><use href="#L" x="-42.3" y="23.3"/><use href="#L" x="-34.8" y="35.1"/><use href="#L" x="40.2" y="27.9"/><use href="#G" x="8.6" y="-47.0"/><use href="#L" x="37.1" y="-27.1"/><use href="#L" x="-13.8" y="43.2"/><use href="#L" x="29.6" y="-38.9"/><use href="#G" x="-31.9" y="-35.5"/><use href="#L" x="30.7" y="35.1"/><use href="#L" x="-47.3" y="-12.7"/><use href="#L" x="-45.8" y="14.8"/><use href="#G" x="48.7" y="-11.9"/><use href="#L" x="12.6" y="-43.6"/><use href="#L" x="-30.7" y="38.5"/><use href="#L" x="-38.3" y="26.7"/><use href="#L" x="-9.7" y="46.5"/><use href="#L" x="-41.3" y="-28.3"/><use href="#L" x="33.6" y="-35.6"/><use href="#L" x="41.2" y="-23.8"/><use href="#L" x="21.3" y="42.2"/><use href="#L" x="45.2" y="-20.4"/><use href="#L" x="-5.7" y="49.9"/><use href="#L" x="46.8" y="7.1"/><use href="#L" x="-26.7" y="41.8"/><use href="#G" x="7.8" y="46.0"/><use href="#L" x="-34.2" y="30.0"/><use href="#L" x="40.8" y="22.8"/><use href="#G" x="-17.8" y="-44.5"/><use href="#L" x="-41.7" y="18.2"/><use href="#L" x="-49.2" y="6.3"/><use href="#L" x="-4.3" y="-48.3"/><use href="#L" x="37.7" y="-32.2"/><use href="#L" x="-27.2" y="-37.3"/><use href="#G" x="-45.1" y="9.7"/><use href="#L" x="-30.1" y="33.3"/><use href="#G" x="-46.7" y="-17.8"/><use href="#L" x="-0.2" y="-44.9"/><use href="#L" x="-26.0" y="36.7"/><use href="#L" x="21.9" y="37.1"/><use href="#G" x="35.4" y="33.3"/><use href="#L" x="-48.6" y="1.2"/><use href="#L" x="-42.6" y="-14.5"/><use href="#L" x="-5.0" y="44.7"/><use href="#G" x="41.4" y="17.6"/><use href="#L" x="47.4" y="2.0"/><use href="#L" x="17.3" y="-45.4"/><use href="#L" x="-36.6" y="-30.1"/><use href="#G" x="26.0" y="40.4"/><use href="#L" x="-22.0" y="40.0"/><use href="#G" x="-44.5" y="4.5"/><use href="#L" x="-1.0" y="48.1"/><use href="#L" x="-13.1" y="-46.3"/><use href="#L" x="12.5" y="44.3"/><use href="#L" x="44.0" y="-6.5"/><use href="#L" x="21.4" y="-42.1"/><use href="#G" x="4.5" y="-46.7"/><use href="#L" x="-17.9" y="43.4"/><use href="#G" x="40.5" y="-15.0"/><use href="#G" x="33.0" y="-26.9"/><use href="#L" x="42.0" y="12.5"/><use href="#L" x="48.0" y="-3.2"/><use href="#L" x="25.5" y="-38.7"/><use href="#L" x="36.1" y="28.1"/><use href="#L" x="-22.5" y="-39.1"/><use href="#G" x="-9.0" y="-42.9"/><use href="#L" x="-48.0" y="-4.0"/><use href="#L" x="-42.0" y="-19.6"/><use href="#L" x="13.1" y="39.1"/><use href="#L" x="44.6" y="-11.7"/><use href="#L" x="37.1" y="-23.5"/><use href="#L" x="-31.9" y="-31.9"/><use href="#L" x="26.6" y="35.3"/><use href="#L" x="8.5" y="-43.4"/><use href="#L" x="-21.4" y="34.9"/><use href="#L" x="-43.9" y="-0.6"/><use href="#G" x="-0.3" y="42.9"/><use href="#L" x="29.6" y="-35.4"/><use href="#G" x="3.7" y="46.3"/><use href="#G" x="17.2" y="42.5"/><use href="#L" x="12.6" y="-40.0"/><use href="#L" x="41.1" y="-20.2"/><use href="#G" x="-17.3" y="38.3"/><use href="#G" x="42.7" y="7.3"/><use href="#L" x="33.6" y="-32.0"/><use href="#L" x="36.7" y="23.0"/><use href="#L" x="27.3" y="30.1"/><use href="#L" x="16.7" y="-36.7"/><use href="#L" x="-43.3" y="-5.8"/><use href="#L" x="-37.3" y="-21.4"/><use href="#L" x="-17.8" y="-40.9"/><use href="#L" x="-4.3" y="-44.7"/><use href="#L" x="-13.2" y="41.6"/><use href="#L" x="17.8" y="37.3"/><use href="#L" x="31.3" y="33.5"/><use href="#L" x="-37.7" y="25.1"/><use href="#G" x="43.3" y="2.2"/><use href="#G" x="20.8" y="-33.3"/><use href="#G" x="4.4" y="41.1"/><use href="#L" x="-0.3" y="-41.4"/><use href="#L" x="37.3" y="17.8"/><use href="#L" x="-9.1" y="44.9"/><use href="#L" x="-27.2" y="-33.7"/><use href="#L" x="-13.7" y="-37.5"/><use href="#L" x="39.9" y="-6.3"/><use href="#L" x="-12.6" y="36.5"/><use href="#L" x="-42.6" y="-10.9"/><use href="#L" x="-36.7" y="-26.6"/><use href="#L" x="8.4" y="44.5"/><use href="#L" x="17.3" y="-41.8"/><use href="#L" x="24.8" y="-30.0"/><use href="#L" x="3.8" y="-38.0"/><use href="#G" x="-41.1" y="16.6"/><use href="#L" x="-33.6" y="28.4"/><use href="#L" x="-32.6" y="-23.2"/><use href="#L" x="-38.6" y="-7.6"/><use href="#L" x="28.9" y="-26.6"/><use href="#G" x="32.0" y="28.4"/><use href="#L" x="-8.5" y="39.8"/><use href="#G" x="-13.1" y="-42.7"/><use href="#L" x="-29.5" y="31.8"/><use href="#L" x="36.4" y="-14.8"/><use href="#L" x="21.4" y="-38.5"/><use href="#L" x="37.9" y="12.7"/><use href="#G" x="43.9" y="-3.0"/><use href="#L" x="-37.0" y="19.9"/><use href="#L" x="-40.5" y="11.5"/><use href="#L" x="22.5" y="35.5"/><use href="#L" x="4.4" y="-43.2"/><use href="#L" x="-33.0" y="23.3"/><use href="#L" x="-9.0" y="-39.3"/><use href="#G" x="40.5" y="-11.5"/><use href="#L" x="25.5" y="-35.1"/><use href="#L" x="-25.5" y="35.1"/><use href="#G" x="-4.4" y="43.2"/><use href="#G" x="33.0" y="-23.3"/><use href="#L" x="-22.5" y="-35.5"/><use href="#L" x="9.0" y="39.3"/><use href="#G" x="-7.9" y="34.7"/><use href="#L" x="37.0" y="-19.9"/><use href="#L" x="-5.0" y="-36.0"/><use href="#L" x="38.6" y="7.6"/><use href="#G" x="-36.4" y="14.8"/><use href="#G" x="-18.5" y="-32.2"/><use href="#L" x="-32.0" y="-28.4"/><use href="#L" x="32.6" y="23.2"/><use href="#L" x="-28.9" y="26.6"/><use href="#L" x="29.5" y="-31.8"/><use href="#L" x="-37.9" y="-12.7"/><use href="#L" x="8.5" y="-39.8"/><use href="#L" x="9.7" y="34.2"/><use href="#G" x="-3.8" y="38.0"/><use href="#L" x="-24.8" y="30.0"/><use href="#L" x="-39.9" y="6.3"/><use href="#L" x="-32.3" y="18.1"/><use href="#L" x="-27.9" y="-25.0"/><use href="#L" x="23.2" y="30.4"/><use href="#L" x="12.6" y="-36.5"/><use href="#L" x="13.7" y="37.5"/><use href="#L" x="-35.8" y="9.7"/><use href="#G" x="-4.4" y="-41.1"/><use href="#G" x="0.3" y="41.4"/><use href="#L" x="39.2" y="2.4"/><use href="#L" x="-28.3" y="21.5"/><use href="#L" x="-37.3" y="-17.8"/><use href="#L" x="16.7" y="-33.1"/><use href="#L" x="33.2" y="18.1"/><use href="#L" x="-20.8" y="33.3"/><use href="#G" x="-17.8" y="-37.3"/><use href="#L" x="-33.2" y="-14.5"/><use href="#G" x="35.8" y="-6.1"/><use href="#L" x="-39.2" y="1.2"/><use href="#L" x="23.8" y="25.2"/><use href="#L" x="-0.3" y="-37.8"/><use href="#L" x="-24.2" y="24.8"/><use href="#L" x="28.2" y="-17.9"/><use href="#L" x="20.7" y="-29.8"/><use href="#L" x="-13.8" y="-34.0"/><use href="#L" x="-16.7" y="36.7"/><use href="#L" x="-3.2" y="32.9"/><use href="#L" x="-27.3" y="-30.1"/><use href="#L" x="39.8" y="-2.7"/><use href="#L" x="-20.1" y="28.2"/><use href="#G" x="14.4" y="32.4"/><use href="#L" x="27.9" y="28.6"/><use href="#L" x="32.3" y="-14.6"/><use href="#L" x="33.8" y="12.9"/><use href="#L" x="0.9" y="36.2"/><use href="#G" x="-35.2" y="4.5"/><use href="#L" x="3.8" y="-34.4"/><use href="#L" x="24.8" y="-26.4"/><use href="#L" x="-23.2" y="-26.8"/><use href="#L" x="18.4" y="35.7"/><use href="#L" x="7.9" y="-31.1"/><use href="#L" x="-16.1" y="31.5"/><use href="#L" x="28.9" y="-23.1"/><use href="#G" x="4.9" y="39.6"/><use href="#G" x="36.4" y="-11.2"/><use href="#L" x="-38.6" y="-4.0"/><use href="#L" x="-32.6" y="-19.6"/><use href="#L" x="-12.0" y="34.9"/><use href="#L" x="15.0" y="27.3"/><use href="#L" x="34.5" y="7.8"/><use href="#L" x="28.5" y="23.4"/><use href="#L" x="11.9" y="-27.7"/><use href="#L" x="1.5" y="31.1"/><use href="#G" x="-9.1" y="-35.8"/><use href="#L" x="32.9" y="-19.7"/><use href="#L" x="-34.5" y="-0.6"/><use href="#G" x="-28.5" y="-16.3"/><use href="#L" x="-22.6" y="-31.9"/><use href="#L" x="5.6" y="34.4"/><use href="#L" x="16.0" y="-24.4"/><use href="#L" x="-15.4" y="26.4"/><use href="#L" x="19.1" y="30.6"/><use href="#L" x="31.0" y="-0.7"/><use href="#L" x="-5.0" y="-32.4"/><use href="#L" x="-18.5" y="-28.6"/><use href="#G" x="8.5" y="-36.2"/><use href="#L" x="27.6" y="-9.2"/><use href="#L" x="-11.4" y="29.7"/><use href="#L" x="-27.9" y="-21.4"/><use href="#L" x="-33.9" y="-5.8"/><use href="#L" x="12.6" y="-32.9"/><use href="#L" x="20.1" y="-21.0"/><use href="#L" x="29.1" y="18.3"/><use href="#L" x="35.1" y="2.6"/><use href="#L" x="-14.4" y="-25.2"/><use href="#L" x="-0.9" y="-29.1"/><use href="#G" x="-7.3" y="33.1"/><use href="#L" x="6.2" y="29.3"/><use href="#L" x="-29.8" y="-2.4"/><use href="#L" x="-23.9" y="-18.1"/><use href="#L" x="31.7" y="-5.9"/><use href="#L" x="19.7" y="25.5"/><use href="#G" x="24.1" y="-17.7"/><use href="#L" x="16.6" y="-29.5"/><use href="#L" x="10.3" y="32.6"/><use href="#L" x="28.2" y="-14.3"/><use href="#G" x="-10.7" y="24.6"/><use href="#L" x="35.7" y="-2.5"/><use href="#L" x="-0.3" y="-34.2"/><use href="#L" x="20.7" y="-26.2"/><use href="#L" x="-13.8" y="-30.4"/><use href="#L" x="-33.3" y="-10.9"/><use href="#L" x="-31.7" y="16.6"/><use href="#L" x="29.7" y="13.2"/><use href="#L" x="26.3" y="4.7"/><use href="#L" x="6.8" y="24.1"/><use href="#G" x="-27.7" y="19.9"/><use href="#L" x="-9.7" y="-27.0"/><use href="#L" x="20.3" y="20.3"/><use href="#L" x="32.3" y="-11.0"/><use href="#L" x="-23.2" y="-23.2"/><use href="#L" x="-29.2" y="-7.6"/><use href="#L" x="24.8" y="-22.8"/><use href="#L" x="3.8" y="-30.9"/><use href="#L" x="-6.7" y="28.0"/><use href="#L" x="-19.2" y="-19.9"/><use href="#L" x="-31.1" y="11.4"/><use href="#L" x="24.4" y="23.7"/><use href="#G" x="7.8" y="-27.5"/><use href="#L" x="10.9" y="27.5"/><use href="#L" x="30.4" y="8.0"/><use href="#G" x="-2.6" y="31.3"/><use href="#L" x="-25.1" y="-4.2"/><use href="#G" x="-23.6" y="23.3"/><use href="#L" x="-5.7" y="-23.7"/><use href="#L" x="20.9" y="15.2"/><use href="#G" x="-15.1" y="-16.5"/><use href="#G" x="-28.6" y="-12.7"/><use href="#L" x="-19.5" y="26.6"/><use href="#L" x="-27.0" y="14.8"/><use href="#L" x="11.9" y="-24.2"/><use href="#L" x="19.4" y="-12.3"/><use href="#L" x="-9.1" y="-32.2"/><use href="#L" x="26.9" y="-0.5"/><use href="#L" x="-6.0" y="22.8"/><use href="#L" x="16.0" y="-20.8"/><use href="#L" x="11.5" y="22.3"/><use href="#L" x="25.0" y="18.5"/><use href="#L" x="23.5" y="-9.0"/><use href="#L" x="31.0" y="2.9"/><use href="#L" x="-5.0" y="-28.8"/><use href="#G" x="-30.5" y="6.3"/><use href="#L" x="-18.5" y="-25.0"/><use href="#L" x="-23.0" y="18.1"/><use href="#L" x="-24.5" y="-9.4"/><use href="#L" x="-2.0" y="26.2"/><use href="#L" x="2.1" y="29.5"/><use href="#L" x="-18.9" y="21.5"/><use href="#L" x="27.6" y="-5.6"/><use href="#L" x="-20.4" y="-6.0"/><use href="#L" x="21.6" y="10.0"/><use href="#L" x="20.0" y="-17.5"/><use href="#L" x="-26.4" y="9.6"/><use href="#L" x="15.6" y="25.7"/><use href="#L" x="-14.5" y="-21.7"/><use href="#L" x="-1.0" y="-25.5"/><use href="#L" x="24.1" y="-14.1"/><use href="#G" x="-1.3" y="21.0"/><use href="#L" x="-14.8" y="24.8"/><use href="#G" x="-29.9" y="1.2"/><use href="#L" x="-23.9" y="-14.5"/><use href="#L" x="25.6" y="13.4"/><use href="#L" x="18.1" y="1.5"/><use href="#G" x="12.2" y="17.2"/><use href="#L" x="3.1" y="-22.1"/><use href="#L" x="-22.3" y="13.0"/><use href="#G" x="-10.4" y="-18.3"/><use href="#L" x="16.2" y="20.5"/><use href="#L" x="2.7" y="24.4"/><use href="#L" x="14.7" y="-6.9"/><use href="#L" x="-6.3" y="-15.0"/><use href="#G" x="-18.3" y="16.3"/><use href="#L" x="7.2" y="-18.8"/><use href="#L" x="22.2" y="4.9"/><use href="#L" x="-19.8" y="-11.2"/><use href="#L" x="-25.8" y="4.5"/><use href="#L" x="11.2" y="-15.4"/><use href="#L" x="-14.2" y="19.7"/><use href="#L" x="18.8" y="-3.6"/><use href="#G" x="12.8" y="12.1"/><use href="#L" x="-0.7" y="15.9"/><use href="#G" x="-9.8" y="-23.5"/><use href="#L" x="-2.2" y="-11.6"/><use href="#L" x="26.3" y="8.2"/><use href="#L" x="-21.7" y="7.9"/><use href="#L" x="-15.7" y="-7.8"/><use href="#L" x="3.7" y="-27.3"/><use href="#L" x="16.8" y="15.4"/><use href="#L" x="-19.2" y="-16.3"/><use href="#G" x="-25.2" y="-0.6"/><use href="#L" x="22.8" y="-0.3"/><use href="#L" x="-10.1" y="23.0"/><use href="#L" x="3.4" y="19.2"/><use href="#L" x="15.3" y="-12.1"/><use href="#L" x="7.8" y="-23.9"/><use href="#L" x="1.8" y="-8.3"/><use href="#L" x="9.3" y="3.6"/><use href="#L" x="-5.7" y="-20.1"/><use href="#L" x="-17.6" y="11.2"/><use href="#L" x="-11.7" y="-4.5"/><use href="#G" x="13.4" y="6.9"/><use href="#L" x="19.4" y="-8.7"/><use href="#L" x="7.4" y="22.6"/><use href="#L" x="-7.6" y="-1.1"/><use href="#G" x="-21.1" y="2.7"/><use href="#L" x="-15.1" y="-12.9"/><use href="#L" x="11.9" y="-20.6"/><use href="#G" x="-1.6" y="-16.8"/><use href="#L" x="-13.6" y="14.5"/><use href="#L" x="-0.1" y="10.7"/><use href="#L" x="5.9" y="-4.9"/><use href="#L" x="15.9" y="-17.2"/><use href="#L" x="4.0" y="14.1"/><use href="#L" x="10.0" y="-1.6"/><use href="#L" x="17.5" y="10.3"/><use href="#L" x="23.5" y="-5.4"/><use href="#L" x="-17.0" y="6.1"/><use href="#L" x="-11.0" y="-9.6"/><use href="#L" x="-3.5" y="2.2"/><use href="#G" x="2.4" y="-13.4"/><use href="#L" x="-9.5" y="17.9"/><use href="#G" x="0.5" y="5.6"/><use href="#L" x="-5.4" y="21.2"/><use href="#G" x="6.5" y="-10.1"/><use href="#G" x="-1.0" y="-21.9"/><use href="#G" x="-20.5" y="-2.4"/><use href="#L" x="8.1" y="17.4"/><use href="#L" x="14.0" y="1.8"/><use href="#L" x="-7.0" y="-6.3"/><use href="#L" x="-13.0" y="9.4"/><use href="#L" x="3.1" y="-18.6"/><use href="#L" x="-8.9" y="12.8"/><use href="#L" x="18.1" y="5.1"/><use href="#L" x="-2.9" y="-2.9"/><use href="#L" x="10.6" y="-6.7"/><use href="#L" x="-16.4" y="0.9"/><use href="#L" x="-10.4" y="-14.7"/><use href="#L" x="4.6" y="8.9"/><use href="#L" x="1.2" y="0.4"/><use href="#L" x="-4.8" y="16.1"/><use href="#L" x="7.1" y="-15.2"/><use href="#G" x="-6.3" y="-11.4"/><use href="#L" x="14.7" y="-3.4"/><use href="#L" x="8.7" y="12.3"/><use href="#L" x="-12.3" y="4.3"/><use href="#L" x="11.2" y="-11.9"/><use href="#L" x="-15.8" y="-4.2"/><use href="#L" x="5.2" y="3.8"/><use href="#L" x="-8.3" y="7.6"/><use href="#L" x="-2.3" y="-8.0"/><use href="#L" x="1.8" y="-4.7"/><use href="#L" x="-11.7" y="-0.9"/><use href="#L" x="-4.2" y="11.0"/><use href="#L" x="9.3" y="7.1"/><use href="#G" x="-7.6" y="2.5"/><use href="#L" x="5.9" y="-1.3"/><use href="#G" x="-3.6" y="5.8"/></g><g transform="translate(369.8,107.6)"><circle r="64.3" fill="rgb(139,133,113)"/><use href="#G" x="2.7" y="64.7"/><use href="#G" x="-14.8" y="63.4"/><use href="#G" x="-58.6" y="26.3"/><use href="#L" x="-61.9" y="17.8"/><use href="#L" x="39.1" y="52.0"/><use href="#L" x="63.8" y="-8.7"/><use href="#L" x="-35.6" y="53.5"/><use href="#L" x="-2.0" y="64.9"/><use href="#L" x="-64.8" y="4.1"/><use href="#G" x="-45.7" y="-46.1"/><use href="#G" x="54.2" y="34.6"/><use href="#L" x="59.8" y="24.1"/><use href="#L" x="61.0" y="-22.4"/><use href="#G" x="-31.8" y="56.9"/><use href="#L" x="-62.1" y="-20.0"/><use href="#G" x="-50.8" y="-40.8"/><use href="#L" x="30.0" y="-57.9"/><use href="#G" x="29.3" y="57.5"/><use href="#L" x="-17.8" y="-62.1"/><use href="#G" x="-8.8" y="-64.0"/><use href="#L" x="33.9" y="-54.4"/><use href="#L" x="-55.5" y="33.4"/><use href="#G" x="-62.2" y="16.3"/><use href="#G" x="63.5" y="-10.2"/><use href="#G" x="-65.1" y="2.6"/><use href="#L" x="33.7" y="55.8"/><use href="#G" x="-62.9" y="-16.4"/><use href="#L" x="48.3" y="43.5"/><use href="#G" x="59.5" y="22.6"/><use href="#L" x="-13.4" y="-63.8"/><use href="#L" x="60.6" y="-23.9"/><use href="#L" x="-19.8" y="62.0"/><use href="#L" x="-32.1" y="55.4"/><use href="#L" x="-64.6" y="-2.5"/><use href="#G" x="-56.8" y="-31.9"/><use href="#L" x="43.1" y="48.8"/><use href="#L" x="8.4" y="-64.1"/><use href="#G" x="-41.7" y="-49.4"/><use href="#L" x="-55.8" y="31.9"/><use href="#G" x="14.9" y="63.2"/><use href="#L" x="-62.6" y="14.8"/><use href="#G" x="-63.7" y="-12.7"/><use href="#G" x="-46.8" y="-44.1"/><use href="#G" x="58.7" y="26.2"/><use href="#L" x="53.1" y="36.7"/><use href="#L" x="-32.2" y="-56.4"/><use href="#L" x="63.2" y="-11.7"/><use href="#L" x="53.1" y="-37.4"/><use href="#L" x="37.4" y="-52.5"/><use href="#L" x="25.1" y="-59.2"/><use href="#G" x="-11.6" y="63.8"/><use href="#G" x="-51.9" y="-38.7"/><use href="#G" x="16.6" y="-62.4"/><use href="#G" x="-44.8" y="47.2"/><use href="#L" x="19.2" y="61.5"/><use href="#G" x="-65.0" y="-4.0"/><use href="#G" x="-27.9" y="-58.1"/><use href="#G" x="-40.9" y="50.6"/><use href="#G" x="-64.5" y="-9.1"/><use href="#G" x="37.7" y="52.6"/><use href="#G" x="57.9" y="29.8"/><use href="#L" x="62.4" y="-8.1"/><use href="#L" x="48.9" y="-42.3"/><use href="#G" x="-62.9" y="13.3"/><use href="#G" x="-56.2" y="30.3"/><use href="#G" x="23.5" y="59.8"/><use href="#G" x="52.7" y="35.1"/><use href="#L" x="58.4" y="24.7"/><use href="#L" x="-23.5" y="-59.8"/><use href="#G" x="-5.6" y="-63.6"/><use href="#L" x="56.2" y="-30.3"/><use href="#L" x="62.9" y="-13.3"/><use href="#G" x="59.5" y="-21.8"/><use href="#L" x="-48.9" y="42.3"/><use href="#L" x="-57.9" y="-29.8"/><use href="#G" x="-37.7" y="-52.6"/><use href="#G" x="64.5" y="9.1"/><use href="#L" x="28.6" y="-57.3"/><use href="#L" x="40.9" y="-50.6"/><use href="#L" x="-45.1" y="45.7"/><use href="#L" x="27.9" y="58.1"/><use href="#L" x="65.0" y="4.0"/><use href="#L" x="-19.2" y="-61.5"/><use href="#L" x="-10.2" y="-63.4"/><use href="#G" x="44.8" y="-47.2"/><use href="#L" x="-41.2" y="49.1"/><use href="#L" x="-16.6" y="62.4"/><use href="#L" x="37.3" y="51.1"/><use href="#L" x="51.9" y="38.7"/><use href="#L" x="57.6" y="28.3"/><use href="#L" x="62.1" y="-9.6"/><use href="#G" x="11.6" y="-63.8"/><use href="#G" x="-25.1" y="59.2"/><use href="#G" x="-53.1" y="37.4"/><use href="#L" x="-37.4" y="52.5"/><use href="#L" x="-3.7" y="64.0"/><use href="#L" x="-63.2" y="11.7"/><use href="#L" x="-56.5" y="28.8"/><use href="#G" x="32.2" y="56.4"/><use href="#L" x="-58.7" y="-26.2"/><use href="#G" x="-53.1" y="-36.7"/><use href="#L" x="46.8" y="44.1"/><use href="#G" x="52.4" y="33.6"/><use href="#L" x="58.0" y="23.2"/><use href="#G" x="63.7" y="12.7"/><use href="#G" x="62.6" y="-14.8"/><use href="#G" x="-14.9" y="-63.2"/><use href="#L" x="59.2" y="-23.3"/><use href="#G" x="55.8" y="-31.9"/><use href="#G" x="-49.3" y="40.8"/><use href="#L" x="41.7" y="49.4"/><use href="#L" x="64.2" y="7.6"/><use href="#L" x="6.9" y="-63.6"/><use href="#L" x="-45.4" y="44.2"/><use href="#G" x="-8.4" y="64.1"/><use href="#L" x="27.6" y="56.6"/><use href="#L" x="-43.1" y="-48.8"/><use href="#L" x="56.8" y="31.9"/><use href="#G" x="64.6" y="2.5"/><use href="#G" x="19.8" y="-62.0"/><use href="#G" x="-16.9" y="60.9"/><use href="#G" x="-41.6" y="47.6"/><use href="#L" x="13.4" y="63.8"/><use href="#G" x="-60.6" y="23.9"/><use href="#G" x="-48.3" y="-43.5"/><use href="#L" x="37.0" y="49.5"/><use href="#L" x="57.2" y="26.8"/><use href="#L" x="51.6" y="37.2"/><use href="#L" x="62.9" y="16.4"/><use href="#L" x="-33.7" y="-55.8"/><use href="#L" x="61.8" y="-11.2"/><use href="#G" x="65.1" y="-2.6"/><use href="#L" x="51.7" y="-36.8"/><use href="#G" x="-25.4" y="57.7"/><use href="#G" x="-37.7" y="51.0"/><use href="#G" x="-53.4" y="35.8"/><use href="#L" x="-56.8" y="27.3"/><use href="#L" x="-60.2" y="18.8"/><use href="#G" x="-63.5" y="10.2"/><use href="#L" x="-4.0" y="62.4"/><use href="#L" x="31.9" y="54.9"/><use href="#L" x="52.1" y="32.1"/><use href="#L" x="46.5" y="42.5"/><use href="#G" x="57.7" y="21.7"/><use href="#L" x="63.3" y="11.2"/><use href="#G" x="62.2" y="-16.3"/><use href="#G" x="58.9" y="-24.8"/><use href="#G" x="55.5" y="-33.4"/><use href="#L" x="-33.9" y="54.4"/><use href="#G" x="-21.5" y="61.1"/><use href="#L" x="-49.6" y="39.3"/><use href="#G" x="17.8" y="62.1"/><use href="#L" x="8.8" y="64.0"/><use href="#L" x="-63.0" y="5.1"/><use href="#L" x="41.4" y="47.8"/><use href="#L" x="63.8" y="6.1"/><use href="#G" x="-29.3" y="-57.5"/><use href="#L" x="-30.0" y="57.9"/><use href="#L" x="-45.7" y="42.7"/><use href="#G" x="-8.7" y="62.6"/><use href="#G" x="-62.6" y="-0.0"/><use href="#L" x="27.2" y="55.0"/><use href="#L" x="36.2" y="53.2"/><use href="#L" x="-60.3" y="-19.0"/><use href="#L" x="56.4" y="30.4"/><use href="#L" x="64.3" y="1.0"/><use href="#L" x="50.8" y="40.8"/><use href="#L" x="61.0" y="-7.6"/><use href="#G" x="62.1" y="20.0"/><use href="#L" x="31.8" y="-56.9"/><use href="#L" x="47.5" y="-41.7"/><use href="#G" x="-17.2" y="59.4"/><use href="#L" x="-41.9" y="46.1"/><use href="#G" x="-61.0" y="22.4"/><use href="#L" x="4.1" y="64.1"/><use href="#G" x="36.7" y="48.0"/><use href="#L" x="13.1" y="62.3"/><use href="#L" x="22.1" y="60.4"/><use href="#G" x="-59.8" y="-24.1"/><use href="#G" x="-62.1" y="-5.2"/><use href="#L" x="-54.2" y="-34.6"/><use href="#G" x="45.7" y="46.1"/><use href="#L" x="51.3" y="35.7"/><use href="#L" x="-16.0" y="-61.1"/><use href="#L" x="56.9" y="25.3"/><use href="#L" x="64.8" y="-4.1"/><use href="#L" x="62.5" y="14.8"/><use href="#G" x="-7.0" y="-63.0"/><use href="#L" x="61.4" y="-12.7"/><use href="#G" x="2.0" y="-64.9"/><use href="#G" x="-25.0" y="-59.2"/><use href="#G" x="23.3" y="-60.1"/><use href="#G" x="58.1" y="-21.2"/><use href="#L" x="54.7" y="-29.8"/><use href="#L" x="51.3" y="-38.3"/><use href="#G" x="35.6" y="-53.5"/><use href="#L" x="-25.7" y="56.2"/><use href="#G" x="-60.5" y="17.2"/><use href="#L" x="-38.0" y="49.5"/><use href="#L" x="-13.3" y="62.8"/><use href="#L" x="-57.1" y="25.8"/><use href="#L" x="-53.7" y="34.3"/><use href="#G" x="-63.8" y="8.7"/><use href="#L" x="-4.4" y="60.9"/><use href="#L" x="31.6" y="53.3"/><use href="#L" x="-61.6" y="-10.3"/><use href="#L" x="46.2" y="41.0"/><use href="#L" x="-39.1" y="-52.0"/><use href="#L" x="51.8" y="30.6"/><use href="#L" x="57.4" y="20.1"/><use href="#L" x="63.0" y="9.7"/><use href="#L" x="27.1" y="-56.7"/><use href="#L" x="58.6" y="-26.3"/><use href="#L" x="61.9" y="-17.8"/><use href="#L" x="14.8" y="-63.4"/><use href="#L" x="39.5" y="-50.1"/><use href="#L" x="8.5" y="62.4"/><use href="#G" x="-49.9" y="37.7"/><use href="#L" x="-34.2" y="52.9"/><use href="#L" x="-21.8" y="59.6"/><use href="#G" x="-0.5" y="64.3"/><use href="#L" x="26.4" y="58.7"/><use href="#L" x="-63.4" y="3.6"/><use href="#G" x="-60.0" y="12.1"/><use href="#L" x="-56.6" y="20.7"/><use href="#L" x="-53.3" y="29.2"/><use href="#G" x="-61.1" y="-15.4"/><use href="#G" x="17.5" y="60.5"/><use href="#L" x="41.0" y="46.3"/><use href="#G" x="-44.2" y="-46.7"/><use href="#L" x="-11.7" y="-62.8"/><use href="#L" x="60.1" y="-4.0"/><use href="#G" x="63.5" y="4.6"/><use href="#L" x="57.9" y="15.0"/><use href="#G" x="-20.7" y="-60.9"/><use href="#G" x="-2.7" y="-64.7"/><use href="#G" x="43.3" y="-46.7"/><use href="#G" x="18.6" y="-60.0"/><use href="#G" x="-46.1" y="41.2"/><use href="#L" x="-30.3" y="56.3"/><use href="#L" x="-9.0" y="61.1"/><use href="#G" x="-60.6" y="-20.5"/><use href="#G" x="26.9" y="53.5"/><use href="#G" x="35.9" y="51.6"/><use href="#G" x="-62.9" y="-1.6"/><use href="#G" x="-55.0" y="-31.0"/><use href="#G" x="-49.4" y="-41.4"/><use href="#L" x="56.1" y="28.9"/><use href="#L" x="50.5" y="39.3"/><use href="#L" x="-34.8" y="-53.7"/><use href="#L" x="60.6" y="-9.1"/><use href="#L" x="61.7" y="18.4"/><use href="#L" x="58.4" y="9.9"/><use href="#L" x="64.0" y="-0.5"/><use href="#G" x="10.1" y="-63.2"/><use href="#L" x="57.3" y="-17.6"/><use href="#L" x="50.5" y="-34.7"/><use href="#G" x="47.2" y="-43.2"/><use href="#G" x="-42.2" y="44.6"/><use href="#L" x="-17.5" y="57.9"/><use href="#L" x="21.8" y="58.8"/><use href="#L" x="12.8" y="60.7"/><use href="#G" x="-29.9" y="51.2"/><use href="#L" x="3.8" y="62.6"/><use href="#L" x="-62.4" y="-6.7"/><use href="#G" x="45.4" y="44.6"/><use href="#G" x="51.0" y="34.2"/><use href="#G" x="56.6" y="23.8"/><use href="#L" x="36.4" y="46.5"/><use href="#L" x="58.9" y="4.8"/><use href="#G" x="-39.9" y="-48.4"/><use href="#L" x="62.2" y="13.3"/><use href="#L" x="61.1" y="-14.2"/><use href="#L" x="14.0" y="-59.8"/><use href="#L" x="54.4" y="-31.3"/><use href="#L" x="57.8" y="-22.7"/><use href="#L" x="-26.0" y="54.6"/><use href="#L" x="-54.1" y="32.8"/><use href="#G" x="-38.4" y="48.0"/><use href="#L" x="-57.4" y="24.3"/><use href="#L" x="-4.7" y="59.4"/><use href="#G" x="-13.7" y="61.3"/><use href="#G" x="-60.8" y="15.7"/><use href="#L" x="-61.9" y="-11.8"/><use href="#G" x="-56.3" y="-22.2"/><use href="#L" x="31.2" y="51.8"/><use href="#L" x="45.8" y="39.5"/><use href="#L" x="51.5" y="29.1"/><use href="#L" x="-45.0" y="-43.1"/><use href="#G" x="57.1" y="18.6"/><use href="#L" x="62.7" y="8.2"/><use href="#L" x="59.3" y="-0.3"/><use href="#L" x="-3.5" y="-61.1"/><use href="#G" x="-30.4" y="-55.4"/><use href="#L" x="-21.5" y="-57.3"/><use href="#G" x="-12.5" y="-59.2"/><use href="#G" x="5.5" y="-63.0"/><use href="#L" x="42.5" y="-43.1"/><use href="#G" x="-56.9" y="19.1"/><use href="#G" x="-0.8" y="62.8"/><use href="#L" x="-34.5" y="51.4"/><use href="#L" x="-22.2" y="58.1"/><use href="#L" x="17.1" y="59.0"/><use href="#L" x="-50.2" y="36.2"/><use href="#G" x="-53.6" y="27.7"/><use href="#G" x="8.1" y="60.9"/><use href="#L" x="-60.3" y="10.6"/><use href="#L" x="40.7" y="44.8"/><use href="#G" x="26.1" y="57.1"/><use href="#L" x="52.0" y="23.9"/><use href="#G" x="46.3" y="34.4"/><use href="#G" x="-55.8" y="-27.4"/><use href="#G" x="-50.2" y="-37.8"/><use href="#L" x="63.2" y="3.1"/><use href="#G" x="57.6" y="13.5"/><use href="#G" x="59.8" y="-5.5"/><use href="#G" x="56.5" y="-14.0"/><use href="#G" x="-35.6" y="-50.1"/><use href="#L" x="9.3" y="-59.6"/><use href="#G" x="46.4" y="-39.6"/><use href="#L" x="30.7" y="-54.8"/><use href="#L" x="-46.4" y="39.6"/><use href="#G" x="-49.7" y="31.1"/><use href="#G" x="-30.7" y="54.8"/><use href="#L" x="-9.3" y="59.6"/><use href="#L" x="-56.5" y="14.0"/><use href="#G" x="-53.1" y="22.6"/><use href="#L" x="-0.4" y="57.7"/><use href="#L" x="-59.8" y="5.5"/><use href="#L" x="35.6" y="50.1"/><use href="#L" x="-57.6" y="-13.5"/><use href="#L" x="41.2" y="39.7"/><use href="#L" x="26.6" y="52.0"/><use href="#L" x="55.8" y="27.4"/><use href="#L" x="50.2" y="37.8"/><use href="#G" x="58.1" y="8.4"/><use href="#L" x="-40.7" y="-44.8"/><use href="#G" x="-8.1" y="-60.9"/><use href="#L" x="-26.1" y="-57.1"/><use href="#G" x="56.9" y="-19.1"/><use href="#G" x="0.8" y="-62.8"/><use href="#L" x="-17.1" y="-59.0"/><use href="#L" x="22.2" y="-58.1"/><use href="#L" x="60.3" y="-10.6"/><use href="#G" x="53.6" y="-27.7"/><use href="#G" x="34.5" y="-51.4"/><use href="#L" x="50.2" y="-36.2"/><use href="#L" x="-17.8" y="56.4"/><use href="#L" x="-30.2" y="49.7"/><use href="#L" x="-57.1" y="-18.6"/><use href="#G" x="12.5" y="59.2"/><use href="#G" x="-42.5" y="43.1"/><use href="#L" x="3.5" y="61.1"/><use href="#L" x="21.5" y="57.3"/><use href="#L" x="-59.3" y="0.3"/><use href="#G" x="-51.5" y="-29.1"/><use href="#L" x="36.1" y="45.0"/><use href="#L" x="58.5" y="3.3"/><use href="#L" x="45.0" y="43.1"/><use href="#G" x="-45.8" y="-39.5"/><use href="#L" x="50.7" y="32.7"/><use href="#G" x="4.7" y="-59.4"/><use href="#G" x="-31.2" y="-51.8"/><use href="#G" x="56.3" y="22.2"/><use href="#G" x="57.4" y="-24.3"/><use href="#G" x="26.0" y="-54.6"/><use href="#G" x="38.4" y="-48.0"/><use href="#L" x="-38.7" y="46.5"/><use href="#L" x="-5.0" y="57.9"/><use href="#G" x="-14.0" y="59.8"/><use href="#L" x="-26.3" y="53.1"/><use href="#L" x="-58.9" y="-4.8"/><use href="#L" x="21.9" y="52.2"/><use href="#L" x="30.9" y="50.3"/><use href="#L" x="-56.6" y="-23.8"/><use href="#G" x="59.0" y="-1.9"/><use href="#L" x="-51.0" y="-34.2"/><use href="#L" x="51.1" y="27.5"/><use href="#L" x="45.5" y="38.0"/><use href="#G" x="-36.4" y="-46.5"/><use href="#G" x="56.8" y="17.1"/><use href="#G" x="55.7" y="-10.4"/><use href="#L" x="42.2" y="-44.6"/><use href="#L" x="17.5" y="-57.9"/><use href="#L" x="29.9" y="-51.2"/><use href="#L" x="45.6" y="-36.0"/><use href="#G" x="-53.9" y="26.2"/><use href="#L" x="-57.3" y="17.6"/><use href="#G" x="-50.5" y="34.7"/><use href="#L" x="-13.5" y="54.6"/><use href="#L" x="-1.2" y="61.3"/><use href="#G" x="-34.8" y="49.9"/><use href="#G" x="7.8" y="59.4"/><use href="#G" x="-60.6" y="9.1"/><use href="#L" x="-22.5" y="56.5"/><use href="#G" x="25.8" y="55.6"/><use href="#G" x="-52.8" y="-20.3"/><use href="#L" x="16.8" y="57.5"/><use href="#L" x="-58.4" y="-9.9"/><use href="#L" x="40.4" y="43.3"/><use href="#G" x="-41.5" y="-41.2"/><use href="#L" x="51.6" y="22.4"/><use href="#L" x="0.0" y="-59.2"/><use href="#L" x="46.0" y="32.9"/><use href="#L" x="-26.9" y="-53.5"/><use href="#L" x="-17.9" y="-55.4"/><use href="#L" x="52.8" y="-24.1"/><use href="#L" x="57.3" y="12.0"/><use href="#L" x="59.5" y="-7.0"/><use href="#L" x="-9.0" y="-57.3"/><use href="#L" x="56.1" y="-15.5"/><use href="#G" x="33.7" y="-47.8"/><use href="#L" x="49.4" y="-32.6"/><use href="#L" x="21.4" y="-54.5"/><use href="#L" x="-9.7" y="58.1"/><use href="#L" x="-56.8" y="12.5"/><use href="#G" x="-50.1" y="29.6"/><use href="#G" x="-53.4" y="21.0"/><use href="#L" x="-0.7" y="56.2"/><use href="#L" x="-34.3" y="44.8"/><use href="#G" x="-22.0" y="51.4"/><use href="#L" x="-46.7" y="38.1"/><use href="#G" x="-60.1" y="4.0"/><use href="#L" x="-57.9" y="-15.0"/><use href="#L" x="26.3" y="50.5"/><use href="#L" x="-52.3" y="-25.5"/><use href="#L" x="35.3" y="48.6"/><use href="#G" x="40.9" y="38.2"/><use href="#G" x="-32.1" y="-48.2"/><use href="#L" x="-46.7" y="-35.9"/><use href="#L" x="37.6" y="-44.4"/><use href="#L" x="53.3" y="-29.2"/><use href="#G" x="12.9" y="-57.7"/><use href="#G" x="56.6" y="-20.7"/><use href="#L" x="57.7" y="6.9"/><use href="#L" x="-42.8" y="41.5"/><use href="#L" x="3.2" y="59.6"/><use href="#L" x="-18.2" y="54.8"/><use href="#L" x="-30.5" y="48.2"/><use href="#L" x="-59.7" y="-1.2"/><use href="#G" x="-56.3" y="7.4"/><use href="#L" x="21.1" y="55.8"/><use href="#G" x="-46.2" y="33.0"/><use href="#G" x="12.2" y="57.7"/><use href="#L" x="-37.2" y="-42.9"/><use href="#L" x="35.7" y="43.5"/><use href="#G" x="50.3" y="31.1"/><use href="#G" x="-4.6" y="-59.0"/><use href="#G" x="-51.8" y="-30.6"/><use href="#L" x="16.7" y="-54.3"/><use href="#G" x="-13.6" y="-57.1"/><use href="#L" x="-22.6" y="-55.2"/><use href="#L" x="56.0" y="20.7"/><use href="#G" x="58.2" y="1.7"/><use href="#G" x="41.4" y="-41.0"/><use href="#G" x="-42.4" y="36.4"/><use href="#G" x="-39.0" y="45.0"/><use href="#G" x="3.7" y="54.5"/><use href="#L" x="-5.3" y="56.4"/><use href="#L" x="-53.6" y="-16.7"/><use href="#L" x="21.6" y="50.7"/><use href="#G" x="-55.8" y="2.2"/><use href="#G" x="-26.7" y="51.6"/><use href="#G" x="-59.2" y="-6.3"/><use href="#L" x="45.2" y="36.5"/><use href="#L" x="30.6" y="48.8"/><use href="#G" x="-42.3" y="-37.6"/><use href="#L" x="50.8" y="26.0"/><use href="#G" x="-27.7" y="-49.9"/><use href="#G" x="-0.8" y="-55.6"/><use href="#L" x="8.2" y="-57.5"/><use href="#L" x="48.6" y="-29.0"/><use href="#G" x="55.3" y="-11.9"/><use href="#L" x="56.4" y="15.6"/><use href="#L" x="45.2" y="-37.6"/><use href="#L" x="52.0" y="-20.5"/><use href="#L" x="58.7" y="-3.4"/><use href="#G" x="-13.8" y="53.1"/><use href="#G" x="-38.5" y="39.8"/><use href="#G" x="-26.2" y="46.5"/><use href="#G" x="7.5" y="57.9"/><use href="#G" x="16.5" y="56.0"/><use href="#L" x="40.1" y="41.8"/><use href="#G" x="-53.1" y="-21.9"/><use href="#G" x="-47.5" y="-32.3"/><use href="#L" x="45.7" y="31.3"/><use href="#L" x="-32.9" y="-44.6"/><use href="#L" x="56.9" y="10.5"/><use href="#L" x="55.8" y="-17.0"/><use href="#L" x="52.5" y="-25.6"/><use href="#G" x="12.1" y="-54.1"/><use href="#L" x="-10.0" y="56.5"/><use href="#G" x="-54.8" y="-8.0"/><use href="#L" x="-50.4" y="28.1"/><use href="#G" x="17.0" y="50.9"/><use href="#L" x="-34.7" y="43.2"/><use href="#L" x="8.0" y="52.8"/><use href="#L" x="-1.0" y="54.7"/><use href="#L" x="-22.3" y="49.9"/><use href="#L" x="-57.1" y="11.0"/><use href="#G" x="-53.7" y="19.5"/><use href="#L" x="26.0" y="49.0"/><use href="#L" x="3.6" y="-57.3"/><use href="#L" x="-5.4" y="-55.4"/><use href="#L" x="57.4" y="5.3"/><use href="#L" x="40.6" y="36.6"/><use href="#L" x="-23.4" y="-51.6"/><use href="#L" x="-14.4" y="-53.5"/><use href="#G" x="40.6" y="-37.4"/><use href="#L" x="-38.0" y="-39.3"/><use href="#L" x="24.9" y="-52.6"/><use href="#L" x="-49.9" y="22.9"/><use href="#G" x="11.8" y="56.2"/><use href="#G" x="-18.5" y="53.3"/><use href="#G" x="-30.8" y="46.7"/><use href="#G" x="-46.5" y="31.5"/><use href="#L" x="-56.6" y="5.9"/><use href="#G" x="-9.5" y="51.4"/><use href="#L" x="-54.4" y="-13.1"/><use href="#L" x="-53.3" y="14.4"/><use href="#L" x="28.7" y="-49.1"/><use href="#L" x="-48.7" y="-23.6"/><use href="#G" x="-28.5" y="-46.3"/><use href="#L" x="44.4" y="-33.9"/><use href="#G" x="35.4" y="42.0"/><use href="#G" x="7.4" y="-53.9"/><use href="#L" x="-43.1" y="-34.0"/><use href="#L" x="54.5" y="-8.3"/><use href="#G" x="47.8" y="-25.4"/><use href="#G" x="-42.7" y="34.9"/><use href="#L" x="-46.0" y="26.4"/><use href="#L" x="12.3" y="51.1"/><use href="#G" x="-5.6" y="54.8"/><use href="#G" x="-52.8" y="9.3"/><use href="#G" x="-56.1" y="0.7"/><use href="#G" x="3.3" y="52.9"/><use href="#L" x="30.3" y="47.3"/><use href="#G" x="-48.3" y="-28.7"/><use href="#L" x="50.5" y="24.5"/><use href="#L" x="21.3" y="49.2"/><use href="#L" x="-33.7" y="-41.0"/><use href="#G" x="51.7" y="-22.0"/><use href="#L" x="32.6" y="-45.7"/><use href="#L" x="20.2" y="-52.4"/><use href="#G" x="-10.1" y="-55.2"/><use href="#G" x="-19.1" y="-53.3"/><use href="#L" x="55.0" y="-13.4"/><use href="#G" x="-55.7" y="-4.4"/><use href="#G" x="-14.1" y="51.6"/><use href="#G" x="-38.8" y="38.3"/><use href="#L" x="-5.2" y="49.7"/><use href="#G" x="-26.5" y="45.0"/><use href="#L" x="-42.2" y="29.8"/><use href="#L" x="-50.0" y="-14.8"/><use href="#G" x="-52.3" y="4.1"/><use href="#G" x="30.8" y="42.1"/><use href="#G" x="45.4" y="29.8"/><use href="#L" x="-38.8" y="-35.7"/><use href="#L" x="-24.2" y="-48.0"/><use href="#G" x="-6.2" y="-51.8"/><use href="#L" x="39.8" y="-33.8"/><use href="#G" x="36.4" y="-42.3"/><use href="#G" x="-15.2" y="-49.9"/><use href="#G" x="51.0" y="19.4"/><use href="#G" x="53.2" y="0.4"/><use href="#L" x="24.1" y="-48.9"/><use href="#L" x="2.8" y="-53.7"/><use href="#G" x="-51.8" y="-1.0"/><use href="#G" x="7.7" y="51.2"/><use href="#L" x="-22.6" y="48.4"/><use href="#G" x="-35.0" y="41.7"/><use href="#G" x="-38.3" y="33.2"/><use href="#G" x="-1.3" y="53.1"/><use href="#G" x="-49.5" y="-20.0"/><use href="#L" x="-43.9" y="-30.4"/><use href="#L" x="16.7" y="49.3"/><use href="#L" x="-29.3" y="-42.7"/><use href="#G" x="51.5" y="14.3"/><use href="#L" x="25.6" y="47.5"/><use href="#G" x="45.9" y="24.7"/><use href="#L" x="40.2" y="35.1"/><use href="#G" x="47.0" y="-21.8"/><use href="#L" x="43.6" y="-30.3"/><use href="#G" x="27.9" y="-45.5"/><use href="#L" x="53.7" y="-4.7"/><use href="#L" x="6.6" y="-50.3"/><use href="#L" x="50.4" y="-13.3"/><use href="#L" x="15.6" y="-52.2"/><use href="#G" x="-51.3" y="-6.1"/><use href="#G" x="-34.5" y="36.6"/><use href="#G" x="-9.8" y="49.9"/><use href="#G" x="-0.8" y="48.0"/><use href="#L" x="-1.9" y="-53.5"/><use href="#G" x="26.1" y="42.3"/><use href="#G" x="35.1" y="40.4"/><use href="#L" x="52.0" y="9.1"/><use href="#L" x="-10.9" y="-51.6"/><use href="#G" x="40.7" y="30.0"/><use href="#G" x="-19.9" y="-49.7"/><use href="#L" x="19.4" y="-48.8"/><use href="#G" x="31.8" y="-42.1"/><use href="#G" x="-34.5" y="-37.4"/><use href="#L" x="50.9" y="-18.4"/><use href="#G" x="-46.4" y="24.8"/><use href="#L" x="-50.8" y="-11.2"/><use href="#G" x="-30.7" y="40.0"/><use href="#G" x="-49.7" y="16.3"/><use href="#L" x="-18.3" y="46.7"/><use href="#G" x="3.0" y="51.4"/><use href="#L" x="35.6" y="35.3"/><use href="#L" x="21.0" y="47.6"/><use href="#L" x="12.0" y="49.5"/><use href="#G" x="-7.0" y="-48.2"/><use href="#L" x="-45.2" y="-21.7"/><use href="#L" x="52.4" y="4.0"/><use href="#L" x="-25.0" y="-44.4"/><use href="#G" x="49.1" y="-4.5"/><use href="#L" x="10.9" y="-52.0"/><use href="#L" x="35.6" y="-38.7"/><use href="#L" x="2.0" y="-50.1"/><use href="#L" x="-16.0" y="-46.3"/><use href="#G" x="-39.6" y="-32.1"/><use href="#L" x="23.3" y="-45.3"/><use href="#L" x="39.0" y="-30.2"/><use href="#G" x="-45.9" y="19.7"/><use href="#G" x="-14.5" y="50.1"/><use href="#L" x="-30.2" y="34.9"/><use href="#L" x="-26.8" y="43.4"/><use href="#G" x="-47.0" y="-7.8"/><use href="#L" x="3.5" y="46.3"/><use href="#L" x="30.5" y="40.6"/><use href="#L" x="-42.5" y="28.3"/><use href="#L" x="-49.2" y="11.2"/><use href="#G" x="-5.5" y="48.2"/><use href="#G" x="21.5" y="42.5"/><use href="#L" x="-44.7" y="-26.8"/><use href="#L" x="5.8" y="-46.7"/><use href="#L" x="-30.1" y="-39.1"/><use href="#L" x="12.5" y="44.4"/><use href="#G" x="14.8" y="-48.6"/><use href="#L" x="49.6" y="-9.7"/><use href="#G" x="46.2" y="-18.2"/><use href="#L" x="27.1" y="-41.9"/><use href="#L" x="42.8" y="-26.7"/><use href="#G" x="-42.0" y="23.1"/><use href="#G" x="-48.8" y="6.0"/><use href="#G" x="-38.7" y="31.7"/><use href="#L" x="-26.3" y="38.3"/><use href="#L" x="-14.0" y="45.0"/><use href="#G" x="-40.9" y="-23.4"/><use href="#G" x="-35.3" y="-33.8"/><use href="#L" x="30.9" y="35.5"/><use href="#G" x="7.4" y="49.7"/><use href="#L" x="-45.4" y="14.6"/><use href="#G" x="-46.5" y="-12.9"/><use href="#L" x="47.8" y="4.2"/><use href="#G" x="16.3" y="47.8"/><use href="#L" x="-11.7" y="-48.0"/><use href="#G" x="-2.7" y="-49.9"/><use href="#L" x="-20.7" y="-46.1"/><use href="#L" x="45.5" y="23.2"/><use href="#G" x="18.6" y="-45.2"/><use href="#L" x="31.0" y="-38.5"/><use href="#L" x="-34.8" y="35.1"/><use href="#L" x="-48.3" y="0.9"/><use href="#L" x="-38.2" y="26.5"/><use href="#L" x="-44.9" y="9.5"/><use href="#L" x="-22.5" y="41.7"/><use href="#G" x="-1.1" y="46.5"/><use href="#G" x="-41.5" y="18.0"/><use href="#L" x="16.8" y="42.7"/><use href="#G" x="-46.0" y="-18.1"/><use href="#G" x="-40.4" y="-28.5"/><use href="#G" x="25.8" y="40.8"/><use href="#G" x="7.8" y="44.6"/><use href="#G" x="-10.1" y="48.4"/><use href="#L" x="-7.8" y="-44.6"/><use href="#G" x="46.0" y="18.1"/><use href="#L" x="44.9" y="-9.5"/><use href="#L" x="-25.8" y="-40.8"/><use href="#L" x="40.4" y="28.5"/><use href="#G" x="48.3" y="-0.9"/><use href="#G" x="-16.8" y="-42.7"/><use href="#L" x="10.1" y="-48.4"/><use href="#G" x="38.2" y="-26.5"/><use href="#G" x="34.8" y="-35.1"/><use href="#L" x="1.1" y="-46.5"/><use href="#L" x="41.5" y="-18.0"/><use href="#G" x="22.5" y="-41.7"/><use href="#G" x="-34.3" y="30.0"/><use href="#L" x="-18.6" y="45.2"/><use href="#G" x="-44.4" y="4.3"/><use href="#G" x="-47.8" y="-4.2"/><use href="#L" x="-42.2" y="-14.6"/><use href="#G" x="-36.6" y="-25.1"/><use href="#L" x="-9.6" y="43.3"/><use href="#L" x="26.3" y="35.7"/><use href="#G" x="-22.0" y="36.6"/><use href="#L" x="-37.7" y="21.4"/><use href="#L" x="5.0" y="-43.1"/><use href="#L" x="26.3" y="-38.3"/><use href="#L" x="-22.0" y="-37.4"/><use href="#L" x="40.9" y="23.4"/><use href="#G" x="35.3" y="33.8"/><use href="#G" x="45.4" y="-14.6"/><use href="#L" x="46.5" y="12.9"/><use href="#L" x="42.0" y="-23.1"/><use href="#L" x="14.0" y="-45.0"/><use href="#G" x="-30.9" y="-35.5"/><use href="#G" x="-43.9" y="-0.8"/><use href="#L" x="-5.8" y="46.7"/><use href="#L" x="-18.1" y="40.0"/><use href="#G" x="-30.5" y="33.4"/><use href="#L" x="-41.7" y="-19.8"/><use href="#G" x="12.2" y="42.9"/><use href="#L" x="3.2" y="44.8"/><use href="#G" x="-3.5" y="-46.3"/><use href="#G" x="43.6" y="-0.7"/><use href="#G" x="21.1" y="41.0"/><use href="#G" x="35.8" y="28.7"/><use href="#G" x="-12.5" y="-44.4"/><use href="#L" x="-21.5" y="-42.5"/><use href="#G" x="-27.1" y="-32.1"/><use href="#G" x="33.5" y="-26.4"/><use href="#L" x="-36.1" y="-30.2"/><use href="#L" x="47.0" y="7.8"/><use href="#L" x="30.2" y="-34.9"/><use href="#G" x="41.4" y="18.2"/><use href="#L" x="17.8" y="-41.6"/><use href="#G" x="-17.7" y="34.9"/><use href="#G" x="-26.6" y="36.8"/><use href="#L" x="-5.3" y="41.6"/><use href="#L" x="-37.8" y="-16.3"/><use href="#L" x="-43.5" y="-5.9"/><use href="#L" x="12.7" y="37.8"/><use href="#L" x="-14.3" y="43.4"/><use href="#L" x="21.6" y="35.9"/><use href="#G" x="-30.0" y="28.3"/><use href="#G" x="3.7" y="39.7"/><use href="#L" x="44.1" y="-5.9"/><use href="#G" x="9.3" y="-44.8"/><use href="#G" x="-17.6" y="-39.1"/><use href="#G" x="30.6" y="34.0"/><use href="#L" x="-26.6" y="-37.2"/><use href="#G" x="40.7" y="-14.4"/><use href="#G" x="-8.6" y="-41.0"/><use href="#G" x="41.9" y="13.1"/><use href="#G" x="36.2" y="23.6"/><use href="#L" x="-32.2" y="-26.8"/><use href="#L" x="0.3" y="-42.9"/><use href="#L" x="34.0" y="-31.5"/><use href="#G" x="21.7" y="-38.1"/><use href="#L" x="37.4" y="-22.9"/><use href="#L" x="-26.2" y="31.7"/><use href="#L" x="-13.8" y="38.3"/><use href="#G" x="-43.0" y="-11.0"/><use href="#G" x="7.5" y="43.1"/><use href="#L" x="-1.5" y="45.0"/><use href="#L" x="-39.6" y="-2.5"/><use href="#L" x="16.5" y="41.2"/><use href="#L" x="4.2" y="-39.5"/><use href="#G" x="-13.8" y="-35.7"/><use href="#L" x="31.1" y="28.9"/><use href="#G" x="-37.4" y="-21.5"/><use href="#L" x="28.9" y="-26.2"/><use href="#G" x="-22.8" y="-33.8"/><use href="#G" x="-31.7" y="-31.9"/><use href="#L" x="-41.9" y="16.5"/><use href="#G" x="36.7" y="18.4"/><use href="#L" x="-4.8" y="-37.6"/><use href="#G" x="25.5" y="-34.7"/><use href="#L" x="42.3" y="8.0"/><use href="#L" x="13.2" y="-41.4"/><use href="#L" x="-10.0" y="41.7"/><use href="#L" x="-38.0" y="19.9"/><use href="#G" x="-13.3" y="33.2"/><use href="#G" x="-22.3" y="35.1"/><use href="#G" x="-25.7" y="26.6"/><use href="#L" x="-41.4" y="11.4"/><use href="#G" x="-4.3" y="-42.7"/><use href="#G" x="-27.9" y="-28.5"/><use href="#G" x="17.0" y="-37.9"/><use href="#G" x="-1.0" y="39.9"/><use href="#G" x="39.5" y="-5.7"/><use href="#G" x="17.0" y="36.1"/><use href="#L" x="8.0" y="38.0"/><use href="#G" x="-39.1" y="-7.6"/><use href="#G" x="-18.9" y="-30.4"/><use href="#G" x="-33.5" y="-18.0"/><use href="#L" x="26.0" y="34.2"/><use href="#G" x="8.0" y="-36.1"/><use href="#L" x="36.1" y="-14.2"/><use href="#L" x="37.2" y="13.3"/><use href="#L" x="31.6" y="23.7"/><use href="#G" x="42.8" y="2.9"/><use href="#L" x="29.4" y="-31.3"/><use href="#L" x="32.7" y="-22.8"/><use href="#L" x="-13.3" y="-40.8"/><use href="#G" x="-9.5" y="36.6"/><use href="#L" x="-21.8" y="30.0"/><use href="#L" x="-34.2" y="23.3"/><use href="#G" x="8.5" y="32.8"/><use href="#L" x="17.5" y="30.9"/><use href="#L" x="-0.5" y="34.7"/><use href="#L" x="11.9" y="-32.6"/><use href="#L" x="-40.9" y="6.2"/><use href="#G" x="-35.3" y="-4.2"/><use href="#G" x="-37.5" y="14.8"/><use href="#L" x="-9.4" y="-37.4"/><use href="#L" x="-38.6" y="-12.7"/><use href="#G" x="-24.0" y="-25.1"/><use href="#L" x="-33.0" y="-23.2"/><use href="#G" x="-18.4" y="-35.5"/><use href="#G" x="8.5" y="-41.2"/><use href="#L" x="37.7" y="8.2"/><use href="#L" x="32.1" y="18.6"/><use href="#L" x="39.9" y="-10.8"/><use href="#G" x="26.4" y="29.0"/><use href="#L" x="36.6" y="-19.3"/><use href="#L" x="-0.5" y="-39.3"/><use href="#G" x="24.2" y="-26.0"/><use href="#G" x="20.9" y="-34.5"/><use href="#L" x="-21.3" y="24.8"/><use href="#G" x="-37.1" y="9.7"/><use href="#G" x="-40.4" y="1.1"/><use href="#L" x="3.3" y="38.1"/><use href="#G" x="12.3" y="36.3"/><use href="#L" x="-29.2" y="-19.8"/><use href="#G" x="-33.7" y="18.2"/><use href="#G" x="-14.6" y="-32.1"/><use href="#L" x="-9.0" y="31.5"/><use href="#L" x="-30.3" y="26.7"/><use href="#L" x="-5.6" y="40.0"/><use href="#G" x="-18.0" y="33.4"/><use href="#G" x="24.7" y="-31.1"/><use href="#L" x="-5.6" y="-34.0"/><use href="#L" x="32.6" y="13.5"/><use href="#L" x="21.3" y="34.4"/><use href="#G" x="-34.8" y="-9.3"/><use href="#L" x="31.4" y="-14.0"/><use href="#L" x="26.9" y="23.9"/><use href="#L" x="3.4" y="-35.9"/><use href="#G" x="34.8" y="-5.5"/><use href="#G" x="38.2" y="3.1"/><use href="#G" x="12.4" y="-37.8"/><use href="#G" x="28.1" y="-22.6"/><use href="#G" x="15.7" y="-29.2"/><use href="#L" x="-23.6" y="-30.2"/><use href="#L" x="-31.0" y="-5.9"/><use href="#L" x="-33.2" y="13.1"/><use href="#L" x="-17.5" y="28.3"/><use href="#L" x="-29.8" y="21.6"/><use href="#L" x="-34.3" y="-14.4"/><use href="#L" x="21.8" y="29.2"/><use href="#G" x="-5.2" y="34.9"/><use href="#G" x="12.8" y="31.1"/><use href="#L" x="-19.7" y="-26.8"/><use href="#L" x="35.3" y="-10.6"/><use href="#L" x="3.8" y="33.0"/><use href="#L" x="-10.7" y="-28.7"/><use href="#L" x="-1.7" y="-30.6"/><use href="#G" x="-36.6" y="4.5"/><use href="#G" x="-25.3" y="-16.3"/><use href="#L" x="19.6" y="-25.8"/><use href="#L" x="16.2" y="-34.3"/><use href="#L" x="7.2" y="-32.4"/><use href="#L" x="38.7" y="-2.1"/><use href="#G" x="31.9" y="-19.1"/><use href="#L" x="33.0" y="8.4"/><use href="#L" x="27.4" y="18.8"/><use href="#G" x="-28.7" y="-24.9"/><use href="#L" x="-26.0" y="25.0"/><use href="#G" x="-29.4" y="16.5"/><use href="#G" x="-36.1" y="-0.6"/><use href="#G" x="-13.6" y="31.7"/><use href="#L" x="-17.0" y="23.1"/><use href="#L" x="13.3" y="26.0"/><use href="#L" x="4.3" y="27.9"/><use href="#G" x="-24.8" y="-21.5"/><use href="#L" x="-4.7" y="29.8"/><use href="#L" x="-32.7" y="8.0"/><use href="#L" x="23.4" y="-22.4"/><use href="#G" x="26.8" y="-13.8"/><use href="#L" x="30.2" y="-5.3"/><use href="#G" x="-30.5" y="-11.0"/><use href="#L" x="22.3" y="24.1"/><use href="#G" x="2.1" y="-27.1"/><use href="#G" x="27.9" y="13.7"/><use href="#L" x="33.5" y="3.2"/><use href="#G" x="-10.2" y="-33.8"/><use href="#G" x="-15.9" y="-23.4"/><use href="#L" x="11.1" y="-29.0"/><use href="#L" x="20.1" y="-30.9"/><use href="#L" x="-1.3" y="-35.7"/><use href="#G" x="-25.5" y="19.9"/><use href="#L" x="8.2" y="31.3"/><use href="#L" x="-13.2" y="26.6"/><use href="#L" x="-32.2" y="2.8"/><use href="#L" x="-30.0" y="-16.1"/><use href="#G" x="-0.8" y="33.2"/><use href="#L" x="27.3" y="-19.0"/><use href="#L" x="-21.0" y="-18.0"/><use href="#L" x="-26.6" y="-7.6"/><use href="#L" x="30.6" y="-10.4"/><use href="#L" x="-15.4" y="-28.5"/><use href="#G" x="2.6" y="-32.3"/><use href="#G" x="5.9" y="-23.7"/><use href="#L" x="22.8" y="19.0"/><use href="#L" x="17.1" y="29.4"/><use href="#G" x="28.4" y="8.6"/><use href="#G" x="-4.2" y="24.7"/><use href="#L" x="-28.9" y="11.4"/><use href="#L" x="18.3" y="-17.1"/><use href="#G" x="-6.4" y="-30.4"/><use href="#G" x="14.9" y="-25.6"/><use href="#L" x="34.0" y="-1.9"/><use href="#L" x="-21.7" y="23.3"/><use href="#G" x="-25.0" y="14.8"/><use href="#L" x="-28.4" y="6.2"/><use href="#L" x="-12.7" y="21.4"/><use href="#L" x="8.6" y="26.2"/><use href="#L" x="17.6" y="24.3"/><use href="#G" x="-17.2" y="-14.6"/><use href="#L" x="-0.3" y="28.1"/><use href="#L" x="-9.3" y="30.0"/><use href="#L" x="-2.6" y="-26.9"/><use href="#L" x="-26.1" y="-12.7"/><use href="#G" x="-31.8" y="-2.3"/><use href="#G" x="25.5" y="-5.1"/><use href="#L" x="-20.5" y="-23.2"/><use href="#G" x="18.8" y="-22.2"/><use href="#L" x="9.8" y="-20.3"/><use href="#G" x="-11.5" y="-25.1"/><use href="#L" x="28.9" y="3.4"/><use href="#G" x="23.2" y="13.9"/><use href="#G" x="-22.8" y="-4.2"/><use href="#L" x="22.1" y="-13.7"/><use href="#G" x="6.4" y="-28.8"/><use href="#L" x="-7.7" y="-21.6"/><use href="#G" x="-18.9" y="-0.8"/><use href="#G" x="9.1" y="21.1"/><use href="#L" x="20.4" y="0.2"/><use href="#G" x="-8.8" y="24.9"/><use href="#G" x="-22.3" y="-9.3"/><use href="#L" x="-12.2" y="16.3"/><use href="#G" x="-24.5" y="9.7"/><use href="#G" x="-21.2" y="18.2"/><use href="#L" x="0.1" y="23.0"/><use href="#G" x="-16.7" y="-19.7"/><use href="#G" x="-27.9" y="1.1"/><use href="#L" x="23.7" y="8.7"/><use href="#L" x="18.1" y="19.2"/><use href="#L" x="13.6" y="-16.9"/><use href="#L" x="-13.3" y="-11.2"/><use href="#L" x="29.4" y="-1.7"/><use href="#L" x="26.0" y="-10.2"/><use href="#L" x="17.0" y="-8.3"/><use href="#L" x="10.3" y="-25.4"/><use href="#L" x="22.6" y="-18.8"/><use href="#L" x="1.3" y="-23.5"/><use href="#L" x="9.6" y="15.9"/><use href="#L" x="4.0" y="26.4"/><use href="#L" x="-27.4" y="-4.0"/><use href="#G" x="-20.7" y="13.1"/><use href="#L" x="-11.7" y="11.2"/><use href="#G" x="-12.8" y="-16.3"/><use href="#L" x="-24.1" y="4.5"/><use href="#G" x="-17.3" y="21.6"/><use href="#G" x="-7.2" y="-26.8"/><use href="#L" x="-21.8" y="-14.4"/><use href="#G" x="-8.4" y="19.7"/><use href="#L" x="13.0" y="24.5"/><use href="#L" x="8.5" y="-11.6"/><use href="#G" x="-18.4" y="-5.9"/><use href="#G" x="-9.5" y="-7.8"/><use href="#L" x="11.9" y="-3.0"/><use href="#G" x="15.2" y="5.5"/><use href="#L" x="20.9" y="-4.9"/><use href="#G" x="24.2" y="3.6"/><use href="#L" x="0.6" y="17.8"/><use href="#L" x="17.5" y="-13.5"/><use href="#L" x="5.1" y="-20.1"/><use href="#L" x="18.6" y="14.1"/><use href="#L" x="-3.8" y="-18.2"/><use href="#L" x="-15.1" y="2.6"/><use href="#L" x="14.1" y="-22.0"/><use href="#G" x="-16.8" y="16.5"/><use href="#L" x="-18.0" y="-11.0"/><use href="#L" x="-14.6" y="-2.5"/><use href="#G" x="0.0" y="-14.8"/><use href="#G" x="-3.4" y="-23.3"/><use href="#G" x="-11.2" y="6.1"/><use href="#L" x="13.5" y="19.4"/><use href="#L" x="10.1" y="10.8"/><use href="#G" x="15.7" y="0.4"/><use href="#L" x="12.4" y="-8.2"/><use href="#L" x="-4.5" y="23.1"/><use href="#L" x="4.5" y="21.3"/><use href="#G" x="1.1" y="12.7"/><use href="#L" x="6.7" y="2.3"/><use href="#L" x="-23.6" y="-0.6"/><use href="#L" x="-2.2" y="4.2"/><use href="#G" x="21.3" y="-10.0"/><use href="#L" x="-7.9" y="14.6"/><use href="#L" x="24.7" y="-1.5"/><use href="#L" x="-12.3" y="-21.5"/><use href="#L" x="19.1" y="8.9"/><use href="#L" x="-9.0" y="-12.9"/><use href="#L" x="-5.6" y="-4.4"/><use href="#L" x="-20.2" y="8.0"/><use href="#L" x="3.4" y="-6.3"/><use href="#L" x="9.0" y="-16.7"/><use href="#L" x="16.2" y="-4.7"/><use href="#L" x="10.6" y="5.7"/><use href="#L" x="-4.0" y="18.0"/><use href="#L" x="1.6" y="7.6"/><use href="#L" x="-16.4" y="11.4"/><use href="#L" x="-5.1" y="-9.5"/><use href="#L" x="5.0" y="16.1"/><use href="#L" x="-19.7" y="2.8"/><use href="#L" x="7.2" y="-2.8"/><use href="#G" x="13.9" y="14.2"/><use href="#L" x="0.5" y="-19.9"/><use href="#L" x="-10.7" y="0.9"/><use href="#G" x="-14.1" y="-7.6"/><use href="#G" x="19.6" y="3.8"/><use href="#G" x="-8.5" y="-18.0"/><use href="#G" x="-7.4" y="9.5"/><use href="#G" x="-1.8" y="-0.9"/><use href="#G" x="12.8" y="-13.3"/><use href="#G" x="3.9" y="-11.4"/><use href="#G" x="-6.9" y="4.4"/><use href="#L" x="5.4" y="11.0"/><use href="#L" x="11.1" y="0.6"/><use href="#L" x="2.1" y="2.5"/><use href="#L" x="-10.3" y="-4.2"/><use href="#L" x="-3.5" y="12.9"/><use href="#G" x="14.4" y="9.1"/><use href="#L" x="4.3" y="-16.5"/><use href="#L" x="-1.3" y="-6.1"/><use href="#L" x="-4.6" y="-14.6"/><use href="#G" x="7.7" y="-8.0"/><use href="#G" x="-15.9" y="6.3"/><use href="#G" x="-3.1" y="7.8"/><use href="#L" x="5.9" y="5.9"/><use href="#G" x="-0.8" y="-11.2"/><use href="#L" x="-6.4" y="-0.8"/><use href="#G" x="2.6" y="-2.7"/></g><g transform="translate(75.2,257.7)"><circle r="64.5" fill="rgb(136,128,89)"/><use href="#L" x="-24.5" y="59.1"/><use href="#G" x="-35.3" y="54.9"/><use href="#L" x="13.4" y="63.7"/><use href="#G" x="-48.6" y="42.3"/><use href="#G" x="-41.9" y="48.6"/><use href="#L" x="57.4" y="30.6"/><use href="#L" x="54.2" y="-34.9"/><use href="#G" x="-9.7" y="63.5"/><use href="#G" x="25.7" y="59.6"/><use href="#G" x="-57.0" y="31.1"/><use href="#G" x="-60.9" y="-22.5"/><use href="#L" x="63.7" y="8.4"/><use href="#G" x="64.4" y="-3.4"/><use href="#L" x="45.8" y="-46.0"/><use href="#L" x="39.1" y="-52.3"/><use href="#L" x="-4.8" y="65.0"/><use href="#G" x="-64.7" y="8.1"/><use href="#L" x="-63.3" y="-15.5"/><use href="#L" x="2.8" y="-65.1"/><use href="#L" x="50.9" y="39.7"/><use href="#L" x="-35.0" y="-54.3"/><use href="#G" x="-42.3" y="-48.7"/><use href="#G" x="-6.3" y="-64.5"/><use href="#L" x="-36.2" y="53.7"/><use href="#G" x="-49.5" y="41.1"/><use href="#G" x="65.2" y="0.2"/><use href="#L" x="53.3" y="-36.1"/><use href="#G" x="-57.9" y="29.9"/><use href="#L" x="54.1" y="36.4"/><use href="#G" x="-63.9" y="11.7"/><use href="#L" x="62.1" y="19.0"/><use href="#G" x="63.5" y="-4.6"/><use href="#G" x="44.9" y="-47.3"/><use href="#G" x="-39.1" y="-52.1"/><use href="#L" x="8.3" y="64.6"/><use href="#L" x="-59.6" y="25.0"/><use href="#L" x="-64.9" y="-4.9"/><use href="#L" x="59.7" y="26.0"/><use href="#G" x="-19.5" y="-61.7"/><use href="#L" x="-0.8" y="65.2"/><use href="#L" x="-61.4" y="20.2"/><use href="#L" x="6.8" y="-64.9"/><use href="#G" x="-37.1" y="52.5"/><use href="#L" x="32.9" y="56.5"/><use href="#G" x="-50.5" y="39.8"/><use href="#L" x="40.2" y="51.0"/><use href="#L" x="-63.1" y="15.4"/><use href="#G" x="63.6" y="10.8"/><use href="#G" x="64.3" y="-1.0"/><use href="#G" x="-53.0" y="-37.5"/><use href="#L" x="52.3" y="-37.3"/><use href="#L" x="-23.7" y="-59.5"/><use href="#L" x="32.3" y="-56.3"/><use href="#G" x="11.7" y="-63.4"/><use href="#L" x="16.4" y="62.7"/><use href="#L" x="-63.5" y="-13.2"/><use href="#L" x="-11.4" y="-63.6"/><use href="#G" x="-20.6" y="61.7"/><use href="#G" x="28.7" y="58.6"/><use href="#L" x="43.4" y="47.6"/><use href="#G" x="-60.6" y="23.8"/><use href="#G" x="-49.8" y="-40.9"/><use href="#L" x="-15.7" y="63.2"/><use href="#G" x="-62.3" y="19.0"/><use href="#L" x="56.4" y="31.7"/><use href="#G" x="65.1" y="2.6"/><use href="#L" x="53.1" y="-33.7"/><use href="#G" x="26.5" y="-59.0"/><use href="#G" x="-51.4" y="38.6"/><use href="#G" x="46.6" y="44.2"/><use href="#L" x="62.7" y="9.6"/><use href="#G" x="63.3" y="-2.3"/><use href="#G" x="-46.6" y="-44.2"/><use href="#L" x="38.1" y="-51.2"/><use href="#G" x="51.4" y="-38.6"/><use href="#G" x="44.7" y="-44.9"/><use href="#G" x="-26.5" y="59.0"/><use href="#G" x="-65.1" y="-2.6"/><use href="#G" x="-56.4" y="-31.7"/><use href="#L" x="62.3" y="-19.0"/><use href="#L" x="15.7" y="-63.2"/><use href="#G" x="-21.5" y="60.5"/><use href="#L" x="49.8" y="40.9"/><use href="#G" x="60.6" y="-23.8"/><use href="#G" x="-43.4" y="-47.6"/><use href="#G" x="-36.1" y="-53.1"/><use href="#G" x="-28.7" y="-58.6"/><use href="#G" x="20.6" y="-61.7"/><use href="#L" x="-16.6" y="62.0"/><use href="#G" x="11.4" y="63.6"/><use href="#L" x="55.4" y="30.5"/><use href="#L" x="63.5" y="13.2"/><use href="#L" x="64.1" y="1.3"/><use href="#L" x="52.2" y="-35.0"/><use href="#G" x="-16.4" y="-62.7"/><use href="#G" x="2.3" y="64.2"/><use href="#G" x="23.7" y="59.5"/><use href="#G" x="-32.3" y="56.3"/><use href="#G" x="-11.7" y="63.4"/><use href="#L" x="-52.3" y="37.3"/><use href="#L" x="53.0" y="37.5"/><use href="#L" x="61.0" y="20.1"/><use href="#G" x="-63.6" y="-10.8"/><use href="#L" x="61.7" y="8.3"/><use href="#L" x="62.4" y="-3.5"/><use href="#L" x="63.1" y="-15.4"/><use href="#L" x="50.5" y="-39.8"/><use href="#L" x="-40.2" y="-51.0"/><use href="#L" x="-32.9" y="-56.5"/><use href="#L" x="43.8" y="-46.1"/><use href="#L" x="37.1" y="-52.5"/><use href="#L" x="-6.8" y="64.9"/><use href="#G" x="-27.4" y="57.8"/><use href="#L" x="58.6" y="27.1"/><use href="#G" x="61.4" y="-20.2"/><use href="#G" x="0.8" y="-65.2"/><use href="#L" x="-20.6" y="-60.5"/><use href="#G" x="-22.5" y="59.2"/><use href="#L" x="19.5" y="61.7"/><use href="#G" x="48.9" y="39.6"/><use href="#L" x="64.9" y="4.9"/><use href="#G" x="-59.7" y="-26.0"/><use href="#G" x="59.6" y="-25.0"/><use href="#G" x="-8.3" y="-64.6"/><use href="#G" x="10.4" y="62.3"/><use href="#G" x="-17.5" y="60.7"/><use href="#L" x="39.1" y="52.1"/><use href="#G" x="-44.9" y="47.3"/><use href="#G" x="-62.1" y="-19.0"/><use href="#L" x="54.5" y="29.3"/><use href="#L" x="63.2" y="0.1"/><use href="#L" x="62.5" y="11.9"/><use href="#L" x="63.9" y="-11.7"/><use href="#G" x="-54.1" y="-36.4"/><use href="#G" x="51.3" y="-36.2"/><use href="#L" x="57.9" y="-29.9"/><use href="#G" x="1.4" y="63.0"/><use href="#G" x="-12.6" y="62.2"/><use href="#G" x="-46.6" y="42.4"/><use href="#G" x="-39.9" y="48.7"/><use href="#G" x="-33.3" y="55.1"/><use href="#L" x="-53.3" y="36.1"/><use href="#L" x="22.7" y="58.3"/><use href="#G" x="-65.2" y="-0.2"/><use href="#G" x="60.8" y="7.1"/><use href="#G" x="52.1" y="36.2"/><use href="#L" x="60.1" y="18.9"/><use href="#L" x="62.2" y="-16.6"/><use href="#L" x="61.5" y="-4.8"/><use href="#L" x="49.5" y="-41.1"/><use href="#L" x="42.9" y="-47.4"/><use href="#G" x="36.2" y="-53.7"/><use href="#L" x="6.3" y="64.5"/><use href="#L" x="-7.7" y="63.7"/><use href="#L" x="-28.3" y="56.5"/><use href="#G" x="35.0" y="54.3"/><use href="#L" x="42.3" y="48.7"/><use href="#G" x="-55.0" y="31.3"/><use href="#G" x="57.7" y="25.9"/><use href="#L" x="60.4" y="-21.4"/><use href="#G" x="-50.9" y="-39.7"/><use href="#G" x="-23.4" y="58.0"/><use href="#G" x="-2.8" y="65.1"/><use href="#G" x="18.6" y="60.4"/><use href="#L" x="55.3" y="32.9"/><use href="#L" x="47.9" y="38.4"/><use href="#L" x="58.7" y="-26.3"/><use href="#L" x="64.0" y="3.7"/><use href="#G" x="63.3" y="15.5"/><use href="#L" x="64.7" y="-8.1"/><use href="#L" x="52.0" y="-32.6"/><use href="#G" x="4.8" y="-65.0"/><use href="#L" x="25.4" y="-57.9"/><use href="#G" x="9.5" y="61.1"/><use href="#G" x="30.9" y="56.4"/><use href="#G" x="-45.8" y="46.0"/><use href="#L" x="-18.5" y="59.5"/><use href="#G" x="-39.1" y="52.3"/><use href="#L" x="53.6" y="28.0"/><use href="#G" x="45.5" y="45.4"/><use href="#G" x="38.2" y="50.9"/><use href="#G" x="-64.4" y="3.4"/><use href="#G" x="-58.4" y="21.6"/><use href="#G" x="-63.7" y="-8.4"/><use href="#G" x="60.9" y="22.5"/><use href="#G" x="61.6" y="10.7"/><use href="#G" x="-40.3" y="-48.6"/><use href="#G" x="62.3" y="-1.2"/><use href="#L" x="57.0" y="-31.1"/><use href="#G" x="63.0" y="-13.0"/><use href="#L" x="50.3" y="-37.5"/><use href="#L" x="-47.7" y="-43.1"/><use href="#L" x="-25.7" y="-59.6"/><use href="#G" x="-33.0" y="-54.1"/><use href="#G" x="43.7" y="-43.8"/><use href="#G" x="-4.3" y="-64.4"/><use href="#L" x="37.0" y="-50.1"/><use href="#L" x="30.3" y="-56.4"/><use href="#G" x="9.7" y="-63.5"/><use href="#G" x="0.4" y="61.8"/><use href="#G" x="-13.5" y="60.9"/><use href="#G" x="14.4" y="62.6"/><use href="#G" x="-47.5" y="41.2"/><use href="#G" x="-34.2" y="53.8"/><use href="#G" x="-40.9" y="47.5"/><use href="#G" x="51.2" y="35.0"/><use href="#G" x="21.8" y="57.1"/><use href="#G" x="-54.2" y="34.9"/><use href="#G" x="-60.2" y="16.7"/><use href="#L" x="59.2" y="17.7"/><use href="#L" x="59.9" y="5.8"/><use href="#G" x="-57.4" y="-30.6"/><use href="#L" x="60.5" y="-6.0"/><use href="#L" x="61.2" y="-17.8"/><use href="#G" x="35.3" y="-54.9"/><use href="#L" x="0.6" y="-62.9"/><use href="#G" x="-13.4" y="-63.7"/><use href="#L" x="41.9" y="-48.6"/><use href="#L" x="48.6" y="-42.3"/><use href="#G" x="14.6" y="-62.1"/><use href="#L" x="-8.6" y="62.4"/><use href="#G" x="26.7" y="58.5"/><use href="#G" x="5.4" y="63.2"/><use href="#G" x="34.1" y="53.0"/><use href="#G" x="-29.3" y="55.3"/><use href="#G" x="48.7" y="42.0"/><use href="#G" x="-55.9" y="30.0"/><use href="#G" x="-35.9" y="49.0"/><use href="#G" x="41.4" y="47.5"/><use href="#G" x="-61.9" y="11.9"/><use href="#G" x="56.8" y="24.6"/><use href="#G" x="-37.1" y="-52.0"/><use href="#L" x="52.8" y="-29.0"/><use href="#G" x="-59.8" y="-23.6"/><use href="#G" x="-44.5" y="-46.5"/><use href="#L" x="59.5" y="-22.7"/><use href="#L" x="58.8" y="-10.9"/><use href="#L" x="19.5" y="-60.6"/><use href="#G" x="-29.8" y="-57.5"/><use href="#L" x="-8.4" y="-62.2"/><use href="#G" x="-3.7" y="63.9"/><use href="#G" x="-24.3" y="56.8"/><use href="#G" x="-63.6" y="7.0"/><use href="#G" x="47.0" y="37.1"/><use href="#G" x="17.7" y="59.2"/><use href="#G" x="-62.9" y="-4.8"/><use href="#G" x="54.4" y="31.6"/><use href="#G" x="-57.6" y="25.2"/><use href="#G" x="63.1" y="2.5"/><use href="#G" x="-62.2" y="-16.7"/><use href="#G" x="62.4" y="14.3"/><use href="#G" x="-54.2" y="-34.0"/><use href="#L" x="51.1" y="-33.9"/><use href="#L" x="63.7" y="-9.4"/><use href="#L" x="57.1" y="-15.7"/><use href="#L" x="57.8" y="-27.5"/><use href="#L" x="31.1" y="-52.8"/><use href="#L" x="-17.5" y="-61.6"/><use href="#L" x="24.5" y="-59.1"/><use href="#L" x="44.5" y="-40.2"/><use href="#G" x="29.9" y="55.1"/><use href="#L" x="8.6" y="59.8"/><use href="#L" x="37.3" y="49.6"/><use href="#L" x="-19.4" y="58.2"/><use href="#G" x="44.6" y="44.1"/><use href="#G" x="-59.4" y="20.3"/><use href="#L" x="60.0" y="21.3"/><use href="#G" x="61.3" y="-2.4"/><use href="#G" x="52.6" y="26.8"/><use href="#G" x="60.7" y="9.4"/><use href="#G" x="62.0" y="-14.2"/><use href="#G" x="55.4" y="-20.5"/><use href="#L" x="-56.6" y="-27.0"/><use href="#L" x="49.4" y="-38.7"/><use href="#G" x="-12.6" y="-60.1"/><use href="#L" x="42.7" y="-45.0"/><use href="#L" x="36.1" y="-51.3"/><use href="#G" x="-0.5" y="60.5"/><use href="#L" x="13.5" y="61.3"/><use href="#G" x="-35.1" y="52.6"/><use href="#G" x="-14.5" y="59.7"/><use href="#G" x="-48.5" y="39.9"/><use href="#L" x="20.9" y="55.8"/><use href="#G" x="-41.8" y="46.3"/><use href="#G" x="-61.1" y="15.5"/><use href="#L" x="-60.4" y="3.6"/><use href="#L" x="58.9" y="4.6"/><use href="#L" x="50.2" y="33.8"/><use href="#G" x="58.2" y="16.4"/><use href="#L" x="60.3" y="-19.1"/><use href="#G" x="-59.0" y="-20.0"/><use href="#G" x="59.6" y="-7.2"/><use href="#G" x="-43.7" y="-42.9"/><use href="#G" x="-51.0" y="-37.4"/><use href="#G" x="53.6" y="-25.4"/><use href="#L" x="-29.0" y="-53.9"/><use href="#G" x="-21.7" y="-59.4"/><use href="#G" x="20.3" y="-57.0"/><use href="#L" x="-36.9" y="47.7"/><use href="#G" x="-30.2" y="54.0"/><use href="#G" x="25.8" y="57.3"/><use href="#G" x="4.4" y="62.0"/><use href="#G" x="-43.5" y="41.4"/><use href="#L" x="-9.6" y="61.2"/><use href="#L" x="40.5" y="46.3"/><use href="#G" x="11.8" y="56.5"/><use href="#L" x="33.1" y="51.8"/><use href="#G" x="-50.2" y="35.1"/><use href="#G" x="47.8" y="40.7"/><use href="#L" x="55.8" y="23.4"/><use href="#G" x="57.2" y="-0.3"/><use href="#G" x="56.5" y="11.6"/><use href="#L" x="-62.1" y="-1.2"/><use href="#L" x="-61.5" y="-13.0"/><use href="#L" x="57.9" y="-12.1"/><use href="#G" x="58.6" y="-23.9"/><use href="#L" x="51.9" y="-30.2"/><use href="#G" x="-53.4" y="-30.4"/><use href="#L" x="45.3" y="-36.6"/><use href="#G" x="-16.7" y="-57.9"/><use href="#L" x="25.3" y="-55.5"/><use href="#G" x="4.6" y="-62.6"/><use href="#L" x="-31.9" y="49.2"/><use href="#L" x="-25.3" y="55.5"/><use href="#L" x="-45.3" y="36.6"/><use href="#G" x="16.7" y="57.9"/><use href="#G" x="2.7" y="57.1"/><use href="#L" x="-4.6" y="62.6"/><use href="#G" x="-51.9" y="30.2"/><use href="#L" x="24.1" y="52.4"/><use href="#L" x="54.1" y="18.6"/><use href="#G" x="53.4" y="30.4"/><use href="#G" x="-57.9" y="12.1"/><use href="#G" x="46.1" y="35.9"/><use href="#L" x="61.5" y="13.0"/><use href="#L" x="-55.8" y="-23.4"/><use href="#G" x="62.1" y="1.2"/><use href="#L" x="-33.1" y="-51.8"/><use href="#L" x="56.2" y="-16.9"/><use href="#G" x="-40.5" y="-46.3"/><use href="#L" x="43.5" y="-41.4"/><use href="#G" x="-47.8" y="-40.7"/><use href="#G" x="-25.8" y="-57.3"/><use href="#L" x="50.2" y="-35.1"/><use href="#G" x="-4.4" y="-62.0"/><use href="#L" x="36.9" y="-47.7"/><use href="#G" x="9.6" y="-61.2"/><use href="#L" x="30.2" y="-54.0"/><use href="#G" x="36.3" y="48.4"/><use href="#G" x="-27.0" y="50.7"/><use href="#L" x="-6.3" y="57.8"/><use href="#G" x="29.0" y="53.9"/><use href="#G" x="7.7" y="58.6"/><use href="#L" x="-59.6" y="7.2"/><use href="#G" x="-20.3" y="57.0"/><use href="#G" x="43.7" y="42.9"/><use href="#L" x="-53.6" y="25.4"/><use href="#G" x="51.7" y="25.5"/><use href="#G" x="-58.2" y="-16.4"/><use href="#L" x="59.0" y="20.0"/><use href="#L" x="54.4" y="-21.8"/><use href="#G" x="60.4" y="-3.6"/><use href="#L" x="59.7" y="8.2"/><use href="#L" x="-50.2" y="-33.8"/><use href="#L" x="-20.9" y="-55.8"/><use href="#G" x="41.8" y="-46.3"/><use href="#G" x="0.5" y="-60.5"/><use href="#L" x="14.5" y="-59.7"/><use href="#L" x="12.6" y="60.1"/><use href="#G" x="-15.4" y="58.5"/><use href="#G" x="19.9" y="54.6"/><use href="#G" x="-1.4" y="59.3"/><use href="#G" x="-55.4" y="20.5"/><use href="#G" x="27.3" y="49.1"/><use href="#G" x="-42.7" y="45.0"/><use href="#L" x="41.9" y="38.0"/><use href="#L" x="-61.3" y="2.4"/><use href="#L" x="49.3" y="32.5"/><use href="#L" x="57.3" y="15.2"/><use href="#L" x="-60.7" y="-9.4"/><use href="#L" x="58.0" y="3.3"/><use href="#G" x="52.7" y="-26.6"/><use href="#G" x="-52.6" y="-26.8"/><use href="#L" x="58.7" y="-8.5"/><use href="#L" x="-37.3" y="-49.6"/><use href="#G" x="19.4" y="-58.2"/><use href="#G" x="46.0" y="-33.0"/><use href="#G" x="-8.6" y="-59.8"/><use href="#G" x="5.4" y="-59.0"/><use href="#L" x="26.1" y="-51.9"/><use href="#G" x="10.9" y="55.2"/><use href="#L" x="32.2" y="50.5"/><use href="#G" x="-17.1" y="53.6"/><use href="#L" x="-37.8" y="46.5"/><use href="#G" x="-51.1" y="33.9"/><use href="#G" x="-44.5" y="40.2"/><use href="#L" x="24.9" y="56.0"/><use href="#G" x="-31.1" y="52.8"/><use href="#G" x="-10.5" y="59.9"/><use href="#L" x="46.9" y="39.5"/><use href="#L" x="3.5" y="60.7"/><use href="#L" x="39.5" y="45.0"/><use href="#G" x="-57.1" y="15.7"/><use href="#L" x="54.9" y="22.2"/><use href="#G" x="56.3" y="-1.5"/><use href="#G" x="-25.0" y="-53.7"/><use href="#L" x="-47.0" y="-37.1"/><use href="#G" x="-55.0" y="-19.8"/><use href="#G" x="55.6" y="10.3"/><use href="#G" x="-32.3" y="-48.2"/><use href="#G" x="57.0" y="-13.3"/><use href="#L" x="37.7" y="-44.1"/><use href="#G" x="-39.7" y="-42.7"/><use href="#L" x="51.0" y="-31.5"/><use href="#G" x="31.0" y="-50.4"/><use href="#L" x="44.3" y="-37.8"/><use href="#L" x="10.3" y="-57.6"/><use href="#G" x="-3.7" y="-58.4"/><use href="#L" x="15.8" y="56.7"/><use href="#L" x="-26.2" y="54.3"/><use href="#G" x="-32.9" y="48.0"/><use href="#G" x="-12.2" y="55.1"/><use href="#G" x="23.1" y="51.2"/><use href="#L" x="-46.2" y="35.3"/><use href="#L" x="-39.5" y="41.6"/><use href="#L" x="1.8" y="55.9"/><use href="#G" x="-52.8" y="29.0"/><use href="#G" x="45.2" y="34.7"/><use href="#L" x="-58.8" y="10.9"/><use href="#G" x="-58.1" y="-1.0"/><use href="#L" x="53.2" y="17.3"/><use href="#G" x="52.5" y="29.1"/><use href="#G" x="-49.4" y="-30.2"/><use href="#G" x="-57.5" y="-12.8"/><use href="#G" x="35.9" y="-49.0"/><use href="#L" x="15.3" y="-56.1"/><use href="#G" x="-12.7" y="-57.7"/><use href="#L" x="42.6" y="-42.7"/><use href="#L" x="55.2" y="-18.2"/><use href="#G" x="-21.3" y="55.8"/><use href="#G" x="28.1" y="52.7"/><use href="#L" x="6.7" y="57.4"/><use href="#G" x="-54.6" y="24.2"/><use href="#G" x="-27.9" y="49.4"/><use href="#G" x="-47.9" y="30.5"/><use href="#L" x="-7.3" y="56.6"/><use href="#L" x="42.7" y="41.6"/><use href="#L" x="35.4" y="47.2"/><use href="#L" x="-59.9" y="-5.8"/><use href="#L" x="-29.1" y="-51.5"/><use href="#G" x="-51.8" y="-23.2"/><use href="#G" x="58.8" y="7.0"/><use href="#L" x="50.8" y="24.3"/><use href="#G" x="-43.8" y="-40.5"/><use href="#G" x="59.5" y="-4.9"/><use href="#L" x="-7.8" y="-56.2"/><use href="#L" x="-36.5" y="-46.0"/><use href="#G" x="53.5" y="-23.0"/><use href="#L" x="20.2" y="-54.6"/><use href="#L" x="-16.3" y="57.2"/><use href="#G" x="26.3" y="47.8"/><use href="#G" x="-23.0" y="50.9"/><use href="#L" x="19.0" y="53.3"/><use href="#G" x="-2.3" y="58.0"/><use href="#G" x="-55.6" y="7.5"/><use href="#G" x="-49.6" y="25.6"/><use href="#L" x="41.0" y="36.8"/><use href="#G" x="-56.3" y="19.3"/><use href="#L" x="56.4" y="13.9"/><use href="#G" x="48.4" y="31.3"/><use href="#G" x="-54.2" y="-16.2"/><use href="#G" x="-46.2" y="-33.5"/><use href="#G" x="57.1" y="2.1"/><use href="#G" x="31.8" y="-46.8"/><use href="#L" x="-24.2" y="-50.1"/><use href="#G" x="57.7" y="-9.7"/><use href="#G" x="45.1" y="-34.2"/><use href="#G" x="-16.9" y="-55.6"/><use href="#G" x="38.5" y="-40.5"/><use href="#L" x="25.1" y="-53.2"/><use href="#L" x="51.8" y="-27.9"/><use href="#G" x="9.9" y="54.0"/><use href="#G" x="38.6" y="43.8"/><use href="#G" x="31.3" y="49.3"/><use href="#G" x="54.0" y="20.9"/><use href="#G" x="-57.3" y="2.6"/><use href="#G" x="-56.7" y="-9.2"/><use href="#G" x="-48.6" y="-26.5"/><use href="#L" x="43.4" y="-39.0"/><use href="#G" x="56.0" y="-14.6"/><use href="#L" x="36.7" y="-45.4"/><use href="#G" x="-11.9" y="-54.1"/><use href="#L" x="-47.1" y="34.1"/><use href="#G" x="-13.1" y="53.8"/><use href="#L" x="-53.1" y="15.9"/><use href="#G" x="0.9" y="54.7"/><use href="#L" x="-33.8" y="46.7"/><use href="#G" x="-40.5" y="40.4"/><use href="#G" x="36.9" y="38.9"/><use href="#G" x="22.2" y="50.0"/><use href="#L" x="29.5" y="44.4"/><use href="#L" x="14.9" y="55.5"/><use href="#L" x="44.2" y="33.4"/><use href="#G" x="52.2" y="16.1"/><use href="#L" x="21.0" y="-51.0"/><use href="#L" x="54.3" y="-19.4"/><use href="#L" x="-43.0" y="-36.9"/><use href="#L" x="-51.0" y="-19.6"/><use href="#G" x="-35.7" y="-42.4"/><use href="#L" x="-28.3" y="-47.9"/><use href="#G" x="-21.0" y="-53.4"/><use href="#L" x="0.3" y="-58.1"/><use href="#G" x="-28.9" y="48.2"/><use href="#L" x="-8.2" y="55.3"/><use href="#G" x="-35.5" y="41.9"/><use href="#L" x="34.5" y="45.9"/><use href="#G" x="5.8" y="56.1"/><use href="#G" x="-48.8" y="29.2"/><use href="#G" x="-54.8" y="11.1"/><use href="#G" x="13.1" y="50.6"/><use href="#G" x="-42.2" y="35.6"/><use href="#G" x="-16.1" y="-52.0"/><use href="#L" x="49.8" y="23.1"/><use href="#L" x="25.9" y="-49.5"/><use href="#G" x="5.3" y="-56.7"/><use href="#L" x="-53.5" y="-12.6"/><use href="#G" x="-45.4" y="-29.9"/><use href="#L" x="-54.1" y="-0.7"/><use href="#L" x="32.6" y="-43.2"/><use href="#L" x="45.9" y="-30.6"/><use href="#L" x="-3.3" y="56.8"/><use href="#L" x="-23.9" y="49.7"/><use href="#G" x="-37.3" y="37.0"/><use href="#G" x="-43.9" y="30.7"/><use href="#L" x="18.1" y="52.1"/><use href="#L" x="-50.6" y="24.4"/><use href="#L" x="25.4" y="46.6"/><use href="#G" x="32.7" y="41.1"/><use href="#G" x="-55.9" y="-5.6"/><use href="#L" x="55.5" y="12.7"/><use href="#L" x="-47.8" y="-22.9"/><use href="#G" x="-56.5" y="6.2"/><use href="#G" x="40.1" y="35.6"/><use href="#L" x="47.4" y="30.0"/><use href="#G" x="56.1" y="0.9"/><use href="#G" x="-3.8" y="-56.0"/><use href="#G" x="-39.8" y="-40.3"/><use href="#G" x="10.2" y="-55.2"/><use href="#G" x="37.5" y="-41.8"/><use href="#G" x="-32.5" y="-45.8"/><use href="#G" x="44.2" y="-35.4"/><use href="#L" x="-19.0" y="51.1"/><use href="#L" x="16.3" y="47.2"/><use href="#L" x="-5.0" y="51.9"/><use href="#G" x="9.0" y="52.8"/><use href="#L" x="-52.3" y="19.5"/><use href="#L" x="53.7" y="7.8"/><use href="#L" x="45.7" y="25.2"/><use href="#L" x="-45.6" y="25.9"/><use href="#G" x="-50.2" y="-16.0"/><use href="#L" x="-51.6" y="7.7"/><use href="#G" x="48.4" y="-22.1"/><use href="#L" x="54.4" y="-4.0"/><use href="#G" x="15.1" y="-53.7"/><use href="#G" x="-27.5" y="-44.3"/><use href="#L" x="21.8" y="-47.4"/><use href="#L" x="-42.2" y="-33.3"/><use href="#L" x="-34.9" y="-38.8"/><use href="#G" x="1.1" y="-54.5"/><use href="#G" x="-20.2" y="-49.8"/><use href="#G" x="-14.1" y="52.6"/><use href="#L" x="-0.1" y="53.4"/><use href="#L" x="28.6" y="43.2"/><use href="#G" x="-47.4" y="21.0"/><use href="#L" x="-20.7" y="46.3"/><use href="#G" x="21.3" y="48.7"/><use href="#L" x="-52.7" y="-9.0"/><use href="#L" x="-53.3" y="2.9"/><use href="#G" x="-44.6" y="-26.3"/><use href="#L" x="35.9" y="37.7"/><use href="#L" x="43.3" y="32.2"/><use href="#L" x="52.7" y="-8.8"/><use href="#G" x="52.0" y="3.0"/><use href="#L" x="51.3" y="14.8"/><use href="#L" x="6.1" y="-53.1"/><use href="#L" x="46.7" y="-27.0"/><use href="#G" x="26.7" y="-45.9"/><use href="#G" x="33.4" y="-39.6"/><use href="#L" x="-15.3" y="-48.4"/><use href="#G" x="40.0" y="-33.3"/><use href="#G" x="-7.9" y="-53.9"/><use href="#G" x="-15.8" y="47.8"/><use href="#L" x="19.5" y="43.9"/><use href="#G" x="-49.1" y="16.2"/><use href="#G" x="12.2" y="49.4"/><use href="#G" x="48.9" y="21.8"/><use href="#L" x="-31.7" y="-42.2"/><use href="#G" x="51.0" y="-13.7"/><use href="#L" x="49.6" y="10.0"/><use href="#G" x="41.6" y="27.3"/><use href="#G" x="-24.3" y="-47.7"/><use href="#G" x="-3.0" y="-52.4"/><use href="#L" x="-47.0" y="-19.3"/><use href="#L" x="-39.0" y="-36.7"/><use href="#L" x="11.0" y="-51.6"/><use href="#L" x="38.3" y="-38.1"/><use href="#G" x="24.5" y="45.3"/><use href="#G" x="-50.8" y="11.3"/><use href="#L" x="-31.5" y="42.1"/><use href="#L" x="-38.2" y="35.8"/><use href="#G" x="3.1" y="50.0"/><use href="#G" x="-10.9" y="49.2"/><use href="#G" x="47.2" y="17.0"/><use href="#L" x="39.2" y="34.3"/><use href="#G" x="-26.7" y="-40.7"/><use href="#L" x="31.8" y="39.8"/><use href="#G" x="-49.5" y="-12.4"/><use href="#G" x="-50.1" y="-0.5"/><use href="#L" x="15.9" y="-50.1"/><use href="#L" x="49.2" y="-18.5"/><use href="#L" x="-12.1" y="-51.7"/><use href="#G" x="-19.4" y="-46.2"/><use href="#G" x="-34.1" y="-35.2"/><use href="#L" x="-41.4" y="-29.7"/><use href="#G" x="1.9" y="-50.9"/><use href="#L" x="22.6" y="-43.8"/><use href="#L" x="-33.3" y="37.3"/><use href="#G" x="8.1" y="51.5"/><use href="#G" x="-26.6" y="43.6"/><use href="#L" x="-39.9" y="30.9"/><use href="#G" x="22.7" y="40.5"/><use href="#G" x="-45.9" y="12.8"/><use href="#L" x="-5.9" y="50.7"/><use href="#G" x="15.4" y="46.0"/><use href="#L" x="44.8" y="24.0"/><use href="#L" x="37.4" y="29.5"/><use href="#L" x="-43.8" y="-22.7"/><use href="#L" x="-51.9" y="-5.4"/><use href="#L" x="30.1" y="35.0"/><use href="#G" x="-14.5" y="-44.8"/><use href="#G" x="27.5" y="-42.3"/><use href="#G" x="-7.1" y="-50.3"/><use href="#G" x="6.9" y="-49.5"/><use href="#L" x="40.8" y="-29.7"/><use href="#G" x="34.2" y="-36.0"/><use href="#G" x="-28.3" y="38.7"/><use href="#G" x="-41.6" y="26.1"/><use href="#G" x="-21.7" y="45.0"/><use href="#G" x="6.3" y="46.7"/><use href="#G" x="-7.7" y="45.9"/><use href="#L" x="-35.0" y="32.4"/><use href="#L" x="27.7" y="42.0"/><use href="#G" x="45.1" y="-16.4"/><use href="#G" x="-46.9" y="-3.9"/><use href="#G" x="43.0" y="19.1"/><use href="#G" x="-47.6" y="7.9"/><use href="#G" x="-46.2" y="-15.7"/><use href="#L" x="35.0" y="36.4"/><use href="#G" x="-23.5" y="-44.1"/><use href="#L" x="-30.9" y="-38.6"/><use href="#L" x="-38.2" y="-33.1"/><use href="#G" x="-2.2" y="-48.8"/><use href="#G" x="51.1" y="1.8"/><use href="#G" x="11.8" y="-48.0"/><use href="#G" x="-16.7" y="46.5"/><use href="#L" x="-2.7" y="47.3"/><use href="#L" x="18.6" y="42.6"/><use href="#G" x="-23.4" y="40.2"/><use href="#G" x="-43.4" y="21.2"/><use href="#G" x="-36.7" y="27.6"/><use href="#G" x="-49.3" y="3.1"/><use href="#G" x="-48.7" y="-8.7"/><use href="#G" x="26.0" y="37.1"/><use href="#G" x="11.3" y="48.1"/><use href="#G" x="40.6" y="26.1"/><use href="#G" x="33.3" y="31.6"/><use href="#L" x="43.4" y="-21.2"/><use href="#G" x="36.7" y="-27.6"/><use href="#L" x="49.3" y="-3.1"/><use href="#G" x="48.7" y="8.7"/><use href="#G" x="-11.3" y="-48.1"/><use href="#G" x="-40.6" y="-26.1"/><use href="#L" x="-26.0" y="-37.1"/><use href="#L" x="-33.3" y="-31.6"/><use href="#L" x="23.4" y="-40.2"/><use href="#G" x="30.0" y="-33.9"/><use href="#G" x="-18.6" y="-42.6"/><use href="#L" x="2.7" y="-47.3"/><use href="#G" x="16.7" y="-46.5"/><use href="#G" x="-18.5" y="41.7"/><use href="#G" x="2.2" y="48.8"/><use href="#L" x="38.9" y="21.2"/><use href="#G" x="-43.7" y="-7.3"/><use href="#L" x="-45.1" y="16.4"/><use href="#G" x="9.5" y="43.3"/><use href="#G" x="-44.4" y="4.6"/><use href="#G" x="-38.4" y="22.7"/><use href="#G" x="-4.5" y="42.5"/><use href="#L" x="46.2" y="15.7"/><use href="#L" x="46.9" y="3.9"/><use href="#G" x="-13.7" y="-41.2"/><use href="#G" x="7.7" y="-45.9"/><use href="#L" x="41.6" y="-26.1"/><use href="#G" x="-35.7" y="-24.6"/><use href="#G" x="28.3" y="-38.7"/><use href="#G" x="-43.0" y="-19.1"/><use href="#L" x="35.0" y="-32.4"/><use href="#G" x="-6.3" y="-46.7"/><use href="#L" x="47.6" y="-7.9"/><use href="#L" x="-13.5" y="43.1"/><use href="#G" x="-40.2" y="17.9"/><use href="#L" x="0.5" y="43.9"/><use href="#L" x="14.5" y="44.8"/><use href="#L" x="-46.1" y="-0.3"/><use href="#L" x="29.2" y="33.7"/><use href="#L" x="21.8" y="39.2"/><use href="#G" x="36.5" y="28.2"/><use href="#G" x="39.2" y="-19.1"/><use href="#G" x="-22.7" y="-40.5"/><use href="#G" x="12.6" y="-44.4"/><use href="#G" x="45.9" y="-12.8"/><use href="#L" x="45.2" y="-1.0"/><use href="#L" x="44.5" y="10.9"/><use href="#G" x="-1.4" y="-45.2"/><use href="#G" x="-38.1" y="-17.6"/><use href="#G" x="-45.5" y="-12.1"/><use href="#G" x="19.3" y="-38.1"/><use href="#G" x="-37.4" y="-29.5"/><use href="#G" x="-30.1" y="-35.0"/><use href="#L" x="12.7" y="39.9"/><use href="#G" x="-1.3" y="39.1"/><use href="#G" x="-8.6" y="44.6"/><use href="#G" x="-15.3" y="38.3"/><use href="#L" x="-41.2" y="1.2"/><use href="#G" x="5.4" y="45.4"/><use href="#G" x="20.1" y="34.4"/><use href="#G" x="-41.9" y="13.0"/><use href="#G" x="27.4" y="28.9"/><use href="#G" x="34.8" y="23.4"/><use href="#L" x="-40.5" y="-10.6"/><use href="#L" x="-17.8" y="-39.0"/><use href="#L" x="42.8" y="6.0"/><use href="#L" x="-25.2" y="-33.5"/><use href="#L" x="43.5" y="-5.8"/><use href="#L" x="42.1" y="17.9"/><use href="#G" x="37.5" y="-24.0"/><use href="#G" x="-10.5" y="-44.5"/><use href="#G" x="30.8" y="-30.3"/><use href="#G" x="17.5" y="-42.9"/><use href="#L" x="-39.8" y="-22.5"/><use href="#L" x="-32.5" y="-28.0"/><use href="#G" x="3.5" y="-43.7"/><use href="#L" x="24.2" y="-36.6"/><use href="#L" x="-10.3" y="39.8"/><use href="#L" x="25.0" y="35.9"/><use href="#L" x="32.4" y="30.4"/><use href="#G" x="-37.0" y="14.5"/><use href="#G" x="17.7" y="41.4"/><use href="#G" x="-43.6" y="8.2"/><use href="#L" x="3.7" y="40.6"/><use href="#L" x="-12.9" y="-37.5"/><use href="#G" x="-34.9" y="-21.0"/><use href="#G" x="-42.9" y="-3.7"/><use href="#G" x="-42.2" y="-15.5"/><use href="#L" x="15.1" y="-35.9"/><use href="#G" x="40.4" y="13.0"/><use href="#L" x="-27.6" y="-26.5"/><use href="#G" x="-31.0" y="32.6"/><use href="#L" x="41.1" y="1.2"/><use href="#L" x="8.5" y="-42.2"/><use href="#L" x="-5.5" y="-43.1"/><use href="#L" x="41.7" y="-10.6"/><use href="#G" x="-20.2" y="-32.0"/><use href="#G" x="-32.7" y="27.8"/><use href="#L" x="8.6" y="42.0"/><use href="#L" x="2.0" y="35.7"/><use href="#G" x="-5.4" y="41.2"/><use href="#L" x="-26.0" y="34.1"/><use href="#G" x="-12.0" y="34.9"/><use href="#G" x="-0.6" y="-41.6"/><use href="#L" x="23.3" y="31.0"/><use href="#L" x="30.6" y="25.5"/><use href="#L" x="33.4" y="-21.8"/><use href="#L" x="38.0" y="20.0"/><use href="#G" x="-38.0" y="-2.2"/><use href="#G" x="-38.7" y="9.6"/><use href="#G" x="-37.3" y="-14.0"/><use href="#G" x="16.0" y="36.5"/><use href="#G" x="-22.0" y="-36.9"/><use href="#L" x="39.3" y="-3.7"/><use href="#L" x="20.0" y="-34.5"/><use href="#G" x="38.7" y="8.2"/><use href="#G" x="-8.0" y="-36.1"/><use href="#G" x="26.7" y="-28.1"/><use href="#L" x="-29.3" y="-31.4"/><use href="#L" x="40.0" y="-15.5"/><use href="#L" x="13.4" y="-40.8"/><use href="#G" x="6.9" y="37.2"/><use href="#G" x="-7.1" y="36.4"/><use href="#L" x="-3.0" y="-34.6"/><use href="#G" x="-24.4" y="-29.9"/><use href="#G" x="-21.1" y="35.6"/><use href="#L" x="28.9" y="20.7"/><use href="#L" x="-27.8" y="29.3"/><use href="#L" x="-32.4" y="-12.6"/><use href="#G" x="-33.7" y="11.1"/><use href="#G" x="-40.4" y="4.8"/><use href="#G" x="-34.4" y="22.9"/><use href="#G" x="-39.7" y="-7.0"/><use href="#L" x="14.2" y="31.7"/><use href="#L" x="36.9" y="3.3"/><use href="#G" x="37.6" y="-8.5"/><use href="#G" x="11.0" y="-33.8"/><use href="#L" x="36.2" y="15.1"/><use href="#G" x="-17.0" y="-35.4"/><use href="#L" x="31.6" y="-26.7"/><use href="#L" x="-9.7" y="-40.9"/><use href="#G" x="25.0" y="-33.0"/><use href="#G" x="-31.7" y="-24.4"/><use href="#G" x="4.3" y="-40.1"/><use href="#G" x="-8.8" y="31.5"/><use href="#G" x="-29.5" y="24.4"/><use href="#G" x="-16.2" y="37.1"/><use href="#L" x="-2.2" y="37.9"/><use href="#L" x="11.8" y="38.7"/><use href="#G" x="5.2" y="32.3"/><use href="#G" x="-26.8" y="-22.9"/><use href="#G" x="-36.2" y="18.1"/><use href="#L" x="19.2" y="33.2"/><use href="#G" x="26.5" y="27.6"/><use href="#L" x="-34.8" y="-5.6"/><use href="#G" x="-22.8" y="30.7"/><use href="#G" x="-12.1" y="-33.9"/><use href="#L" x="22.6" y="-26.0"/><use href="#L" x="34.5" y="10.3"/><use href="#G" x="9.3" y="-38.6"/><use href="#G" x="35.2" y="-1.5"/><use href="#L" x="29.2" y="-19.7"/><use href="#G" x="-35.5" y="6.3"/><use href="#G" x="33.8" y="22.1"/><use href="#G" x="-19.4" y="-28.4"/><use href="#L" x="15.9" y="-32.3"/><use href="#L" x="-4.7" y="-39.4"/><use href="#G" x="1.9" y="-33.1"/><use href="#L" x="35.9" y="-13.4"/><use href="#G" x="-34.1" y="-17.4"/><use href="#G" x="-30.5" y="7.7"/><use href="#G" x="-24.6" y="25.9"/><use href="#L" x="-17.9" y="32.2"/><use href="#G" x="-3.9" y="33.0"/><use href="#G" x="-21.8" y="-21.4"/><use href="#G" x="-29.2" y="-15.9"/><use href="#G" x="-14.5" y="-27.0"/><use href="#L" x="27.5" y="-24.5"/><use href="#G" x="24.8" y="22.8"/><use href="#G" x="17.4" y="28.3"/><use href="#L" x="-31.2" y="19.6"/><use href="#G" x="-29.9" y="-4.1"/><use href="#L" x="6.8" y="-31.7"/><use href="#L" x="32.1" y="17.3"/><use href="#G" x="10.1" y="33.8"/><use href="#G" x="-37.2" y="1.4"/><use href="#L" x="32.8" y="5.5"/><use href="#L" x="0.2" y="-38.0"/><use href="#G" x="-7.2" y="-32.5"/><use href="#L" x="33.5" y="-6.4"/><use href="#G" x="-36.5" y="-10.4"/><use href="#G" x="20.8" y="-30.8"/><use href="#L" x="34.2" y="-18.2"/><use href="#G" x="-13.0" y="33.7"/><use href="#L" x="-33.0" y="14.7"/><use href="#L" x="1.0" y="34.5"/><use href="#L" x="-19.6" y="27.4"/><use href="#G" x="8.4" y="29.0"/><use href="#G" x="22.4" y="29.8"/><use href="#G" x="15.7" y="23.5"/><use href="#L" x="23.0" y="17.9"/><use href="#G" x="-5.6" y="28.2"/><use href="#G" x="-26.3" y="21.0"/><use href="#G" x="-31.6" y="-8.9"/><use href="#G" x="25.1" y="-17.5"/><use href="#G" x="-24.2" y="-14.5"/><use href="#L" x="-2.2" y="-31.0"/><use href="#G" x="-9.6" y="-25.5"/><use href="#L" x="-23.6" y="-26.3"/><use href="#G" x="18.4" y="-23.9"/><use href="#L" x="30.4" y="12.4"/><use href="#G" x="11.8" y="-30.2"/><use href="#G" x="31.1" y="0.6"/><use href="#L" x="31.7" y="-11.2"/><use href="#G" x="-30.9" y="-20.8"/><use href="#G" x="-32.3" y="2.9"/><use href="#G" x="5.1" y="-36.5"/><use href="#L" x="-16.2" y="-31.8"/><use href="#L" x="-14.7" y="28.8"/><use href="#G" x="-0.7" y="29.6"/><use href="#L" x="-28.0" y="16.2"/><use href="#L" x="13.3" y="30.4"/><use href="#L" x="-34.0" y="-2.0"/><use href="#L" x="20.6" y="24.9"/><use href="#L" x="-27.3" y="4.4"/><use href="#L" x="-26.0" y="-19.3"/><use href="#L" x="-26.7" y="-7.5"/><use href="#L" x="16.7" y="-28.7"/><use href="#G" x="-21.4" y="22.5"/><use href="#G" x="23.4" y="-22.4"/><use href="#G" x="-11.3" y="-30.3"/><use href="#G" x="6.6" y="24.1"/><use href="#L" x="28.7" y="7.6"/><use href="#L" x="-4.6" y="-24.0"/><use href="#L" x="29.3" y="-4.2"/><use href="#G" x="28.0" y="19.4"/><use href="#L" x="-18.6" y="-24.8"/><use href="#L" x="9.4" y="-23.2"/><use href="#G" x="30.0" y="-16.1"/><use href="#L" x="2.7" y="-29.5"/><use href="#G" x="-9.8" y="30.3"/><use href="#G" x="-23.1" y="17.7"/><use href="#G" x="-2.4" y="24.8"/><use href="#G" x="-16.4" y="24.0"/><use href="#G" x="-21.7" y="-6.0"/><use href="#G" x="18.9" y="20.1"/><use href="#G" x="-28.4" y="-12.3"/><use href="#G" x="11.6" y="25.6"/><use href="#L" x="26.2" y="14.6"/><use href="#L" x="4.2" y="31.1"/><use href="#G" x="-13.7" y="-23.3"/><use href="#L" x="21.0" y="-15.4"/><use href="#G" x="-29.7" y="11.3"/><use href="#L" x="-29.1" y="-0.5"/><use href="#L" x="0.3" y="-22.5"/><use href="#L" x="7.6" y="-28.0"/><use href="#L" x="-21.0" y="-17.8"/><use href="#G" x="-22.4" y="5.8"/><use href="#G" x="14.3" y="-21.7"/><use href="#G" x="26.9" y="2.7"/><use href="#G" x="27.6" y="-9.1"/><use href="#G" x="-6.4" y="-28.9"/><use href="#G" x="9.8" y="20.7"/><use href="#G" x="-4.2" y="19.9"/><use href="#G" x="-11.5" y="25.5"/><use href="#G" x="-17.5" y="7.3"/><use href="#G" x="2.5" y="26.3"/><use href="#G" x="-16.1" y="-16.4"/><use href="#G" x="18.5" y="-8.4"/><use href="#L" x="-24.1" y="1.0"/><use href="#L" x="17.2" y="15.2"/><use href="#G" x="-18.2" y="19.1"/><use href="#G" x="19.2" y="-20.3"/><use href="#L" x="11.9" y="-14.7"/><use href="#G" x="12.6" y="-26.6"/><use href="#G" x="-23.5" y="-10.9"/><use href="#L" x="25.9" y="-13.9"/><use href="#G" x="-24.8" y="12.8"/><use href="#G" x="-16.8" y="-4.5"/><use href="#L" x="24.5" y="9.7"/><use href="#L" x="25.2" y="-2.1"/><use href="#G" x="-1.4" y="-27.4"/><use href="#L" x="5.2" y="-21.1"/><use href="#G" x="-8.8" y="-21.9"/><use href="#G" x="-19.9" y="14.3"/><use href="#L" x="-6.6" y="26.9"/><use href="#G" x="14.8" y="22.2"/><use href="#G" x="-18.5" y="-9.4"/><use href="#L" x="-26.5" y="8.0"/><use href="#G" x="-13.2" y="20.6"/><use href="#L" x="-5.9" y="15.1"/><use href="#G" x="15.5" y="10.4"/><use href="#L" x="8.1" y="15.9"/><use href="#L" x="-25.9" y="-3.9"/><use href="#L" x="2.8" y="-14.1"/><use href="#G" x="-17.8" y="-21.2"/><use href="#G" x="-19.2" y="2.5"/><use href="#L" x="16.8" y="-13.3"/><use href="#L" x="10.2" y="-19.6"/><use href="#G" x="16.1" y="-1.4"/><use href="#L" x="22.1" y="16.7"/><use href="#G" x="22.8" y="4.9"/><use href="#L" x="0.8" y="21.4"/><use href="#G" x="23.5" y="-7.0"/><use href="#G" x="-11.9" y="-3.1"/><use href="#G" x="-3.8" y="-20.4"/><use href="#L" x="-11.2" y="-14.9"/><use href="#G" x="-12.5" y="8.8"/><use href="#G" x="3.5" y="-25.9"/><use href="#G" x="-8.3" y="22.1"/><use href="#G" x="-20.9" y="-2.4"/><use href="#G" x="-14.3" y="3.9"/><use href="#L" x="-6.2" y="-13.4"/><use href="#G" x="-7.6" y="10.2"/><use href="#G" x="-12.9" y="-19.7"/><use href="#G" x="20.4" y="11.9"/><use href="#G" x="13.7" y="5.5"/><use href="#G" x="14.4" y="-6.3"/><use href="#L" x="7.1" y="-0.8"/><use href="#G" x="13.0" y="17.4"/><use href="#G" x="5.7" y="22.9"/><use href="#G" x="7.8" y="-12.6"/><use href="#G" x="15.1" y="-18.1"/><use href="#G" x="-0.3" y="4.7"/><use href="#L" x="-1.0" y="16.6"/><use href="#G" x="-21.6" y="9.4"/><use href="#G" x="6.4" y="11.1"/><use href="#G" x="21.1" y="0.0"/><use href="#G" x="-15.0" y="15.8"/><use href="#G" x="-20.2" y="-14.2"/><use href="#G" x="-13.6" y="-7.9"/><use href="#L" x="0.4" y="-7.1"/><use href="#G" x="21.7" y="-11.8"/><use href="#L" x="-6.9" y="-1.6"/><use href="#G" x="1.1" y="-18.9"/><use href="#L" x="12.0" y="0.7"/><use href="#G" x="12.7" y="-11.1"/><use href="#L" x="-10.0" y="17.2"/><use href="#G" x="-8.7" y="-6.4"/><use href="#L" x="11.3" y="12.5"/><use href="#G" x="4.7" y="6.2"/><use href="#G" x="4.0" y="18.0"/><use href="#G" x="-16.7" y="10.9"/><use href="#G" x="19.3" y="-4.8"/><use href="#L" x="18.7" y="7.0"/><use href="#G" x="5.3" y="-5.6"/><use href="#L" x="-16.0" y="-0.9"/><use href="#G" x="-8.0" y="-18.3"/><use href="#G" x="-2.7" y="11.7"/><use href="#G" x="-2.0" y="-0.1"/><use href="#G" x="-15.3" y="-12.8"/><use href="#L" x="-9.3" y="5.4"/><use href="#L" x="6.0" y="-17.5"/><use href="#L" x="-1.3" y="-11.9"/><use href="#G" x="-11.1" y="0.5"/><use href="#G" x="2.2" y="13.2"/><use href="#L" x="10.3" y="-4.2"/><use href="#G" x="-4.4" y="6.9"/><use href="#L" x="9.6" y="7.7"/><use href="#G" x="2.9" y="1.4"/><use href="#G" x="-3.0" y="-16.8"/><use href="#L" x="3.6" y="-10.5"/><use href="#G" x="-11.8" y="12.4"/><use href="#L" x="16.9" y="2.2"/><use href="#G" x="-10.4" y="-11.3"/><use href="#G" x="-3.7" y="-5.0"/><use href="#G" x="7.9" y="2.8"/><use href="#L" x="0.5" y="8.3"/><use href="#G" x="8.5" y="-9.0"/><use href="#L" x="-6.1" y="2.0"/><use href="#G" x="-5.5" y="-9.8"/><use href="#G" x="1.2" y="-3.5"/></g><g transform="translate(222.4,258.2)"><circle r="64.1" fill="rgb(132,121,58)"/><use href="#L" x="-51.4" y="-37.2"/><use href="#L" x="-33.9" y="-54.0"/><use href="#G" x="-60.3" y="-22.2"/><use href="#G" x="-64.0" y="5.6"/><use href="#G" x="23.7" y="59.7"/><use href="#G" x="12.9" y="-62.9"/><use href="#G" x="38.3" y="51.6"/><use href="#G" x="38.5" y="-51.5"/><use href="#G" x="-62.1" y="16.0"/><use href="#G" x="58.6" y="26.0"/><use href="#G" x="-61.1" y="21.1"/><use href="#G" x="-53.7" y="-34.4"/><use href="#L" x="64.2" y="8.6"/><use href="#L" x="-10.8" y="63.2"/><use href="#L" x="49.7" y="41.0"/><use href="#G" x="-32.4" y="-54.9"/><use href="#G" x="35.2" y="-53.9"/><use href="#G" x="-64.5" y="-5.6"/><use href="#G" x="27.2" y="-58.0"/><use href="#L" x="39.8" y="50.8"/><use href="#G" x="25.1" y="58.9"/><use href="#G" x="-56.0" y="-31.7"/><use href="#G" x="2.6" y="-64.3"/><use href="#G" x="43.6" y="47.2"/><use href="#G" x="-52.2" y="-35.3"/><use href="#G" x="19.1" y="-62.1"/><use href="#G" x="64.7" y="2.6"/><use href="#G" x="31.9" y="-56.4"/><use href="#G" x="62.9" y="16.5"/><use href="#G" x="-34.8" y="-52.1"/><use href="#G" x="-20.1" y="-60.3"/><use href="#G" x="45.7" y="-45.4"/><use href="#G" x="47.3" y="43.7"/><use href="#G" x="-31.0" y="-55.7"/><use href="#G" x="-61.2" y="-20.3"/><use href="#L" x="-4.6" y="64.1"/><use href="#L" x="-29.2" y="57.7"/><use href="#G" x="-11.6" y="-62.2"/><use href="#G" x="57.7" y="27.9"/><use href="#G" x="63.3" y="-13.8"/><use href="#G" x="26.6" y="58.1"/><use href="#G" x="41.2" y="50.0"/><use href="#G" x="-54.6" y="-32.5"/><use href="#G" x="42.4" y="-47.9"/><use href="#G" x="64.3" y="-8.6"/><use href="#G" x="-24.5" y="59.4"/><use href="#G" x="15.7" y="62.7"/><use href="#L" x="45.0" y="46.4"/><use href="#G" x="63.4" y="10.5"/><use href="#L" x="-50.8" y="-36.1"/><use href="#L" x="8.8" y="-63.5"/><use href="#G" x="-18.7" y="-61.1"/><use href="#G" x="-33.3" y="-52.9"/><use href="#G" x="48.8" y="42.9"/><use href="#G" x="-3.1" y="-64.1"/><use href="#L" x="-64.4" y="1.5"/><use href="#G" x="-29.5" y="-56.5"/><use href="#G" x="-62.5" y="-12.4"/><use href="#G" x="8.7" y="63.8"/><use href="#G" x="-63.4" y="6.7"/><use href="#G" x="-59.7" y="-21.1"/><use href="#G" x="39.1" y="-50.4"/><use href="#G" x="-56.9" y="-29.8"/><use href="#G" x="-15.0" y="62.7"/><use href="#G" x="-61.5" y="17.1"/><use href="#L" x="28.1" y="57.3"/><use href="#G" x="-10.1" y="-63.0"/><use href="#G" x="53.8" y="-34.2"/><use href="#G" x="-60.5" y="22.2"/><use href="#G" x="-49.6" y="41.9"/><use href="#G" x="-53.1" y="-33.4"/><use href="#G" x="1.6" y="64.9"/><use href="#G" x="62.0" y="18.4"/><use href="#L" x="17.2" y="61.9"/><use href="#L" x="-49.3" y="-36.9"/><use href="#G" x="-17.2" y="-61.9"/><use href="#G" x="-31.8" y="-53.8"/><use href="#G" x="35.8" y="-52.8"/><use href="#L" x="-63.9" y="-4.5"/><use href="#G" x="-62.0" y="-18.4"/><use href="#G" x="-1.6" y="-64.9"/><use href="#G" x="49.6" y="-41.9"/><use href="#G" x="60.5" y="-22.2"/><use href="#L" x="-53.8" y="34.2"/><use href="#G" x="10.1" y="63.0"/><use href="#L" x="-28.1" y="-57.3"/><use href="#G" x="-58.2" y="-21.9"/><use href="#G" x="62.4" y="-11.9"/><use href="#G" x="15.0" y="-62.7"/><use href="#G" x="56.9" y="29.8"/><use href="#G" x="-55.4" y="-30.6"/><use href="#G" x="-39.1" y="50.4"/><use href="#L" x="3.2" y="-63.2"/><use href="#L" x="63.4" y="-6.7"/><use href="#G" x="-8.7" y="-63.8"/><use href="#G" x="62.5" y="12.4"/><use href="#G" x="29.5" y="56.5"/><use href="#L" x="64.4" y="-1.5"/><use href="#G" x="3.1" y="64.1"/><use href="#G" x="-48.1" y="41.1"/><use href="#G" x="-51.6" y="-34.2"/><use href="#L" x="32.5" y="-55.3"/><use href="#G" x="19.7" y="-61.0"/><use href="#L" x="56.3" y="-29.9"/><use href="#G" x="-48.8" y="-42.9"/><use href="#G" x="-19.5" y="-59.2"/><use href="#L" x="-34.2" y="-51.0"/><use href="#G" x="-58.1" y="26.6"/><use href="#G" x="18.7" y="61.1"/><use href="#G" x="-8.8" y="63.5"/><use href="#G" x="46.3" y="-44.3"/><use href="#L" x="-3.9" y="-62.2"/><use href="#G" x="-63.4" y="-10.5"/><use href="#G" x="-45.0" y="-46.4"/><use href="#L" x="-30.4" y="-54.6"/><use href="#G" x="-15.7" y="-62.7"/><use href="#G" x="24.5" y="-59.4"/><use href="#G" x="-60.6" y="-19.2"/><use href="#G" x="-64.3" y="8.6"/><use href="#G" x="-42.4" y="47.9"/><use href="#G" x="-26.6" y="-58.1"/><use href="#L" x="-41.2" y="-50.0"/><use href="#G" x="-63.3" y="13.8"/><use href="#G" x="-57.7" y="-27.9"/><use href="#G" x="11.6" y="62.2"/><use href="#G" x="52.0" y="-37.5"/><use href="#G" x="-51.4" y="38.6"/><use href="#G" x="-11.0" y="-61.1"/><use href="#L" x="29.2" y="-57.7"/><use href="#G" x="-53.9" y="-31.4"/><use href="#G" x="4.6" y="-64.1"/><use href="#G" x="43.0" y="-46.8"/><use href="#G" x="61.2" y="20.3"/><use href="#G" x="31.0" y="55.7"/><use href="#G" x="-50.2" y="-35.0"/><use href="#G" x="4.5" y="63.3"/><use href="#G" x="-7.3" y="62.7"/><use href="#G" x="20.1" y="60.3"/><use href="#G" x="-47.3" y="-43.7"/><use href="#L" x="-45.7" y="45.4"/><use href="#G" x="-32.7" y="-51.9"/><use href="#G" x="9.4" y="-62.4"/><use href="#G" x="-18.1" y="-60.0"/><use href="#L" x="58.7" y="-25.5"/><use href="#L" x="-31.9" y="56.4"/><use href="#G" x="-62.9" y="-16.5"/><use href="#G" x="-55.6" y="31.0"/><use href="#G" x="-64.7" y="-2.6"/><use href="#G" x="-19.1" y="62.1"/><use href="#L" x="-2.4" y="-63.0"/><use href="#L" x="-61.9" y="-11.3"/><use href="#G" x="-63.8" y="2.6"/><use href="#L" x="-43.6" y="-47.2"/><use href="#G" x="-28.9" y="-55.4"/><use href="#L" x="-59.1" y="-20.0"/><use href="#G" x="-62.8" y="7.8"/><use href="#G" x="-40.9" y="47.1"/><use href="#L" x="-2.6" y="64.3"/><use href="#G" x="56.0" y="31.7"/><use href="#G" x="39.7" y="-49.3"/><use href="#G" x="-61.8" y="13.0"/><use href="#G" x="13.1" y="61.4"/><use href="#G" x="-56.3" y="-28.7"/><use href="#G" x="-27.2" y="58.0"/><use href="#G" x="-39.8" y="-50.8"/><use href="#L" x="-25.1" y="-58.9"/><use href="#G" x="-49.9" y="37.8"/><use href="#L" x="-60.9" y="18.2"/><use href="#G" x="-9.5" y="-61.9"/><use href="#G" x="54.4" y="-33.2"/><use href="#L" x="61.7" y="14.3"/><use href="#G" x="63.5" y="0.4"/><use href="#G" x="-10.6" y="60.2"/><use href="#G" x="-52.5" y="-32.3"/><use href="#G" x="-59.9" y="23.3"/><use href="#G" x="64.5" y="5.6"/><use href="#G" x="-35.2" y="53.9"/><use href="#L" x="-22.4" y="59.7"/><use href="#G" x="32.4" y="54.9"/><use href="#G" x="-49.7" y="-41.0"/><use href="#G" x="-48.7" y="-35.8"/><use href="#G" x="49.9" y="38.0"/><use href="#G" x="6.0" y="62.4"/><use href="#G" x="-44.2" y="44.6"/><use href="#G" x="21.6" y="59.5"/><use href="#G" x="10.8" y="-63.2"/><use href="#G" x="-45.9" y="-44.5"/><use href="#G" x="-64.2" y="-8.6"/><use href="#G" x="-31.2" y="-52.7"/><use href="#G" x="-16.6" y="-60.8"/><use href="#G" x="36.2" y="51.3"/><use href="#L" x="-5.8" y="61.9"/><use href="#G" x="36.4" y="-51.7"/><use href="#G" x="-17.7" y="61.3"/><use href="#G" x="-30.5" y="55.6"/><use href="#G" x="-54.2" y="30.2"/><use href="#L" x="-63.3" y="-3.4"/><use href="#G" x="-61.4" y="-17.3"/><use href="#G" x="-1.0" y="-63.8"/><use href="#G" x="53.7" y="34.4"/><use href="#G" x="50.2" y="-40.8"/><use href="#G" x="61.1" y="-21.1"/><use href="#L" x="-58.6" y="-26.0"/><use href="#G" x="-53.2" y="35.3"/><use href="#G" x="-62.3" y="1.8"/><use href="#G" x="-60.4" y="-12.1"/><use href="#G" x="-42.1" y="-48.1"/><use href="#G" x="40.0" y="47.8"/><use href="#L" x="-27.4" y="-56.2"/><use href="#G" x="51.1" y="-35.6"/><use href="#G" x="25.4" y="55.9"/><use href="#G" x="56.5" y="25.7"/><use href="#G" x="62.1" y="-16.0"/><use href="#G" x="-39.5" y="46.3"/><use href="#L" x="-57.6" y="-20.8"/><use href="#G" x="28.4" y="-55.8"/><use href="#G" x="-1.1" y="63.5"/><use href="#G" x="-61.3" y="7.0"/><use href="#G" x="15.6" y="-61.6"/><use href="#G" x="63.0" y="-10.8"/><use href="#L" x="-38.5" y="51.5"/><use href="#G" x="-60.4" y="12.2"/><use href="#G" x="14.5" y="60.5"/><use href="#G" x="-25.7" y="57.2"/><use href="#G" x="-54.8" y="-29.5"/><use href="#G" x="3.8" y="-62.1"/><use href="#L" x="-38.3" y="-51.6"/><use href="#G" x="-12.9" y="62.9"/><use href="#G" x="43.8" y="44.2"/><use href="#G" x="42.1" y="-44.9"/><use href="#G" x="-23.7" y="-59.7"/><use href="#G" x="64.0" y="-5.6"/><use href="#G" x="60.3" y="22.2"/><use href="#G" x="62.2" y="8.3"/><use href="#G" x="-48.5" y="37.0"/><use href="#L" x="-59.4" y="17.3"/><use href="#G" x="2.7" y="60.0"/><use href="#G" x="-37.3" y="-46.4"/><use href="#L" x="-8.1" y="-62.7"/><use href="#L" x="-51.0" y="-33.1"/><use href="#G" x="-58.4" y="22.5"/><use href="#G" x="-34.7" y="47.9"/><use href="#G" x="-47.5" y="42.2"/><use href="#G" x="33.1" y="-54.2"/><use href="#L" x="18.3" y="57.0"/><use href="#G" x="47.6" y="40.7"/><use href="#G" x="-9.1" y="59.4"/><use href="#L" x="20.3" y="-59.9"/><use href="#G" x="56.9" y="-28.8"/><use href="#G" x="-21.0" y="58.8"/><use href="#G" x="33.9" y="54.0"/><use href="#L" x="-48.2" y="-41.8"/><use href="#G" x="-57.5" y="27.7"/><use href="#L" x="8.5" y="-60.5"/><use href="#G" x="-18.9" y="-58.1"/><use href="#G" x="-33.6" y="-49.9"/><use href="#G" x="-33.7" y="53.1"/><use href="#G" x="46.9" y="-43.3"/><use href="#L" x="57.8" y="-23.6"/><use href="#G" x="7.4" y="61.6"/><use href="#L" x="-3.3" y="-61.1"/><use href="#G" x="-47.2" y="-36.6"/><use href="#L" x="51.4" y="37.2"/><use href="#L" x="47.9" y="-38.1"/><use href="#G" x="58.8" y="-18.4"/><use href="#L" x="-4.4" y="61.1"/><use href="#G" x="-62.8" y="-9.4"/><use href="#G" x="-42.8" y="43.8"/><use href="#G" x="23.1" y="58.7"/><use href="#G" x="37.7" y="50.5"/><use href="#G" x="-53.7" y="24.2"/><use href="#G" x="-44.4" y="-45.3"/><use href="#G" x="-15.1" y="-61.6"/><use href="#G" x="54.2" y="28.5"/><use href="#G" x="25.1" y="-58.3"/><use href="#L" x="-29.8" y="-53.5"/><use href="#G" x="59.8" y="-13.2"/><use href="#G" x="-52.7" y="29.3"/><use href="#G" x="-43.4" y="-40.2"/><use href="#G" x="-61.8" y="-4.2"/><use href="#G" x="-29.0" y="54.7"/><use href="#L" x="-59.9" y="-18.1"/><use href="#G" x="-16.2" y="60.5"/><use href="#L" x="60.7" y="-8.1"/><use href="#G" x="38.9" y="-47.4"/><use href="#G" x="11.2" y="58.1"/><use href="#L" x="57.0" y="19.7"/><use href="#G" x="41.5" y="47.0"/><use href="#G" x="26.8" y="55.1"/><use href="#L" x="-57.1" y="-26.8"/><use href="#G" x="-59.0" y="-12.9"/><use href="#L" x="-26.0" y="-57.0"/><use href="#G" x="58.0" y="24.9"/><use href="#G" x="-51.8" y="34.5"/><use href="#G" x="-60.8" y="1.0"/><use href="#L" x="59.8" y="11.0"/><use href="#G" x="61.7" y="-2.9"/><use href="#G" x="-38.0" y="45.5"/><use href="#G" x="0.4" y="62.7"/><use href="#L" x="-10.4" y="-60.0"/><use href="#G" x="-58.0" y="-7.7"/><use href="#G" x="-59.9" y="6.2"/><use href="#G" x="-39.7" y="-43.7"/><use href="#G" x="-56.2" y="-21.6"/><use href="#G" x="-12.4" y="57.0"/><use href="#G" x="53.6" y="-31.2"/><use href="#L" x="60.8" y="16.2"/><use href="#G" x="62.7" y="2.3"/><use href="#G" x="-58.9" y="11.3"/><use href="#G" x="-37.0" y="50.6"/><use href="#G" x="30.6" y="51.6"/><use href="#L" x="-24.2" y="56.4"/><use href="#G" x="45.3" y="43.4"/><use href="#G" x="16.0" y="59.7"/><use href="#G" x="-53.3" y="-30.4"/><use href="#G" x="30.8" y="-51.5"/><use href="#G" x="18.0" y="-57.2"/><use href="#G" x="54.5" y="-26.1"/><use href="#L" x="-35.9" y="-47.2"/><use href="#G" x="-21.2" y="-55.4"/><use href="#G" x="-52.4" y="-25.2"/><use href="#G" x="-57.9" y="16.5"/><use href="#G" x="-47.0" y="36.2"/><use href="#G" x="48.1" y="34.7"/><use href="#G" x="4.2" y="59.2"/><use href="#G" x="44.6" y="-40.5"/><use href="#G" x="55.5" y="-20.9"/><use href="#L" x="19.8" y="56.2"/><use href="#G" x="34.4" y="48.0"/><use href="#G" x="-7.7" y="58.6"/><use href="#G" x="-33.2" y="47.1"/><use href="#G" x="-20.5" y="52.8"/><use href="#L" x="-46.0" y="41.3"/><use href="#G" x="-49.6" y="-33.9"/><use href="#G" x="-57.0" y="21.7"/><use href="#G" x="-5.6" y="-58.3"/><use href="#L" x="-17.4" y="-58.9"/><use href="#G" x="35.6" y="-49.8"/><use href="#G" x="-56.0" y="26.9"/><use href="#G" x="-32.3" y="52.3"/><use href="#G" x="-19.5" y="58.0"/><use href="#G" x="-32.1" y="-50.8"/><use href="#G" x="10.0" y="-61.3"/><use href="#G" x="51.9" y="31.2"/><use href="#G" x="22.8" y="-55.6"/><use href="#G" x="38.2" y="44.5"/><use href="#G" x="-42.3" y="37.8"/><use href="#G" x="23.6" y="52.7"/><use href="#G" x="-45.8" y="-37.4"/><use href="#G" x="8.9" y="60.8"/><use href="#G" x="54.7" y="22.5"/><use href="#G" x="-1.8" y="-61.9"/><use href="#G" x="58.4" y="-5.3"/><use href="#G" x="-41.3" y="43.0"/><use href="#G" x="-52.2" y="23.3"/><use href="#G" x="-28.3" y="-54.3"/><use href="#G" x="-2.9" y="60.2"/><use href="#L" x="-15.7" y="54.5"/><use href="#G" x="-28.5" y="48.7"/><use href="#G" x="57.5" y="13.7"/><use href="#G" x="50.3" y="-33.7"/><use href="#G" x="59.4" y="-0.2"/><use href="#G" x="27.3" y="49.1"/><use href="#G" x="-51.3" y="28.5"/><use href="#G" x="42.0" y="41.0"/><use href="#G" x="-14.7" y="59.7"/><use href="#G" x="-60.3" y="-5.0"/><use href="#L" x="-42.0" y="-41.0"/><use href="#G" x="12.7" y="57.3"/><use href="#G" x="-58.5" y="-18.9"/><use href="#G" x="-27.5" y="53.9"/><use href="#G" x="60.3" y="5.0"/><use href="#G" x="-12.7" y="-57.3"/><use href="#L" x="58.5" y="18.9"/><use href="#L" x="27.5" y="-53.9"/><use href="#L" x="14.7" y="-59.7"/><use href="#G" x="51.3" y="-28.5"/><use href="#L" x="28.3" y="54.3"/><use href="#G" x="-59.4" y="0.2"/><use href="#G" x="-57.5" y="-13.7"/><use href="#G" x="-50.3" y="33.7"/><use href="#G" x="0.9" y="56.7"/><use href="#L" x="2.9" y="-60.2"/><use href="#G" x="41.3" y="-43.0"/><use href="#G" x="16.5" y="53.7"/><use href="#G" x="-54.7" y="-22.5"/><use href="#G" x="45.8" y="37.4"/><use href="#G" x="-23.6" y="-52.7"/><use href="#L" x="-38.2" y="-44.5"/><use href="#G" x="-23.7" y="50.4"/><use href="#G" x="-56.6" y="-8.6"/><use href="#G" x="-11.0" y="56.1"/><use href="#G" x="-36.5" y="44.6"/><use href="#G" x="-58.4" y="5.3"/><use href="#G" x="-53.7" y="-17.3"/><use href="#L" x="-55.6" y="-3.4"/><use href="#L" x="48.6" y="28.7"/><use href="#G" x="-57.4" y="10.5"/><use href="#G" x="-46.5" y="30.2"/><use href="#G" x="32.1" y="50.8"/><use href="#L" x="-51.9" y="-31.2"/><use href="#G" x="-22.8" y="55.6"/><use href="#L" x="-50.9" y="-26.0"/><use href="#G" x="5.6" y="58.3"/><use href="#L" x="-45.5" y="35.4"/><use href="#L" x="49.6" y="33.9"/><use href="#G" x="-19.8" y="-56.2"/><use href="#G" x="-56.5" y="15.7"/><use href="#G" x="33.2" y="-47.1"/><use href="#G" x="-34.4" y="-48.0"/><use href="#G" x="7.7" y="-58.6"/><use href="#G" x="21.2" y="55.4"/><use href="#G" x="-44.6" y="40.5"/><use href="#G" x="35.9" y="47.2"/><use href="#G" x="-55.5" y="20.9"/><use href="#G" x="-48.1" y="-34.7"/><use href="#G" x="-6.2" y="57.8"/><use href="#G" x="47.0" y="-36.2"/><use href="#G" x="-31.8" y="46.3"/><use href="#G" x="52.4" y="25.2"/><use href="#G" x="-19.0" y="52.0"/><use href="#G" x="57.9" y="-16.5"/><use href="#G" x="-4.2" y="-59.2"/><use href="#G" x="-30.8" y="51.5"/><use href="#G" x="-30.6" y="-51.6"/><use href="#G" x="9.4" y="54.8"/><use href="#L" x="-47.1" y="-29.5"/><use href="#G" x="-18.0" y="57.2"/><use href="#G" x="55.2" y="16.5"/><use href="#L" x="58.9" y="-11.3"/><use href="#G" x="57.0" y="2.6"/><use href="#G" x="48.0" y="-31.0"/><use href="#G" x="25.0" y="51.8"/><use href="#G" x="-40.8" y="37.0"/><use href="#G" x="25.2" y="-51.2"/><use href="#L" x="38.0" y="-45.5"/><use href="#G" x="39.7" y="43.7"/><use href="#G" x="-44.3" y="-38.2"/><use href="#L" x="-15.0" y="-54.5"/><use href="#G" x="58.0" y="7.7"/><use href="#L" x="12.4" y="-57.0"/><use href="#G" x="-39.8" y="42.2"/><use href="#L" x="-1.5" y="59.4"/><use href="#G" x="-14.2" y="53.7"/><use href="#G" x="-27.0" y="47.9"/><use href="#G" x="39.0" y="-40.3"/><use href="#L" x="-50.8" y="22.5"/><use href="#L" x="0.6" y="-57.5"/><use href="#G" x="43.4" y="40.2"/><use href="#G" x="28.8" y="48.3"/><use href="#G" x="-58.9" y="-5.8"/><use href="#G" x="14.2" y="56.5"/><use href="#L" x="-40.5" y="-41.8"/><use href="#G" x="-25.9" y="-49.9"/><use href="#L" x="-49.8" y="27.7"/><use href="#G" x="-26.1" y="53.1"/><use href="#L" x="-11.2" y="-58.1"/><use href="#G" x="2.3" y="55.9"/><use href="#L" x="46.3" y="31.4"/><use href="#G" x="-56.1" y="-14.6"/><use href="#G" x="-48.8" y="32.9"/><use href="#G" x="-57.9" y="-0.7"/><use href="#G" x="30.0" y="-49.6"/><use href="#L" x="53.7" y="-24.2"/><use href="#G" x="17.2" y="-55.3"/><use href="#G" x="-53.2" y="-23.3"/><use href="#G" x="-55.1" y="-9.4"/><use href="#G" x="17.9" y="52.9"/><use href="#G" x="-22.3" y="49.6"/><use href="#G" x="-9.5" y="55.3"/><use href="#G" x="-56.9" y="4.5"/><use href="#L" x="-35.1" y="43.8"/><use href="#G" x="-22.1" y="-53.5"/><use href="#G" x="-36.7" y="-45.3"/><use href="#G" x="5.3" y="-55.9"/><use href="#L" x="43.7" y="-38.6"/><use href="#L" x="54.7" y="-19.0"/><use href="#G" x="50.1" y="27.9"/><use href="#G" x="-45.0" y="29.4"/><use href="#G" x="-54.1" y="-4.2"/><use href="#G" x="-52.3" y="-18.1"/><use href="#G" x="-56.0" y="9.7"/><use href="#G" x="44.7" y="-33.4"/><use href="#G" x="-6.5" y="-56.4"/><use href="#L" x="55.6" y="-13.8"/><use href="#L" x="-44.1" y="34.5"/><use href="#L" x="-55.0" y="14.9"/><use href="#G" x="36.4" y="41.2"/><use href="#G" x="52.9" y="19.2"/><use href="#G" x="7.1" y="57.5"/><use href="#G" x="-49.4" y="-26.8"/><use href="#G" x="45.6" y="-28.3"/><use href="#L" x="21.9" y="-53.7"/><use href="#G" x="54.7" y="5.3"/><use href="#G" x="56.6" y="-8.6"/><use href="#G" x="-30.3" y="45.5"/><use href="#L" x="55.7" y="10.5"/><use href="#G" x="-17.3" y="-51.8"/><use href="#G" x="-17.5" y="51.2"/><use href="#L" x="-4.7" y="57.0"/><use href="#G" x="-54.0" y="20.1"/><use href="#G" x="10.1" y="-54.2"/><use href="#L" x="35.7" y="-42.7"/><use href="#L" x="57.5" y="-3.4"/><use href="#G" x="22.9" y="-48.5"/><use href="#G" x="40.2" y="37.7"/><use href="#G" x="10.9" y="54.0"/><use href="#L" x="-51.2" y="11.4"/><use href="#L" x="-45.7" y="-30.3"/><use href="#G" x="-1.7" y="-54.8"/><use href="#G" x="-1.0" y="53.4"/><use href="#G" x="-39.3" y="36.2"/><use href="#G" x="-28.2" y="-47.2"/><use href="#G" x="-13.6" y="-55.4"/><use href="#G" x="50.4" y="-26.6"/><use href="#G" x="-50.3" y="16.5"/><use href="#G" x="43.9" y="34.2"/><use href="#G" x="14.7" y="50.5"/><use href="#G" x="-12.8" y="52.9"/><use href="#G" x="-25.6" y="47.1"/><use href="#L" x="14.8" y="-52.6"/><use href="#G" x="-38.4" y="41.4"/><use href="#G" x="-49.3" y="21.7"/><use href="#G" x="27.6" y="-46.8"/><use href="#G" x="51.4" y="-21.4"/><use href="#G" x="-48.3" y="26.9"/><use href="#G" x="3.0" y="-53.2"/><use href="#G" x="46.8" y="25.4"/><use href="#L" x="30.3" y="47.5"/><use href="#G" x="-24.4" y="-50.7"/><use href="#G" x="41.4" y="-35.9"/><use href="#L" x="52.3" y="-16.3"/><use href="#G" x="-34.6" y="37.8"/><use href="#L" x="3.8" y="55.1"/><use href="#G" x="-38.1" y="-37.4"/><use href="#G" x="-8.8" y="-53.7"/><use href="#L" x="42.4" y="-30.7"/><use href="#G" x="53.3" y="-11.1"/><use href="#G" x="51.4" y="2.8"/><use href="#L" x="49.6" y="16.7"/><use href="#G" x="-33.6" y="43.0"/><use href="#L" x="-8.0" y="54.5"/><use href="#L" x="19.4" y="52.1"/><use href="#L" x="54.3" y="-5.9"/><use href="#G" x="52.4" y="8.0"/><use href="#G" x="-55.5" y="3.7"/><use href="#G" x="-44.5" y="23.4"/><use href="#L" x="32.4" y="-45.2"/><use href="#G" x="-20.8" y="48.8"/><use href="#G" x="-53.6" y="-10.2"/><use href="#G" x="34.1" y="44.0"/><use href="#G" x="50.6" y="21.9"/><use href="#L" x="19.6" y="-50.9"/><use href="#L" x="-50.8" y="-18.9"/><use href="#G" x="7.6" y="51.5"/><use href="#G" x="-54.5" y="8.9"/><use href="#L" x="33.4" y="-40.0"/><use href="#G" x="53.4" y="13.2"/><use href="#G" x="-52.7" y="-5.0"/><use href="#L" x="-43.6" y="28.5"/><use href="#G" x="-19.7" y="-49.1"/><use href="#G" x="-34.3" y="-41.0"/><use href="#L" x="55.2" y="-0.7"/><use href="#G" x="7.8" y="-51.5"/><use href="#G" x="-42.6" y="33.7"/><use href="#G" x="-49.8" y="-13.7"/><use href="#G" x="-29.8" y="39.5"/><use href="#G" x="-4.2" y="51.0"/><use href="#G" x="-51.7" y="0.2"/><use href="#L" x="-4.0" y="-52.1"/><use href="#G" x="23.2" y="48.6"/><use href="#L" x="-30.5" y="-44.5"/><use href="#G" x="-50.7" y="5.4"/><use href="#G" x="-16.1" y="50.4"/><use href="#G" x="40.7" y="31.7"/><use href="#G" x="-47.0" y="-22.4"/><use href="#G" x="-28.9" y="44.7"/><use href="#G" x="48.1" y="-23.9"/><use href="#G" x="27.0" y="45.0"/><use href="#G" x="-44.2" y="-31.2"/><use href="#L" x="-49.8" y="10.5"/><use href="#L" x="12.5" y="-49.9"/><use href="#G" x="49.0" y="-18.7"/><use href="#G" x="25.3" y="-44.1"/><use href="#G" x="-38.8" y="30.2"/><use href="#G" x="38.1" y="-38.4"/><use href="#G" x="0.5" y="52.6"/><use href="#L" x="-43.2" y="-26.0"/><use href="#G" x="-12.3" y="46.9"/><use href="#G" x="-48.8" y="15.7"/><use href="#G" x="0.7" y="-50.4"/><use href="#G" x="44.4" y="28.2"/><use href="#G" x="-25.1" y="41.1"/><use href="#G" x="-37.9" y="35.4"/><use href="#G" x="39.1" y="-33.2"/><use href="#G" x="50.0" y="-13.5"/><use href="#G" x="-11.3" y="52.0"/><use href="#G" x="-24.1" y="46.3"/><use href="#G" x="47.3" y="19.4"/><use href="#L" x="40.0" y="-28.0"/><use href="#G" x="51.0" y="-8.4"/><use href="#G" x="16.1" y="49.6"/><use href="#G" x="-47.8" y="20.9"/><use href="#G" x="30.8" y="41.5"/><use href="#G" x="-25.8" y="-42.8"/><use href="#G" x="-11.1" y="-51.0"/><use href="#G" x="-40.4" y="-34.7"/><use href="#L" x="49.1" y="5.5"/><use href="#L" x="17.3" y="-48.2"/><use href="#L" x="4.3" y="49.1"/><use href="#G" x="-34.1" y="31.8"/><use href="#L" x="30.1" y="-42.5"/><use href="#G" x="51.9" y="-3.2"/><use href="#G" x="50.1" y="10.7"/><use href="#G" x="-44.0" y="17.4"/><use href="#G" x="-7.5" y="48.5"/><use href="#G" x="19.9" y="46.1"/><use href="#G" x="34.6" y="38.0"/><use href="#L" x="-20.3" y="42.8"/><use href="#G" x="31.0" y="-37.3"/><use href="#G" x="-33.1" y="37.0"/><use href="#G" x="-22.0" y="-46.4"/><use href="#G" x="5.5" y="-48.8"/><use href="#G" x="-35.7" y="-33.1"/><use href="#G" x="-19.4" y="47.9"/><use href="#G" x="-43.1" y="22.5"/><use href="#G" x="-6.4" y="-49.4"/><use href="#G" x="37.4" y="29.2"/><use href="#G" x="44.8" y="-26.4"/><use href="#L" x="-42.1" y="27.7"/><use href="#G" x="9.0" y="50.7"/><use href="#G" x="23.7" y="42.6"/><use href="#G" x="-51.2" y="-5.8"/><use href="#G" x="38.3" y="34.4"/><use href="#L" x="22.0" y="-46.6"/><use href="#G" x="45.8" y="-21.2"/><use href="#G" x="41.2" y="25.7"/><use href="#G" x="-48.4" y="-14.5"/><use href="#G" x="-15.6" y="44.4"/><use href="#L" x="-28.4" y="38.7"/><use href="#G" x="10.2" y="-47.1"/><use href="#G" x="-2.8" y="50.2"/><use href="#L" x="-50.2" y="-0.6"/><use href="#G" x="-31.9" y="-36.6"/><use href="#G" x="-17.2" y="-44.7"/><use href="#G" x="23.0" y="-41.4"/><use href="#L" x="35.8" y="-35.6"/><use href="#G" x="46.7" y="-16.0"/><use href="#G" x="27.5" y="39.0"/><use href="#G" x="44.0" y="17.0"/><use href="#L" x="-47.4" y="-9.4"/><use href="#G" x="-38.3" y="24.2"/><use href="#G" x="12.8" y="47.2"/><use href="#G" x="-49.3" y="4.5"/><use href="#L" x="36.8" y="-30.5"/><use href="#G" x="45.8" y="3.1"/><use href="#G" x="47.7" y="-10.8"/><use href="#G" x="-1.6" y="-47.7"/><use href="#G" x="-28.1" y="-40.1"/><use href="#G" x="1.0" y="46.6"/><use href="#G" x="-44.6" y="-18.1"/><use href="#G" x="-37.4" y="29.4"/><use href="#G" x="37.7" y="-25.3"/><use href="#G" x="-13.4" y="-48.3"/><use href="#G" x="-48.3" y="9.7"/><use href="#L" x="44.9" y="22.2"/><use href="#L" x="-46.4" y="-4.2"/><use href="#G" x="46.8" y="8.3"/><use href="#L" x="48.7" y="-5.6"/><use href="#G" x="-10.8" y="46.0"/><use href="#G" x="47.8" y="13.4"/><use href="#G" x="-43.6" y="-12.9"/><use href="#L" x="-45.5" y="1.0"/><use href="#G" x="-12.5" y="-43.1"/><use href="#G" x="-23.6" y="40.3"/><use href="#G" x="31.3" y="35.5"/><use href="#L" x="15.0" y="-45.5"/><use href="#L" x="16.6" y="43.6"/><use href="#G" x="-47.3" y="14.9"/><use href="#L" x="-41.8" y="-26.8"/><use href="#G" x="27.7" y="-39.7"/><use href="#G" x="49.6" y="-0.5"/><use href="#G" x="38.7" y="-20.1"/><use href="#G" x="4.8" y="43.1"/><use href="#G" x="3.1" y="-46.1"/><use href="#L" x="-40.8" y="-21.6"/><use href="#G" x="-33.6" y="25.8"/><use href="#G" x="15.9" y="-40.3"/><use href="#G" x="-44.5" y="6.2"/><use href="#G" x="28.7" y="-34.6"/><use href="#L" x="-43.5" y="11.4"/><use href="#L" x="-32.6" y="31.0"/><use href="#G" x="5.8" y="48.3"/><use href="#G" x="-19.8" y="36.8"/><use href="#G" x="20.4" y="40.1"/><use href="#L" x="-7.0" y="42.5"/><use href="#G" x="-23.3" y="-38.5"/><use href="#G" x="-38.0" y="-30.3"/><use href="#G" x="35.1" y="32.0"/><use href="#G" x="-8.7" y="-46.6"/><use href="#G" x="42.5" y="-23.6"/><use href="#G" x="-42.6" y="16.5"/><use href="#G" x="-37.0" y="-25.1"/><use href="#G" x="-6.1" y="47.7"/><use href="#G" x="-18.9" y="41.9"/><use href="#G" x="19.7" y="-43.9"/><use href="#G" x="41.6" y="-4.6"/><use href="#G" x="37.9" y="23.2"/><use href="#G" x="-31.6" y="36.2"/><use href="#L" x="43.4" y="-18.5"/><use href="#G" x="40.7" y="14.5"/><use href="#L" x="-41.6" y="21.7"/><use href="#G" x="33.5" y="-32.9"/><use href="#G" x="20.7" y="-38.7"/><use href="#G" x="44.4" y="-13.3"/><use href="#G" x="42.5" y="0.6"/><use href="#G" x="-19.5" y="-42.0"/><use href="#G" x="7.9" y="-44.4"/><use href="#L" x="9.5" y="44.7"/><use href="#G" x="24.2" y="36.6"/><use href="#G" x="-15.1" y="38.4"/><use href="#G" x="41.7" y="19.7"/><use href="#G" x="-38.8" y="13.0"/><use href="#L" x="-3.9" y="-45.0"/><use href="#G" x="-33.2" y="-28.7"/><use href="#L" x="43.5" y="5.8"/><use href="#G" x="-27.9" y="32.7"/><use href="#L" x="-2.3" y="44.2"/><use href="#G" x="34.4" y="-27.7"/><use href="#L" x="45.4" y="-8.1"/><use href="#G" x="-26.9" y="37.8"/><use href="#G" x="-14.1" y="43.6"/><use href="#G" x="44.5" y="11.0"/><use href="#L" x="46.3" y="-2.9"/><use href="#G" x="-37.8" y="18.2"/><use href="#G" x="35.4" y="-22.6"/><use href="#G" x="28.0" y="33.0"/><use href="#G" x="13.3" y="41.2"/><use href="#L" x="1.5" y="40.6"/><use href="#G" x="-36.9" y="23.4"/><use href="#L" x="25.4" y="-37.0"/><use href="#G" x="-29.4" y="-32.2"/><use href="#G" x="12.6" y="-42.8"/><use href="#G" x="36.4" y="-17.4"/><use href="#L" x="-14.8" y="-40.4"/><use href="#L" x="-10.3" y="40.1"/><use href="#G" x="-45.0" y="-5.0"/><use href="#G" x="31.8" y="29.5"/><use href="#G" x="17.1" y="37.7"/><use href="#G" x="-23.1" y="34.3"/><use href="#G" x="37.3" y="-12.2"/><use href="#L" x="26.4" y="-31.8"/><use href="#G" x="0.8" y="-43.3"/><use href="#G" x="13.6" y="-37.6"/><use href="#G" x="-33.1" y="19.8"/><use href="#G" x="-25.7" y="-35.8"/><use href="#G" x="34.6" y="20.8"/><use href="#G" x="-44.0" y="0.2"/><use href="#G" x="38.3" y="-7.0"/><use href="#L" x="1.8" y="-38.2"/><use href="#L" x="27.4" y="-26.7"/><use href="#G" x="-42.2" y="-13.7"/><use href="#G" x="6.3" y="42.3"/><use href="#G" x="-24.7" y="-30.6"/><use href="#L" x="-32.1" y="25.0"/><use href="#G" x="39.3" y="-1.8"/><use href="#L" x="-6.5" y="36.5"/><use href="#G" x="-10.0" y="-38.7"/><use href="#G" x="-41.2" y="-8.5"/><use href="#L" x="35.5" y="26.0"/><use href="#G" x="20.9" y="34.1"/><use href="#G" x="-19.3" y="30.8"/><use href="#G" x="-43.0" y="5.4"/><use href="#G" x="37.4" y="12.1"/><use href="#L" x="41.1" y="-15.7"/><use href="#G" x="-5.6" y="41.7"/><use href="#G" x="-38.4" y="-17.2"/><use href="#G" x="-18.4" y="35.9"/><use href="#G" x="18.4" y="-35.9"/><use href="#L" x="40.2" y="3.3"/><use href="#G" x="-40.2" y="-3.3"/><use href="#L" x="-42.1" y="10.6"/><use href="#G" x="38.4" y="17.2"/><use href="#G" x="42.1" y="-10.6"/><use href="#G" x="5.6" y="-41.7"/><use href="#G" x="-31.1" y="30.2"/><use href="#G" x="31.1" y="-30.2"/><use href="#L" x="41.2" y="8.5"/><use href="#L" x="-28.3" y="21.5"/><use href="#G" x="19.3" y="-30.8"/><use href="#G" x="24.7" y="30.6"/><use href="#L" x="10.0" y="38.7"/><use href="#G" x="6.5" y="-36.5"/><use href="#G" x="-6.3" y="-42.3"/><use href="#L" x="-20.9" y="-34.1"/><use href="#G" x="-39.3" y="1.8"/><use href="#G" x="-37.4" y="-12.1"/><use href="#G" x="32.1" y="-25.0"/><use href="#G" x="27.5" y="21.9"/><use href="#G" x="-14.6" y="32.4"/><use href="#L" x="-34.6" y="-20.8"/><use href="#L" x="-5.3" y="-37.1"/><use href="#G" x="-36.4" y="-6.9"/><use href="#L" x="-27.4" y="26.7"/><use href="#G" x="-1.8" y="38.2"/><use href="#L" x="-38.3" y="7.0"/><use href="#G" x="33.1" y="-19.8"/><use href="#G" x="-13.6" y="37.6"/><use href="#G" x="28.5" y="27.0"/><use href="#G" x="-26.4" y="31.8"/><use href="#G" x="-35.5" y="-1.7"/><use href="#L" x="23.1" y="-34.3"/><use href="#L" x="-33.6" y="-15.6"/><use href="#L" x="-17.1" y="-37.7"/><use href="#G" x="13.8" y="35.2"/><use href="#G" x="34.0" y="-14.7"/><use href="#G" x="10.3" y="-40.1"/><use href="#G" x="-37.3" y="12.2"/><use href="#G" x="24.1" y="-29.1"/><use href="#G" x="-34.5" y="3.5"/><use href="#G" x="-30.8" y="-24.3"/><use href="#G" x="2.0" y="34.6"/><use href="#G" x="31.3" y="18.3"/><use href="#G" x="-16.2" y="-32.5"/><use href="#G" x="35.0" y="-9.5"/><use href="#L" x="-32.7" y="-10.4"/><use href="#G" x="11.3" y="-34.9"/><use href="#G" x="-1.5" y="-40.6"/><use href="#G" x="33.2" y="4.4"/><use href="#G" x="-36.4" y="17.4"/><use href="#L" x="-23.6" y="23.1"/><use href="#G" x="-9.8" y="34.1"/><use href="#G" x="-22.6" y="28.3"/><use href="#L" x="3.0" y="39.8"/><use href="#G" x="17.6" y="31.7"/><use href="#G" x="32.3" y="23.5"/><use href="#G" x="34.1" y="9.6"/><use href="#G" x="-33.5" y="8.7"/><use href="#G" x="12.2" y="-29.7"/><use href="#G" x="25.0" y="-23.9"/><use href="#L" x="-0.5" y="-35.4"/><use href="#G" x="36.0" y="-4.3"/><use href="#G" x="-29.8" y="-19.1"/><use href="#G" x="5.8" y="31.1"/><use href="#G" x="-32.6" y="13.8"/><use href="#G" x="35.1" y="14.8"/><use href="#L" x="26.0" y="-18.8"/><use href="#L" x="-12.4" y="-36.0"/><use href="#G" x="-27.0" y="-27.9"/><use href="#G" x="36.9" y="0.9"/><use href="#G" x="-6.0" y="30.5"/><use href="#G" x="-31.6" y="19.0"/><use href="#L" x="-29.8" y="5.1"/><use href="#L" x="16.0" y="-33.2"/><use href="#G" x="-11.4" y="-30.8"/><use href="#G" x="37.9" y="6.1"/><use href="#L" x="-18.8" y="24.8"/><use href="#G" x="-26.0" y="-22.7"/><use href="#G" x="6.8" y="36.3"/><use href="#G" x="21.4" y="28.1"/><use href="#G" x="27.0" y="-13.6"/><use href="#G" x="17.0" y="-28.0"/><use href="#G" x="-28.8" y="10.3"/><use href="#G" x="-17.9" y="30.0"/><use href="#G" x="27.9" y="-8.4"/><use href="#G" x="-5.1" y="35.7"/><use href="#G" x="24.2" y="19.4"/><use href="#G" x="29.8" y="-22.3"/><use href="#G" x="-25.1" y="-17.5"/><use href="#G" x="4.2" y="-33.8"/><use href="#G" x="27.0" y="10.7"/><use href="#G" x="30.8" y="-17.1"/><use href="#G" x="-7.6" y="-34.4"/><use href="#L" x="-22.3" y="-26.2"/><use href="#L" x="5.2" y="-28.6"/><use href="#L" x="-27.8" y="15.5"/><use href="#G" x="25.2" y="24.6"/><use href="#G" x="10.5" y="32.7"/><use href="#L" x="28.9" y="-3.2"/><use href="#L" x="18.0" y="-22.9"/><use href="#G" x="29.9" y="2.0"/><use href="#G" x="-26.9" y="20.7"/><use href="#L" x="-14.1" y="26.4"/><use href="#G" x="13.4" y="24.0"/><use href="#G" x="-21.3" y="-21.0"/><use href="#G" x="-6.7" y="-29.2"/><use href="#G" x="28.0" y="15.9"/><use href="#L" x="-1.3" y="32.2"/><use href="#G" x="18.9" y="-17.7"/><use href="#G" x="31.7" y="-11.9"/><use href="#L" x="-13.1" y="31.6"/><use href="#G" x="9.0" y="-32.2"/><use href="#G" x="-18.5" y="-29.7"/><use href="#G" x="32.7" y="-6.8"/><use href="#L" x="21.7" y="-26.4"/><use href="#L" x="-24.0" y="11.9"/><use href="#G" x="30.8" y="7.1"/><use href="#L" x="14.3" y="29.2"/><use href="#G" x="-34.0" y="-2.5"/><use href="#G" x="-10.3" y="22.9"/><use href="#G" x="17.2" y="20.5"/><use href="#L" x="31.8" y="12.3"/><use href="#G" x="2.5" y="28.6"/><use href="#L" x="9.9" y="-27.0"/><use href="#L" x="-17.5" y="-24.6"/><use href="#G" x="-2.9" y="-32.7"/><use href="#G" x="22.7" y="-21.2"/><use href="#G" x="33.7" y="-1.6"/><use href="#L" x="-23.1" y="17.1"/><use href="#G" x="-9.3" y="28.1"/><use href="#G" x="-16.5" y="-19.4"/><use href="#G" x="-31.2" y="-11.2"/><use href="#L" x="20.0" y="11.8"/><use href="#G" x="-22.1" y="22.3"/><use href="#G" x="-1.9" y="-27.5"/><use href="#G" x="-33.0" y="2.7"/><use href="#G" x="23.7" y="-16.0"/><use href="#G" x="18.1" y="25.7"/><use href="#G" x="21.8" y="-2.1"/><use href="#L" x="10.9" y="-21.8"/><use href="#G" x="6.3" y="25.1"/><use href="#G" x="-30.2" y="-6.1"/><use href="#G" x="11.9" y="-16.6"/><use href="#G" x="24.6" y="-10.9"/><use href="#L" x="22.8" y="3.0"/><use href="#G" x="20.9" y="16.9"/><use href="#L" x="-0.9" y="-22.4"/><use href="#L" x="-13.7" y="-28.1"/><use href="#G" x="-19.3" y="13.6"/><use href="#G" x="-5.5" y="24.5"/><use href="#G" x="25.6" y="-5.7"/><use href="#G" x="1.9" y="-31.1"/><use href="#G" x="21.9" y="22.1"/><use href="#L" x="7.3" y="30.3"/><use href="#G" x="-18.3" y="18.8"/><use href="#L" x="14.7" y="-25.3"/><use href="#G" x="-27.4" y="-14.8"/><use href="#G" x="-12.8" y="-22.9"/><use href="#G" x="23.8" y="8.2"/><use href="#G" x="-29.3" y="-0.9"/><use href="#G" x="-17.4" y="24.0"/><use href="#L" x="-15.5" y="10.1"/><use href="#G" x="26.6" y="-0.5"/><use href="#G" x="-28.3" y="4.3"/><use href="#G" x="10.1" y="21.6"/><use href="#G" x="-11.8" y="-17.7"/><use href="#G" x="2.9" y="-25.9"/><use href="#G" x="-26.4" y="-9.6"/><use href="#G" x="24.7" y="13.4"/><use href="#G" x="-4.6" y="29.7"/><use href="#G" x="15.6" y="-20.1"/><use href="#G" x="27.5" y="4.7"/><use href="#G" x="12.9" y="12.8"/><use href="#G" x="-1.7" y="21.0"/><use href="#G" x="-9.0" y="-26.5"/><use href="#G" x="16.6" y="-15.0"/><use href="#G" x="-14.5" y="15.2"/><use href="#G" x="14.8" y="-1.1"/><use href="#L" x="-27.3" y="9.5"/><use href="#G" x="11.0" y="26.7"/><use href="#G" x="-10.8" y="-12.6"/><use href="#G" x="-25.5" y="-4.4"/><use href="#L" x="3.8" y="-20.7"/><use href="#G" x="15.7" y="4.1"/><use href="#L" x="-13.6" y="20.4"/><use href="#G" x="-0.8" y="26.2"/><use href="#L" x="-22.7" y="-13.1"/><use href="#G" x="-8.0" y="-21.3"/><use href="#G" x="13.9" y="18.0"/><use href="#G" x="-24.5" y="0.8"/><use href="#L" x="17.6" y="-9.8"/><use href="#G" x="4.8" y="-15.5"/><use href="#G" x="18.5" y="-4.6"/><use href="#G" x="16.7" y="9.3"/><use href="#G" x="-10.8" y="11.7"/><use href="#G" x="-23.5" y="6.0"/><use href="#G" x="2.0" y="17.5"/><use href="#L" x="5.7" y="-10.3"/><use href="#L" x="7.6" y="-24.2"/><use href="#G" x="-7.0" y="-16.1"/><use href="#G" x="-21.7" y="-7.9"/><use href="#G" x="17.7" y="14.5"/><use href="#G" x="-4.2" y="-24.8"/><use href="#G" x="-18.9" y="-16.7"/><use href="#G" x="3.0" y="22.6"/><use href="#G" x="4.9" y="8.7"/><use href="#G" x="-22.6" y="11.1"/><use href="#G" x="6.7" y="-5.2"/><use href="#G" x="-7.9" y="3.0"/><use href="#G" x="21.4" y="-13.3"/><use href="#G" x="-9.8" y="16.9"/><use href="#G" x="19.5" y="0.6"/><use href="#L" x="8.6" y="-19.1"/><use href="#G" x="-20.7" y="-2.8"/><use href="#G" x="-6.1" y="-10.9"/><use href="#G" x="20.5" y="5.8"/><use href="#G" x="5.8" y="13.9"/><use href="#G" x="-8.8" y="22.1"/><use href="#G" x="7.7" y="0.0"/><use href="#G" x="22.3" y="-8.1"/><use href="#G" x="-19.8" y="2.4"/><use href="#G" x="-5.1" y="-5.7"/><use href="#G" x="9.5" y="-13.9"/><use href="#L" x="-7.0" y="8.2"/><use href="#L" x="-17.9" y="-11.5"/><use href="#L" x="-3.3" y="-19.6"/><use href="#L" x="-6.0" y="13.3"/><use href="#G" x="6.8" y="19.1"/><use href="#G" x="-2.3" y="-14.5"/><use href="#G" x="8.6" y="5.2"/><use href="#G" x="-16.9" y="-6.3"/><use href="#G" x="10.5" y="-8.7"/><use href="#G" x="-18.8" y="7.6"/><use href="#G" x="-4.1" y="-0.6"/><use href="#G" x="9.6" y="10.4"/><use href="#G" x="-14.1" y="-15.0"/><use href="#G" x="-5.0" y="18.5"/><use href="#L" x="-16.0" y="-1.1"/><use href="#L" x="-1.3" y="-9.3"/><use href="#L" x="11.5" y="-3.5"/><use href="#L" x="-3.2" y="4.6"/><use href="#G" x="-0.4" y="-4.1"/><use href="#G" x="-15.0" y="4.1"/><use href="#G" x="14.3" y="-12.2"/><use href="#G" x="10.6" y="15.6"/><use href="#G" x="12.4" y="1.7"/><use href="#G" x="1.5" y="-18.0"/><use href="#G" x="-2.2" y="9.8"/><use href="#G" x="-13.1" y="-9.8"/><use href="#G" x="2.5" y="-12.8"/><use href="#G" x="15.3" y="-7.1"/><use href="#L" x="-12.2" y="-4.7"/><use href="#G" x="0.6" y="1.1"/><use href="#G" x="-14.0" y="9.2"/><use href="#L" x="13.4" y="6.8"/><use href="#G" x="-1.2" y="15.0"/><use href="#G" x="1.6" y="6.3"/><use href="#G" x="3.4" y="-7.6"/><use href="#L" x="-11.2" y="0.5"/><use href="#L" x="4.4" y="-2.4"/><use href="#G" x="2.5" y="11.5"/><use href="#G" x="-8.4" y="-8.2"/><use href="#G" x="-10.3" y="5.7"/><use href="#G" x="-7.4" y="-3.0"/><use href="#G" x="5.4" y="2.7"/></g><g transform="translate(369.7,258.2)"><circle r="64.3" fill="rgb(128,114,22)"/><use href="#G" x="-63.9" y="-2.8"/><use href="#G" x="-43.9" y="47.7"/><use href="#G" x="-56.4" y="-31.2"/><use href="#G" x="-55.3" y="34.4"/><use href="#G" x="-60.0" y="-22.8"/><use href="#G" x="-9.1" y="64.4"/><use href="#G" x="51.3" y="39.0"/><use href="#G" x="-63.0" y="12.6"/><use href="#G" x="-63.4" y="-9.2"/><use href="#G" x="-47.3" y="44.5"/><use href="#G" x="-48.7" y="-42.9"/><use href="#G" x="0.3" y="-64.9"/><use href="#G" x="13.9" y="62.8"/><use href="#G" x="25.2" y="59.4"/><use href="#G" x="58.9" y="27.3"/><use href="#G" x="-62.7" y="17.8"/><use href="#G" x="-29.8" y="-58.0"/><use href="#G" x="-7.1" y="-64.8"/><use href="#G" x="62.1" y="-19.7"/><use href="#G" x="-19.9" y="61.4"/><use href="#G" x="31.3" y="-56.5"/><use href="#G" x="39.0" y="-51.4"/><use href="#G" x="62.4" y="-14.5"/><use href="#G" x="58.4" y="-28.0"/><use href="#G" x="-62.8" y="-15.7"/><use href="#G" x="-55.5" y="-32.5"/><use href="#G" x="52.1" y="37.7"/><use href="#G" x="-47.9" y="-44.2"/><use href="#G" x="-15.7" y="63.3"/><use href="#G" x="-32.9" y="-56.0"/><use href="#G" x="3.4" y="64.9"/><use href="#G" x="26.1" y="58.1"/><use href="#G" x="35.6" y="-54.6"/><use href="#G" x="59.8" y="26.0"/><use href="#G" x="-57.8" y="29.9"/><use href="#G" x="-61.9" y="16.5"/><use href="#G" x="-43.9" y="-47.5"/><use href="#G" x="-17.6" y="-62.7"/><use href="#G" x="-4.0" y="65.0"/><use href="#G" x="51.3" y="-39.4"/><use href="#G" x="-40.0" y="-50.8"/><use href="#G" x="5.4" y="-64.4"/><use href="#G" x="-62.0" y="-17.0"/><use href="#G" x="-34.2" y="55.2"/><use href="#G" x="-54.7" y="-33.8"/><use href="#G" x="-36.0" y="-54.0"/><use href="#G" x="11.6" y="63.4"/><use href="#G" x="-2.0" y="-64.2"/><use href="#G" x="23.0" y="60.0"/><use href="#G" x="17.1" y="-62.6"/><use href="#G" x="53.0" y="36.4"/><use href="#G" x="63.6" y="-10.7"/><use href="#G" x="47.9" y="-42.6"/><use href="#G" x="64.0" y="11.1"/><use href="#G" x="59.6" y="-24.1"/><use href="#G" x="-53.3" y="36.9"/><use href="#G" x="-9.3" y="-64.1"/><use href="#G" x="55.8" y="-32.4"/><use href="#G" x="-65.1" y="1.7"/><use href="#G" x="-29.9" y="57.1"/><use href="#G" x="-43.1" y="-48.8"/><use href="#G" x="21.4" y="-60.8"/><use href="#G" x="-64.8" y="6.9"/><use href="#G" x="-39.1" y="-52.1"/><use href="#G" x="-10.6" y="63.8"/><use href="#G" x="19.8" y="62.0"/><use href="#G" x="49.9" y="38.4"/><use href="#G" x="64.5" y="4.7"/><use href="#G" x="-53.8" y="-35.1"/><use href="#G" x="-61.2" y="-18.3"/><use href="#G" x="-25.6" y="58.9"/><use href="#G" x="12.5" y="62.1"/><use href="#G" x="23.8" y="58.7"/><use href="#G" x="25.6" y="-58.9"/><use href="#G" x="41.0" y="-48.9"/><use href="#G" x="61.2" y="18.3"/><use href="#G" x="53.8" y="35.1"/><use href="#G" x="57.5" y="26.7"/><use href="#G" x="-64.5" y="-4.7"/><use href="#G" x="-19.8" y="-62.0"/><use href="#G" x="10.6" y="-63.8"/><use href="#G" x="39.1" y="52.1"/><use href="#G" x="60.7" y="-20.3"/><use href="#G" x="64.8" y="-6.9"/><use href="#G" x="-64.2" y="0.4"/><use href="#G" x="-21.4" y="60.8"/><use href="#G" x="43.1" y="48.8"/><use href="#G" x="37.6" y="-52.1"/><use href="#G" x="29.9" y="-57.1"/><use href="#G" x="65.1" y="-1.7"/><use href="#G" x="-63.9" y="5.6"/><use href="#G" x="-55.8" y="32.4"/><use href="#G" x="-9.7" y="62.5"/><use href="#G" x="9.3" y="64.1"/><use href="#G" x="20.7" y="60.7"/><use href="#G" x="50.7" y="37.1"/><use href="#G" x="53.3" y="-36.9"/><use href="#G" x="-59.6" y="24.1"/><use href="#G" x="-47.9" y="42.6"/><use href="#G" x="-63.6" y="10.7"/><use href="#G" x="-64.0" y="-11.1"/><use href="#G" x="-53.0" y="-36.4"/><use href="#G" x="-60.3" y="-19.6"/><use href="#G" x="-17.1" y="62.6"/><use href="#G" x="-11.6" y="-63.4"/><use href="#G" x="-23.0" y="-60.0"/><use href="#G" x="2.0" y="64.2"/><use href="#G" x="24.7" y="57.4"/><use href="#G" x="13.3" y="60.8"/><use href="#G" x="36.0" y="54.0"/><use href="#G" x="34.2" y="-55.2"/><use href="#G" x="54.7" y="33.8"/><use href="#G" x="58.3" y="25.4"/><use href="#G" x="62.0" y="17.0"/><use href="#G" x="-63.7" y="-6.0"/><use href="#G" x="-5.4" y="64.4"/><use href="#G" x="40.0" y="50.8"/><use href="#G" x="49.9" y="-40.1"/><use href="#G" x="-63.4" y="-0.9"/><use href="#G" x="-51.3" y="39.4"/><use href="#G" x="-20.5" y="59.5"/><use href="#G" x="17.6" y="62.7"/><use href="#G" x="4.0" y="-65.0"/><use href="#G" x="43.9" y="47.5"/><use href="#G" x="57.8" y="-29.9"/><use href="#G" x="-55.0" y="31.1"/><use href="#G" x="-63.1" y="4.3"/><use href="#G" x="-35.6" y="54.6"/><use href="#G" x="-59.8" y="-26.0"/><use href="#G" x="21.5" y="59.4"/><use href="#G" x="10.2" y="62.8"/><use href="#G" x="-3.4" y="-64.9"/><use href="#G" x="-8.9" y="61.2"/><use href="#G" x="32.9" y="56.0"/><use href="#G" x="15.7" y="-63.3"/><use href="#G" x="47.9" y="44.2"/><use href="#G" x="51.6" y="35.8"/><use href="#G" x="62.5" y="10.5"/><use href="#G" x="-58.7" y="22.8"/><use href="#G" x="-62.8" y="9.4"/><use href="#G" x="-52.1" y="-37.7"/><use href="#G" x="-55.8" y="-29.3"/><use href="#G" x="-63.1" y="-12.4"/><use href="#G" x="-59.5" y="-20.9"/><use href="#G" x="-47.0" y="41.3"/><use href="#G" x="-16.2" y="61.3"/><use href="#G" x="2.8" y="62.9"/><use href="#G" x="14.1" y="59.5"/><use href="#G" x="25.5" y="56.1"/><use href="#G" x="36.9" y="52.7"/><use href="#G" x="55.5" y="32.5"/><use href="#G" x="59.2" y="24.1"/><use href="#G" x="62.8" y="15.7"/><use href="#G" x="-58.4" y="28.0"/><use href="#G" x="-62.4" y="14.5"/><use href="#G" x="-62.8" y="-7.3"/><use href="#G" x="-31.3" y="56.5"/><use href="#G" x="-39.0" y="51.4"/><use href="#G" x="-4.6" y="63.1"/><use href="#G" x="40.8" y="49.5"/><use href="#G" x="19.9" y="-61.4"/><use href="#G" x="-62.1" y="19.7"/><use href="#G" x="-62.5" y="-2.2"/><use href="#G" x="-50.4" y="38.1"/><use href="#G" x="-44.2" y="-44.3"/><use href="#G" x="-12.0" y="63.2"/><use href="#G" x="-19.7" y="58.2"/><use href="#G" x="7.1" y="64.8"/><use href="#G" x="44.8" y="46.2"/><use href="#G" x="18.4" y="61.4"/><use href="#G" x="29.8" y="58.0"/><use href="#G" x="48.4" y="37.8"/><use href="#G" x="63.1" y="4.1"/><use href="#G" x="62.7" y="-17.8"/><use href="#G" x="-54.2" y="29.8"/><use href="#G" x="-42.4" y="48.3"/><use href="#G" x="-62.2" y="3.0"/><use href="#G" x="-58.9" y="-27.3"/><use href="#G" x="-25.2" y="-59.4"/><use href="#G" x="-8.0" y="59.9"/><use href="#G" x="-27.1" y="58.3"/><use href="#G" x="-34.7" y="53.3"/><use href="#G" x="-40.2" y="-47.5"/><use href="#G" x="-13.9" y="-62.8"/><use href="#G" x="-0.3" y="64.9"/><use href="#G" x="11.0" y="61.5"/><use href="#G" x="31.9" y="-54.5"/><use href="#G" x="48.7" y="42.9"/><use href="#G" x="22.4" y="58.1"/><use href="#G" x="33.7" y="54.7"/><use href="#G" x="47.3" y="-44.5"/><use href="#G" x="39.6" y="-49.5"/><use href="#G" x="52.4" y="34.5"/><use href="#G" x="24.2" y="-59.5"/><use href="#G" x="59.0" y="-26.1"/><use href="#G" x="59.7" y="17.6"/><use href="#G" x="56.1" y="26.1"/><use href="#G" x="63.0" y="-12.6"/><use href="#G" x="63.4" y="9.2"/><use href="#G" x="-57.9" y="21.5"/><use href="#G" x="-53.8" y="35.0"/><use href="#G" x="-55.0" y="-30.6"/><use href="#G" x="-61.9" y="8.1"/><use href="#G" x="-58.6" y="-22.2"/><use href="#G" x="-62.3" y="-13.7"/><use href="#G" x="-46.2" y="40.0"/><use href="#G" x="-15.4" y="60.0"/><use href="#G" x="-51.3" y="-39.0"/><use href="#G" x="-36.3" y="-50.8"/><use href="#G" x="3.6" y="61.6"/><use href="#G" x="15.0" y="58.2"/><use href="#G" x="9.1" y="-64.4"/><use href="#G" x="26.3" y="54.8"/><use href="#G" x="37.7" y="51.4"/><use href="#G" x="60.0" y="22.8"/><use href="#G" x="59.3" y="-20.9"/><use href="#G" x="56.4" y="31.2"/><use href="#G" x="55.3" y="-34.4"/><use href="#G" x="63.3" y="-7.5"/><use href="#G" x="-45.9" y="45.1"/><use href="#G" x="-38.2" y="50.1"/><use href="#G" x="-61.6" y="13.2"/><use href="#G" x="-62.0" y="-8.6"/><use href="#G" x="-57.6" y="26.7"/><use href="#G" x="-47.3" y="-42.3"/><use href="#G" x="-51.0" y="-33.9"/><use href="#G" x="-58.3" y="-17.0"/><use href="#G" x="-22.8" y="60.2"/><use href="#G" x="-30.5" y="55.2"/><use href="#G" x="-32.3" y="-54.1"/><use href="#G" x="-3.7" y="61.8"/><use href="#G" x="45.3" y="39.7"/><use href="#G" x="36.2" y="-52.7"/><use href="#G" x="1.7" y="-64.3"/><use href="#G" x="28.5" y="-57.7"/><use href="#G" x="41.7" y="48.2"/><use href="#G" x="30.3" y="51.6"/><use href="#G" x="63.6" y="-2.4"/><use href="#G" x="43.9" y="-47.7"/><use href="#G" x="55.6" y="-29.2"/><use href="#G" x="-61.7" y="-3.5"/><use href="#G" x="-61.3" y="18.4"/><use href="#G" x="-28.3" y="-57.4"/><use href="#G" x="-18.8" y="56.9"/><use href="#G" x="-49.6" y="36.8"/><use href="#G" x="-43.4" y="-45.6"/><use href="#G" x="-17.0" y="-60.8"/><use href="#G" x="-11.1" y="61.9"/><use href="#G" x="7.9" y="63.5"/><use href="#G" x="19.3" y="60.1"/><use href="#G" x="-5.6" y="-64.2"/><use href="#G" x="13.4" y="-62.6"/><use href="#G" x="30.6" y="56.7"/><use href="#G" x="49.3" y="36.5"/><use href="#G" x="34.3" y="48.3"/><use href="#G" x="45.6" y="44.9"/><use href="#G" x="53.0" y="28.0"/><use href="#G" x="51.8" y="-37.5"/><use href="#G" x="60.3" y="11.2"/><use href="#G" x="63.9" y="2.8"/><use href="#G" x="-41.6" y="47.0"/><use href="#G" x="-53.3" y="28.5"/><use href="#G" x="-61.4" y="1.7"/><use href="#G" x="-33.9" y="52.0"/><use href="#G" x="-26.2" y="57.0"/><use href="#G" x="-39.4" y="-48.8"/><use href="#G" x="0.5" y="63.6"/><use href="#G" x="11.9" y="60.2"/><use href="#G" x="23.2" y="56.8"/><use href="#G" x="-7.2" y="58.6"/><use href="#G" x="6.0" y="-62.5"/><use href="#G" x="34.6" y="53.4"/><use href="#G" x="38.2" y="45.0"/><use href="#G" x="52.2" y="-32.4"/><use href="#G" x="53.3" y="33.2"/><use href="#G" x="56.9" y="24.8"/><use href="#G" x="60.6" y="16.3"/><use href="#G" x="-57.0" y="20.2"/><use href="#G" x="-53.0" y="33.7"/><use href="#G" x="-45.3" y="38.7"/><use href="#G" x="-61.4" y="-15.0"/><use href="#G" x="-54.1" y="-31.9"/><use href="#G" x="-61.1" y="6.8"/><use href="#G" x="-57.8" y="-23.5"/><use href="#G" x="-35.4" y="-52.1"/><use href="#G" x="-24.1" y="-55.5"/><use href="#G" x="15.8" y="56.9"/><use href="#G" x="-14.5" y="58.7"/><use href="#G" x="4.5" y="60.3"/><use href="#G" x="27.2" y="53.5"/><use href="#G" x="-1.4" y="-62.3"/><use href="#G" x="38.5" y="50.1"/><use href="#G" x="17.7" y="-60.7"/><use href="#G" x="33.0" y="-50.7"/><use href="#G" x="25.4" y="-55.7"/><use href="#G" x="42.2" y="41.7"/><use href="#G" x="40.7" y="-45.7"/><use href="#G" x="48.4" y="-40.7"/><use href="#G" x="60.5" y="-0.4"/><use href="#G" x="-57.5" y="-18.3"/><use href="#G" x="-53.8" y="-26.7"/><use href="#G" x="-56.7" y="25.4"/><use href="#G" x="-29.6" y="53.9"/><use href="#G" x="-61.1" y="-9.9"/><use href="#G" x="-60.8" y="11.9"/><use href="#G" x="-45.0" y="43.8"/><use href="#G" x="-50.1" y="-35.2"/><use href="#G" x="-37.3" y="48.8"/><use href="#G" x="-2.9" y="60.5"/><use href="#G" x="-21.9" y="58.9"/><use href="#G" x="8.5" y="57.1"/><use href="#G" x="19.8" y="53.7"/><use href="#G" x="-20.1" y="-58.8"/><use href="#G" x="42.5" y="46.9"/><use href="#G" x="-8.8" y="-62.2"/><use href="#G" x="31.2" y="50.3"/><use href="#G" x="10.3" y="-60.6"/><use href="#G" x="46.2" y="38.4"/><use href="#G" x="49.8" y="30.0"/><use href="#G" x="60.8" y="4.8"/><use href="#G" x="48.7" y="-35.5"/><use href="#G" x="60.5" y="-17.1"/><use href="#G" x="-53.5" y="-21.6"/><use href="#G" x="-57.2" y="-13.2"/><use href="#G" x="-60.8" y="-4.8"/><use href="#G" x="-60.5" y="17.1"/><use href="#G" x="-49.8" y="-30.0"/><use href="#G" x="-48.7" y="35.5"/><use href="#G" x="-41.0" y="40.5"/><use href="#G" x="1.1" y="57.2"/><use href="#G" x="-10.3" y="60.6"/><use href="#G" x="-31.2" y="-50.3"/><use href="#G" x="-18.0" y="55.6"/><use href="#G" x="8.8" y="62.2"/><use href="#G" x="20.1" y="58.8"/><use href="#G" x="2.9" y="-60.5"/><use href="#G" x="35.1" y="47.0"/><use href="#G" x="37.3" y="-48.8"/><use href="#G" x="21.9" y="-58.9"/><use href="#G" x="45.0" y="-43.8"/><use href="#G" x="53.8" y="26.7"/><use href="#G" x="29.6" y="-53.9"/><use href="#G" x="57.5" y="18.3"/><use href="#G" x="50.1" y="35.2"/><use href="#G" x="56.7" y="-25.4"/><use href="#G" x="61.1" y="9.9"/><use href="#G" x="60.8" y="-11.9"/><use href="#G" x="-27.2" y="-53.5"/><use href="#G" x="-60.5" y="0.4"/><use href="#G" x="-40.7" y="45.7"/><use href="#G" x="-56.5" y="13.8"/><use href="#G" x="-52.5" y="27.2"/><use href="#G" x="-33.0" y="50.7"/><use href="#G" x="-42.2" y="-41.7"/><use href="#G" x="-25.4" y="55.7"/><use href="#G" x="-6.3" y="57.3"/><use href="#G" x="-15.8" y="-56.9"/><use href="#G" x="39.1" y="43.7"/><use href="#G" x="-4.5" y="-60.3"/><use href="#G" x="1.4" y="62.3"/><use href="#G" x="24.1" y="55.5"/><use href="#G" x="14.5" y="-58.7"/><use href="#G" x="45.3" y="-38.7"/><use href="#G" x="12.7" y="58.9"/><use href="#G" x="57.0" y="-20.2"/><use href="#G" x="57.8" y="23.5"/><use href="#G" x="61.1" y="-6.8"/><use href="#G" x="-60.2" y="5.5"/><use href="#G" x="-44.5" y="37.4"/><use href="#G" x="-52.2" y="32.4"/><use href="#G" x="-56.5" y="-2.9"/><use href="#G" x="-56.2" y="18.9"/><use href="#G" x="-38.2" y="-45.0"/><use href="#G" x="-36.8" y="42.4"/><use href="#G" x="-23.2" y="-56.8"/><use href="#G" x="-13.7" y="57.4"/><use href="#G" x="-21.4" y="52.4"/><use href="#G" x="43.1" y="40.4"/><use href="#G" x="-11.9" y="-60.2"/><use href="#G" x="16.7" y="55.6"/><use href="#G" x="5.3" y="59.0"/><use href="#G" x="28.0" y="52.2"/><use href="#G" x="7.2" y="-58.6"/><use href="#G" x="61.4" y="-1.7"/><use href="#G" x="46.7" y="32.0"/><use href="#G" x="53.3" y="-28.5"/><use href="#G" x="57.3" y="-15.1"/><use href="#G" x="57.7" y="6.7"/><use href="#G" x="-53.0" y="-28.0"/><use href="#G" x="-56.6" y="-19.6"/><use href="#G" x="-59.9" y="10.6"/><use href="#G" x="-60.3" y="-11.2"/><use href="#G" x="-44.2" y="42.5"/><use href="#G" x="-48.2" y="29.1"/><use href="#G" x="-49.3" y="-36.5"/><use href="#G" x="-36.5" y="47.5"/><use href="#G" x="-55.9" y="24.1"/><use href="#G" x="-22.9" y="-51.7"/><use href="#G" x="-21.1" y="57.6"/><use href="#G" x="-28.8" y="52.6"/><use href="#G" x="-34.3" y="-48.3"/><use href="#G" x="-2.0" y="59.2"/><use href="#G" x="-0.2" y="-58.5"/><use href="#G" x="18.8" y="-56.9"/><use href="#G" x="9.3" y="55.8"/><use href="#G" x="41.9" y="-41.8"/><use href="#G" x="20.7" y="52.4"/><use href="#G" x="47.0" y="37.1"/><use href="#G" x="34.2" y="-46.9"/><use href="#G" x="26.5" y="-51.9"/><use href="#G" x="32.0" y="49.0"/><use href="#G" x="54.3" y="20.3"/><use href="#G" x="50.7" y="28.7"/><use href="#G" x="57.6" y="-10.0"/><use href="#G" x="58.0" y="11.9"/><use href="#G" x="53.6" y="-23.4"/><use href="#G" x="-47.9" y="34.2"/><use href="#G" x="-56.3" y="-14.5"/><use href="#G" x="-60.0" y="-6.1"/><use href="#G" x="-40.2" y="39.2"/><use href="#G" x="-52.6" y="-22.9"/><use href="#G" x="-55.9" y="7.4"/><use href="#G" x="-51.9" y="20.8"/><use href="#G" x="-49.0" y="-31.3"/><use href="#G" x="-30.3" y="-51.6"/><use href="#G" x="-45.3" y="-39.7"/><use href="#G" x="-17.1" y="54.3"/><use href="#G" x="-19.0" y="-55.0"/><use href="#G" x="-9.4" y="59.3"/><use href="#G" x="1.9" y="55.9"/><use href="#G" x="-7.6" y="-58.4"/><use href="#G" x="11.4" y="-56.8"/><use href="#G" x="49.9" y="-31.7"/><use href="#G" x="57.9" y="-4.8"/><use href="#G" x="58.3" y="17.0"/><use href="#G" x="36.0" y="45.7"/><use href="#G" x="54.6" y="25.4"/><use href="#G" x="-59.7" y="-0.9"/><use href="#G" x="-51.6" y="25.9"/><use href="#G" x="-39.9" y="44.4"/><use href="#G" x="-24.5" y="54.4"/><use href="#G" x="-45.0" y="-34.6"/><use href="#G" x="-55.6" y="12.5"/><use href="#G" x="-56.0" y="-9.3"/><use href="#G" x="-41.4" y="-43.0"/><use href="#G" x="-32.2" y="49.4"/><use href="#G" x="13.6" y="57.6"/><use href="#G" x="38.5" y="-45.0"/><use href="#G" x="4.0" y="-56.6"/><use href="#G" x="-5.5" y="56.0"/><use href="#G" x="-15.0" y="-58.2"/><use href="#G" x="24.9" y="54.2"/><use href="#G" x="23.1" y="-55.0"/><use href="#G" x="50.2" y="-26.6"/><use href="#G" x="30.8" y="-50.0"/><use href="#G" x="39.9" y="42.4"/><use href="#G" x="58.2" y="0.3"/><use href="#G" x="-59.4" y="4.2"/><use href="#G" x="-55.7" y="-4.2"/><use href="#G" x="-35.9" y="41.1"/><use href="#G" x="-43.6" y="36.1"/><use href="#G" x="-41.1" y="-37.9"/><use href="#G" x="-26.0" y="-49.7"/><use href="#G" x="-20.5" y="51.1"/><use href="#G" x="-55.3" y="17.6"/><use href="#G" x="-37.4" y="-46.3"/><use href="#G" x="6.2" y="57.7"/><use href="#G" x="-3.3" y="-56.5"/><use href="#G" x="-12.9" y="56.1"/><use href="#G" x="17.5" y="54.3"/><use href="#G" x="15.7" y="-54.9"/><use href="#G" x="28.9" y="50.9"/><use href="#G" x="46.5" y="-34.9"/><use href="#G" x="47.6" y="30.7"/><use href="#G" x="38.8" y="-39.9"/><use href="#G" x="54.9" y="13.9"/><use href="#G" x="58.5" y="5.4"/><use href="#G" x="51.2" y="22.3"/><use href="#G" x="43.9" y="39.1"/><use href="#G" x="-55.4" y="0.9"/><use href="#G" x="-47.3" y="27.8"/><use href="#G" x="-35.6" y="46.2"/><use href="#G" x="-27.9" y="51.3"/><use href="#G" x="-1.2" y="57.9"/><use href="#G" x="-22.1" y="-53.0"/><use href="#G" x="-10.7" y="-56.4"/><use href="#G" x="8.3" y="-54.8"/><use href="#G" x="10.2" y="54.5"/><use href="#G" x="51.5" y="27.4"/><use href="#G" x="32.9" y="47.7"/><use href="#G" x="55.2" y="19.0"/><use href="#G" x="46.8" y="-29.7"/><use href="#G" x="-33.1" y="-44.4"/><use href="#G" x="-48.1" y="-32.6"/><use href="#G" x="-47.0" y="32.9"/><use href="#G" x="-39.3" y="37.9"/><use href="#G" x="-55.1" y="6.1"/><use href="#G" x="-51.8" y="-24.2"/><use href="#G" x="-31.7" y="43.0"/><use href="#G" x="-24.0" y="48.0"/><use href="#G" x="-55.5" y="-15.8"/><use href="#G" x="-51.1" y="19.5"/><use href="#G" x="-16.3" y="53.0"/><use href="#G" x="27.7" y="-48.0"/><use href="#G" x="2.8" y="54.6"/><use href="#G" x="55.1" y="2.3"/><use href="#G" x="35.3" y="-43.0"/><use href="#G" x="43.0" y="-38.0"/><use href="#G" x="0.9" y="-54.7"/><use href="#G" x="36.8" y="44.4"/><use href="#G" x="20.0" y="-53.0"/><use href="#G" x="54.8" y="-19.6"/><use href="#G" x="-51.5" y="-19.1"/><use href="#G" x="-31.4" y="48.1"/><use href="#G" x="-54.8" y="11.2"/><use href="#G" x="-55.2" y="-10.6"/><use href="#G" x="-50.8" y="24.6"/><use href="#G" x="-44.2" y="-35.9"/><use href="#G" x="-43.1" y="29.7"/><use href="#G" x="-29.2" y="-47.7"/><use href="#G" x="-47.8" y="-27.5"/><use href="#G" x="-6.5" y="-54.5"/><use href="#G" x="-17.8" y="-51.1"/><use href="#G" x="-4.6" y="54.7"/><use href="#G" x="43.3" y="-32.9"/><use href="#G" x="55.1" y="-14.4"/><use href="#G" x="12.6" y="-52.9"/><use href="#G" x="55.4" y="7.4"/><use href="#G" x="51.8" y="15.8"/><use href="#G" x="44.4" y="32.7"/><use href="#G" x="-47.5" y="-22.3"/><use href="#G" x="-42.8" y="34.8"/><use href="#G" x="-27.4" y="44.8"/><use href="#G" x="-54.9" y="-5.5"/><use href="#G" x="-40.2" y="-39.2"/><use href="#G" x="-43.9" y="-30.8"/><use href="#G" x="-35.1" y="39.8"/><use href="#G" x="-12.0" y="54.8"/><use href="#G" x="-13.8" y="-54.4"/><use href="#G" x="5.2" y="-52.8"/><use href="#G" x="-19.7" y="49.8"/><use href="#G" x="18.4" y="53.0"/><use href="#G" x="55.4" y="-9.3"/><use href="#G" x="24.2" y="-51.2"/><use href="#G" x="31.9" y="-46.2"/><use href="#G" x="51.3" y="-22.7"/><use href="#G" x="52.1" y="21.0"/><use href="#G" x="48.4" y="29.4"/><use href="#G" x="-50.5" y="13.1"/><use href="#G" x="-38.8" y="31.5"/><use href="#G" x="-46.5" y="26.5"/><use href="#G" x="-54.6" y="-0.4"/><use href="#G" x="-36.2" y="-42.5"/><use href="#G" x="-50.9" y="-8.8"/><use href="#G" x="-8.0" y="51.6"/><use href="#G" x="-2.2" y="-52.7"/><use href="#G" x="-24.9" y="-45.9"/><use href="#G" x="11.0" y="53.2"/><use href="#G" x="-39.9" y="-34.0"/><use href="#G" x="55.7" y="-4.2"/><use href="#G" x="37.4" y="37.9"/><use href="#G" x="32.2" y="-41.0"/><use href="#G" x="52.0" y="4.3"/><use href="#G" x="22.4" y="49.8"/><use href="#G" x="16.9" y="-51.1"/><use href="#G" x="24.5" y="-46.1"/><use href="#G" x="51.6" y="-17.6"/><use href="#G" x="39.9" y="-36.0"/><use href="#G" x="-35.9" y="-37.3"/><use href="#G" x="-50.2" y="18.2"/><use href="#G" x="-30.8" y="41.7"/><use href="#G" x="-54.2" y="4.8"/><use href="#G" x="-20.9" y="-49.1"/><use href="#G" x="-9.6" y="-52.5"/><use href="#G" x="-38.5" y="36.6"/><use href="#G" x="15.0" y="49.9"/><use href="#G" x="-23.1" y="46.7"/><use href="#G" x="3.6" y="53.3"/><use href="#G" x="-15.4" y="51.7"/><use href="#G" x="26.3" y="46.5"/><use href="#G" x="9.5" y="-50.9"/><use href="#G" x="48.7" y="17.8"/><use href="#G" x="52.3" y="9.4"/><use href="#G" x="40.2" y="-30.9"/><use href="#G" x="41.3" y="34.7"/><use href="#G" x="45.0" y="26.2"/><use href="#G" x="51.9" y="-12.4"/><use href="#G" x="47.9" y="-25.9"/><use href="#G" x="-32.0" y="-40.6"/><use href="#G" x="-42.2" y="28.4"/><use href="#G" x="-34.5" y="33.4"/><use href="#G" x="-50.3" y="1.5"/><use href="#G" x="-11.5" y="48.4"/><use href="#G" x="-3.8" y="53.4"/><use href="#G" x="36.5" y="-39.2"/><use href="#G" x="30.3" y="43.2"/><use href="#G" x="28.8" y="-44.2"/><use href="#G" x="7.6" y="50.0"/><use href="#G" x="48.2" y="-20.7"/><use href="#G" x="2.1" y="-50.8"/><use href="#G" x="52.2" y="-7.3"/><use href="#G" x="21.1" y="-49.2"/><use href="#G" x="49.0" y="23.0"/><use href="#G" x="-34.2" y="38.5"/><use href="#G" x="-45.9" y="20.1"/><use href="#G" x="-50.3" y="-15.2"/><use href="#G" x="-28.0" y="-43.9"/><use href="#G" x="-46.7" y="-23.6"/><use href="#G" x="-50.0" y="6.6"/><use href="#G" x="-18.9" y="48.5"/><use href="#G" x="29.1" y="-39.1"/><use href="#G" x="-26.5" y="43.5"/><use href="#G" x="0.2" y="50.1"/><use href="#G" x="36.8" y="-34.0"/><use href="#G" x="37.9" y="31.5"/><use href="#G" x="21.4" y="-44.1"/><use href="#G" x="13.7" y="-49.1"/><use href="#G" x="34.2" y="39.9"/><use href="#G" x="52.6" y="-2.2"/><use href="#G" x="-16.7" y="-47.3"/><use href="#G" x="-5.3" y="-50.7"/><use href="#G" x="44.5" y="-29.0"/><use href="#G" x="48.5" y="-15.6"/><use href="#G" x="48.9" y="6.2"/><use href="#G" x="-45.6" y="25.2"/><use href="#G" x="-46.4" y="-18.5"/><use href="#G" x="-7.2" y="50.3"/><use href="#G" x="-27.7" y="-38.7"/><use href="#G" x="-50.0" y="-10.1"/><use href="#G" x="-49.7" y="11.8"/><use href="#G" x="-42.7" y="-26.9"/><use href="#G" x="-38.0" y="30.2"/><use href="#G" x="-30.3" y="35.2"/><use href="#G" x="6.3" y="-49.0"/><use href="#G" x="-12.7" y="-50.6"/><use href="#G" x="-22.6" y="40.2"/><use href="#G" x="-14.9" y="45.2"/><use href="#G" x="37.1" y="-28.9"/><use href="#G" x="44.8" y="-23.9"/><use href="#G" x="41.9" y="28.2"/><use href="#G" x="45.5" y="19.8"/><use href="#G" x="48.8" y="-10.5"/><use href="#G" x="49.2" y="11.4"/><use href="#G" x="-41.7" y="21.9"/><use href="#G" x="-46.1" y="-13.4"/><use href="#G" x="-49.7" y="-4.9"/><use href="#G" x="-45.7" y="8.5"/><use href="#G" x="-38.8" y="-30.2"/><use href="#G" x="-23.7" y="-42.0"/><use href="#G" x="-42.4" y="-21.8"/><use href="#G" x="-3.2" y="47.0"/><use href="#G" x="-12.4" y="-45.4"/><use href="#G" x="-22.3" y="45.4"/><use href="#G" x="-30.0" y="40.4"/><use href="#G" x="30.8" y="36.8"/><use href="#G" x="-1.0" y="-48.8"/><use href="#G" x="18.0" y="-47.2"/><use href="#G" x="49.1" y="-5.3"/><use href="#G" x="45.1" y="-18.8"/><use href="#G" x="25.7" y="-42.2"/><use href="#G" x="33.4" y="-37.2"/><use href="#G" x="15.8" y="48.6"/><use href="#G" x="-38.5" y="-25.1"/><use href="#G" x="-49.4" y="0.2"/><use href="#G" x="-45.4" y="13.6"/><use href="#G" x="-34.8" y="-33.5"/><use href="#G" x="-33.7" y="32.1"/><use href="#G" x="-45.8" y="-8.2"/><use href="#G" x="-10.6" y="47.1"/><use href="#G" x="-8.4" y="-48.7"/><use href="#G" x="-26.0" y="37.1"/><use href="#G" x="-18.3" y="42.1"/><use href="#G" x="-19.8" y="-45.3"/><use href="#G" x="-41.4" y="27.1"/><use href="#G" x="34.8" y="33.5"/><use href="#G" x="18.3" y="-42.1"/><use href="#G" x="26.0" y="-37.1"/><use href="#G" x="8.4" y="48.7"/><use href="#G" x="10.6" y="-47.1"/><use href="#G" x="19.8" y="45.3"/><use href="#G" x="41.4" y="-27.1"/><use href="#G" x="45.8" y="8.2"/><use href="#G" x="38.5" y="25.1"/><use href="#G" x="33.7" y="-32.1"/><use href="#G" x="49.4" y="-0.2"/><use href="#G" x="45.4" y="-13.6"/><use href="#G" x="42.1" y="16.6"/><use href="#G" x="-45.1" y="18.8"/><use href="#G" x="-45.5" y="-3.1"/><use href="#G" x="-34.5" y="-28.3"/><use href="#G" x="-41.4" y="10.3"/><use href="#G" x="-41.8" y="-11.5"/><use href="#G" x="-37.4" y="23.8"/><use href="#G" x="-30.8" y="-36.8"/><use href="#G" x="-8.1" y="-43.6"/><use href="#G" x="-19.5" y="-40.2"/><use href="#G" x="-6.7" y="43.8"/><use href="#G" x="34.0" y="-26.9"/><use href="#G" x="12.4" y="45.4"/><use href="#G" x="45.7" y="-8.5"/><use href="#G" x="10.9" y="-42.0"/><use href="#G" x="1.0" y="48.8"/><use href="#G" x="46.1" y="13.4"/><use href="#G" x="41.7" y="-21.9"/><use href="#G" x="42.4" y="21.8"/><use href="#G" x="3.2" y="-47.0"/><use href="#G" x="23.7" y="42.0"/><use href="#G" x="-37.1" y="28.9"/><use href="#G" x="-30.5" y="-31.6"/><use href="#G" x="-45.2" y="2.0"/><use href="#G" x="-41.1" y="15.5"/><use href="#G" x="-41.5" y="-6.4"/><use href="#G" x="31.4" y="30.3"/><use href="#G" x="-14.0" y="43.9"/><use href="#G" x="-15.5" y="-43.5"/><use href="#G" x="-29.4" y="33.9"/><use href="#G" x="-21.7" y="38.9"/><use href="#G" x="30.3" y="-35.2"/><use href="#G" x="42.4" y="5.1"/><use href="#G" x="3.5" y="-41.8"/><use href="#G" x="14.9" y="-45.2"/><use href="#G" x="42.0" y="-16.8"/><use href="#G" x="22.6" y="-40.2"/><use href="#G" x="27.7" y="38.7"/><use href="#G" x="16.4" y="42.2"/><use href="#G" x="-4.2" y="-46.9"/><use href="#G" x="5.0" y="45.6"/><use href="#G" x="46.0" y="-3.3"/><use href="#G" x="-33.1" y="25.6"/><use href="#G" x="-37.2" y="12.2"/><use href="#G" x="-44.9" y="7.2"/><use href="#G" x="-26.6" y="-34.9"/><use href="#G" x="-40.8" y="20.6"/><use href="#G" x="-41.2" y="-1.2"/><use href="#G" x="-10.1" y="40.7"/><use href="#G" x="-25.5" y="30.6"/><use href="#G" x="-15.2" y="-38.3"/><use href="#G" x="-17.8" y="35.7"/><use href="#G" x="38.3" y="-25.1"/><use href="#G" x="39.0" y="18.6"/><use href="#G" x="35.3" y="27.0"/><use href="#G" x="9.0" y="42.3"/><use href="#G" x="46.3" y="1.8"/><use href="#G" x="22.9" y="-35.1"/><use href="#G" x="30.6" y="-30.1"/><use href="#G" x="-2.4" y="45.7"/><use href="#G" x="20.3" y="38.9"/><use href="#G" x="-3.9" y="-41.7"/><use href="#G" x="15.2" y="-40.1"/><use href="#G" x="7.5" y="-45.1"/><use href="#G" x="42.3" y="-11.6"/><use href="#G" x="42.7" y="10.2"/><use href="#G" x="-40.9" y="3.9"/><use href="#G" x="-22.6" y="-38.2"/><use href="#G" x="-32.8" y="30.8"/><use href="#G" x="-25.1" y="35.8"/><use href="#G" x="-17.5" y="40.8"/><use href="#G" x="-26.3" y="-29.8"/><use href="#G" x="-36.9" y="17.3"/><use href="#G" x="38.9" y="1.9"/><use href="#G" x="1.6" y="42.4"/><use href="#G" x="-11.2" y="-41.6"/><use href="#G" x="7.8" y="-40.0"/><use href="#G" x="30.9" y="-24.9"/><use href="#G" x="0.1" y="-45.0"/><use href="#G" x="15.5" y="-35.0"/><use href="#G" x="-41.3" y="-17.9"/><use href="#G" x="12.9" y="39.0"/><use href="#G" x="38.6" y="-19.9"/><use href="#G" x="23.2" y="-30.0"/><use href="#G" x="24.3" y="35.6"/><use href="#G" x="42.6" y="-6.5"/><use href="#G" x="-41.0" y="-12.8"/><use href="#G" x="-40.6" y="9.0"/><use href="#G" x="-32.9" y="14.1"/><use href="#G" x="-37.3" y="-21.2"/><use href="#G" x="-36.6" y="22.5"/><use href="#G" x="-36.9" y="0.6"/><use href="#G" x="27.1" y="-33.2"/><use href="#G" x="8.1" y="-34.8"/><use href="#G" x="-5.8" y="42.5"/><use href="#G" x="0.4" y="-39.9"/><use href="#G" x="-28.9" y="27.5"/><use href="#G" x="-21.2" y="32.5"/><use href="#G" x="-10.9" y="-36.5"/><use href="#G" x="38.9" y="-14.8"/><use href="#G" x="-13.5" y="37.5"/><use href="#G" x="31.9" y="23.9"/><use href="#G" x="-22.3" y="-33.1"/><use href="#G" x="19.5" y="-38.3"/><use href="#G" x="39.2" y="7.1"/><use href="#G" x="5.5" y="39.1"/><use href="#G" x="16.9" y="35.7"/><use href="#G" x="42.9" y="-1.4"/><use href="#G" x="31.2" y="-19.8"/><use href="#G" x="35.6" y="15.5"/><use href="#G" x="28.3" y="32.3"/><use href="#G" x="-32.6" y="19.2"/><use href="#G" x="-36.6" y="5.8"/><use href="#G" x="-24.9" y="24.2"/><use href="#G" x="31.5" y="-14.7"/><use href="#G" x="-17.2" y="29.2"/><use href="#G" x="-9.5" y="34.2"/><use href="#G" x="-18.3" y="-36.3"/><use href="#G" x="-7.0" y="-39.7"/><use href="#G" x="-33.3" y="-24.5"/><use href="#G" x="-22.0" y="-27.9"/><use href="#G" x="19.8" y="-33.1"/><use href="#G" x="0.7" y="-34.7"/><use href="#G" x="-40.7" y="-7.7"/><use href="#G" x="-37.0" y="-16.1"/><use href="#G" x="20.9" y="32.4"/><use href="#G" x="9.5" y="35.8"/><use href="#G" x="35.1" y="-23.1"/><use href="#G" x="35.5" y="-1.2"/><use href="#G" x="39.5" y="12.2"/><use href="#G" x="35.9" y="20.6"/><use href="#G" x="12.1" y="-38.1"/><use href="#G" x="-1.8" y="39.2"/><use href="#G" x="27.5" y="-28.1"/><use href="#G" x="39.2" y="-9.7"/><use href="#G" x="-33.0" y="-19.4"/><use href="#G" x="-32.7" y="2.5"/><use href="#G" x="-16.9" y="34.4"/><use href="#G" x="-24.6" y="29.3"/><use href="#G" x="-32.3" y="24.3"/><use href="#G" x="-36.7" y="-11.0"/><use href="#G" x="-40.4" y="-2.5"/><use href="#G" x="-36.3" y="10.9"/><use href="#G" x="12.4" y="-33.0"/><use href="#G" x="-6.7" y="-34.6"/><use href="#G" x="-29.4" y="-27.8"/><use href="#G" x="-28.6" y="15.9"/><use href="#G" x="2.1" y="36.0"/><use href="#G" x="13.5" y="32.6"/><use href="#G" x="39.5" y="-4.5"/><use href="#G" x="-18.0" y="-31.2"/><use href="#G" x="28.5" y="20.7"/><use href="#G" x="20.1" y="-28.0"/><use href="#G" x="27.8" y="-23.0"/><use href="#G" x="32.2" y="12.3"/><use href="#G" x="-9.2" y="39.4"/><use href="#G" x="4.7" y="-38.0"/><use href="#G" x="31.8" y="-9.5"/><use href="#G" x="24.8" y="29.2"/><use href="#G" x="35.8" y="3.9"/><use href="#G" x="35.4" y="-18.0"/><use href="#G" x="-36.4" y="-5.8"/><use href="#G" x="-32.4" y="7.6"/><use href="#G" x="-32.7" y="-14.2"/><use href="#G" x="-17.7" y="-26.1"/><use href="#G" x="12.7" y="-27.9"/><use href="#G" x="20.4" y="-22.8"/><use href="#G" x="-6.4" y="-29.5"/><use href="#G" x="5.0" y="-32.9"/><use href="#G" x="-13.0" y="31.1"/><use href="#G" x="32.5" y="17.5"/><use href="#G" x="32.1" y="-4.4"/><use href="#G" x="-28.3" y="21.0"/><use href="#G" x="-5.3" y="36.1"/><use href="#G" x="-20.6" y="26.1"/><use href="#G" x="-29.1" y="-22.7"/><use href="#G" x="-14.1" y="-34.5"/><use href="#G" x="6.1" y="32.7"/><use href="#G" x="28.8" y="25.9"/><use href="#G" x="35.7" y="-12.8"/><use href="#G" x="-2.7" y="-37.9"/><use href="#G" x="28.1" y="-17.8"/><use href="#G" x="17.4" y="29.3"/><use href="#G" x="36.1" y="9.0"/><use href="#G" x="-36.1" y="-0.7"/><use href="#G" x="-32.1" y="12.8"/><use href="#G" x="-32.4" y="-9.1"/><use href="#G" x="-25.1" y="-25.9"/><use href="#G" x="-9.0" y="27.8"/><use href="#G" x="-2.4" y="-32.7"/><use href="#G" x="-24.4" y="17.8"/><use href="#G" x="-16.7" y="22.8"/><use href="#G" x="-28.4" y="4.3"/><use href="#G" x="-28.8" y="-17.5"/><use href="#G" x="28.7" y="9.2"/><use href="#G" x="21.4" y="26.0"/><use href="#G" x="-1.3" y="32.8"/><use href="#G" x="16.6" y="-31.1"/><use href="#G" x="-13.7" y="-29.3"/><use href="#G" x="25.1" y="17.6"/><use href="#G" x="5.3" y="-27.7"/><use href="#G" x="20.7" y="-17.7"/><use href="#G" x="28.4" y="-12.7"/><use href="#G" x="10.1" y="29.4"/><use href="#G" x="32.4" y="0.7"/><use href="#G" x="36.1" y="-7.7"/><use href="#G" x="24.3" y="-26.1"/><use href="#G" x="-32.1" y="-4.0"/><use href="#G" x="-16.4" y="27.9"/><use href="#G" x="-28.1" y="9.5"/><use href="#G" x="-24.1" y="22.9"/><use href="#G" x="-24.8" y="-20.8"/><use href="#G" x="-9.8" y="-32.6"/><use href="#G" x="-20.4" y="14.5"/><use href="#G" x="2.7" y="29.5"/><use href="#G" x="21.0" y="-12.6"/><use href="#G" x="24.6" y="-21.0"/><use href="#G" x="14.0" y="26.1"/><use href="#G" x="-8.7" y="32.9"/><use href="#G" x="-13.4" y="-24.2"/><use href="#G" x="29.0" y="14.3"/><use href="#G" x="-28.5" y="-12.4"/><use href="#G" x="32.7" y="5.9"/><use href="#G" x="-2.1" y="-27.6"/><use href="#G" x="9.3" y="-31.0"/><use href="#G" x="28.7" y="-7.6"/><use href="#G" x="25.4" y="22.7"/><use href="#G" x="25.0" y="0.9"/><use href="#G" x="16.9" y="-26.0"/><use href="#G" x="-24.1" y="6.2"/><use href="#G" x="-28.2" y="-7.2"/><use href="#G" x="-24.5" y="-15.7"/><use href="#G" x="-31.8" y="1.2"/><use href="#G" x="1.9" y="-30.9"/><use href="#G" x="-9.5" y="-27.5"/><use href="#G" x="21.6" y="14.4"/><use href="#G" x="-20.8" y="-24.1"/><use href="#G" x="-1.8" y="-22.5"/><use href="#G" x="-12.4" y="24.6"/><use href="#G" x="-20.1" y="19.6"/><use href="#G" x="17.3" y="-20.9"/><use href="#G" x="-27.8" y="14.6"/><use href="#G" x="-4.7" y="29.6"/><use href="#G" x="18.0" y="22.8"/><use href="#G" x="6.6" y="26.2"/><use href="#G" x="21.3" y="-7.4"/><use href="#G" x="29.0" y="-2.4"/><use href="#G" x="9.6" y="-25.9"/><use href="#G" x="25.3" y="6.0"/><use href="#G" x="-13.1" y="-19.1"/><use href="#G" x="24.9" y="-15.8"/><use href="#G" x="-12.8" y="-13.9"/><use href="#G" x="9.9" y="-20.7"/><use href="#G" x="14.3" y="14.5"/><use href="#G" x="-8.4" y="21.4"/><use href="#G" x="-9.2" y="-22.3"/><use href="#G" x="-16.1" y="16.3"/><use href="#G" x="-27.9" y="-2.1"/><use href="#G" x="-23.8" y="11.3"/><use href="#G" x="-24.2" y="-10.5"/><use href="#G" x="-20.2" y="2.9"/><use href="#G" x="21.6" y="-2.3"/><use href="#G" x="-1.5" y="-17.3"/><use href="#G" x="25.2" y="-10.7"/><use href="#G" x="-20.5" y="-18.9"/><use href="#G" x="17.9" y="6.1"/><use href="#G" x="2.2" y="-25.7"/><use href="#G" x="25.6" y="11.1"/><use href="#G" x="29.3" y="2.7"/><use href="#G" x="10.6" y="23.0"/><use href="#G" x="22.0" y="19.6"/><use href="#G" x="-0.8" y="26.4"/><use href="#G" x="17.6" y="-15.7"/><use href="#G" x="2.5" y="-20.6"/><use href="#G" x="-23.9" y="-5.4"/><use href="#G" x="-27.5" y="3.0"/><use href="#G" x="-16.2" y="-0.4"/><use href="#G" x="-20.2" y="-13.8"/><use href="#G" x="-16.6" y="-22.2"/><use href="#G" x="-4.5" y="18.1"/><use href="#G" x="-15.8" y="21.5"/><use href="#G" x="14.2" y="-2.2"/><use href="#G" x="-19.9" y="8.0"/><use href="#G" x="18.2" y="11.3"/><use href="#G" x="10.5" y="6.3"/><use href="#G" x="-5.2" y="-25.6"/><use href="#G" x="6.9" y="14.7"/><use href="#G" x="-8.1" y="26.5"/><use href="#G" x="-1.2" y="-12.2"/><use href="#G" x="21.9" y="2.8"/><use href="#G" x="17.9" y="-10.6"/><use href="#G" x="-8.9" y="-17.2"/><use href="#G" x="13.8" y="-24.0"/><use href="#G" x="14.6" y="19.7"/><use href="#G" x="3.2" y="23.1"/><use href="#G" x="-12.2" y="13.1"/><use href="#G" x="-12.5" y="-8.8"/><use href="#G" x="10.2" y="-15.6"/><use href="#G" x="25.5" y="-5.6"/><use href="#G" x="-4.9" y="-20.5"/><use href="#G" x="-23.6" y="-0.2"/><use href="#G" x="10.8" y="11.4"/><use href="#G" x="22.2" y="8.0"/><use href="#G" x="-8.2" y="9.8"/><use href="#G" x="-11.9" y="18.2"/><use href="#G" x="3.1" y="6.4"/><use href="#G" x="-19.6" y="13.2"/><use href="#G" x="-4.2" y="23.2"/><use href="#G" x="-15.9" y="4.8"/><use href="#G" x="-12.2" y="-3.7"/><use href="#G" x="-4.5" y="1.4"/><use href="#G" x="-8.6" y="-12.1"/><use href="#G" x="14.5" y="3.0"/><use href="#G" x="-16.3" y="-17.1"/><use href="#G" x="14.1" y="-18.9"/><use href="#G" x="-0.5" y="14.8"/><use href="#G" x="10.5" y="-10.5"/><use href="#G" x="-0.9" y="-7.1"/><use href="#G" x="2.8" y="-15.5"/><use href="#G" x="7.2" y="19.8"/><use href="#G" x="18.5" y="16.4"/><use href="#G" x="6.8" y="-2.0"/><use href="#G" x="-19.9" y="-8.7"/><use href="#G" x="6.4" y="-23.9"/><use href="#G" x="18.2" y="-5.4"/><use href="#G" x="3.1" y="-10.3"/><use href="#G" x="3.5" y="11.5"/><use href="#G" x="-4.2" y="6.5"/><use href="#G" x="14.8" y="8.1"/><use href="#G" x="-19.6" y="-3.5"/><use href="#G" x="-16.0" y="-11.9"/><use href="#G" x="-7.9" y="14.9"/><use href="#G" x="-15.6" y="9.9"/><use href="#G" x="-8.3" y="-6.9"/><use href="#G" x="14.4" y="-13.7"/><use href="#G" x="6.7" y="-18.8"/><use href="#G" x="-0.6" y="-1.9"/><use href="#G" x="-0.2" y="19.9"/><use href="#G" x="11.1" y="16.5"/><use href="#G" x="-4.6" y="-15.3"/><use href="#G" x="-11.9" y="1.5"/><use href="#G" x="7.1" y="3.1"/><use href="#G" x="10.8" y="-5.3"/><use href="#G" x="18.5" y="-0.3"/><use href="#G" x="-3.9" y="11.6"/><use href="#G" x="-11.6" y="6.6"/><use href="#G" x="7.4" y="8.2"/><use href="#G" x="-8.0" y="-1.8"/><use href="#G" x="-0.3" y="3.2"/><use href="#G" x="-4.3" y="-10.2"/><use href="#G" x="3.8" y="16.6"/><use href="#G" x="14.7" y="-8.6"/><use href="#G" x="3.4" y="-5.2"/><use href="#G" x="-15.7" y="-6.8"/><use href="#G" x="7.1" y="-13.6"/><use href="#G" x="11.1" y="-0.2"/><use href="#G" x="0.0" y="8.4"/><use href="#G" x="-7.7" y="3.3"/><use href="#G" x="-4.0" y="-5.1"/><use href="#G" x="7.4" y="-8.5"/><use href="#G" x="3.7" y="-0.1"/></g><rect x="481" y="9.5" width="172.8" height="315.6" fill="#fff"/><rect x="481" y="9.5" width="109.1" height="315.6" fill="#efeffb"/><g fill="none" stroke-width="0.85" stroke-linejoin="round"><path d="M481.0 316.2L482.8 316.1L484.5 316.1L486.3 316.1L488.0 316.1L489.8 316.1L491.5 316.1L493.3 316.1L495.1 316.1L496.8 316.1L498.6 316.1L500.3 316.1L502.1 316.1L503.8 316.1L505.6 316.1L507.4 316.1L509.1 316.1L510.9 316.1L512.6 316.1L514.4 316.1L516.1 316.1L517.9 316.1L519.7 316.1L521.4 316.0L523.2 316.0L524.9 316.0L526.7 316.0L528.4 316.0L530.2 316.0L532.0 316.0L533.7 316.0L535.5 315.9L537.2 315.9L539.0 315.9L540.7 315.9L542.5 315.8L544.3 315.8L546.0 315.8L547.8 315.7L549.5 315.7L551.3 315.6L553.0 315.5L554.8 315.4L556.6 315.4L558.3 315.3L560.1 315.1L561.8 315.0L563.6 314.9L565.3 314.7L567.1 314.6L568.9 314.4L570.6 314.2L572.4 313.9L574.1 313.6L575.9 313.2L577.7 312.7L579.4 312.2L581.2 311.5L582.9 310.6L584.7 309.4L584.7 309.4L584.8 309.3L584.9 309.2L585.1 309.1L585.2 309.0L585.3 308.9L585.5 308.8L585.6 308.7L585.7 308.6L585.9 308.5L586.0 308.3L586.1 308.2L586.2 308.1L586.4 308.0L586.5 307.8L586.6 307.7L586.8 307.6L586.9 307.4L587.0 307.3L587.2 307.2L587.3 307.0L587.4 306.9L587.5 306.7L587.7 306.5L587.8 306.4L587.9 306.2L588.1 306.1L588.2 305.9L588.3 305.7L588.5 305.5L588.6 305.3L588.7 305.2L588.8 305.0L589.0 304.8L589.1 304.6L589.2 304.3L589.4 304.1L589.5 303.8L589.6 303.6L589.8 303.3L589.9 303.0L590.0 302.8L590.1 302.5L590.3 302.2L590.4 301.9L590.5 301.6L590.7 301.3L590.8 301.0L590.9 300.6L591.1 300.3L591.2 299.9L591.3 299.6L591.4 299.2L591.6 298.8L591.7 298.4L591.8 298.0L592.0 297.6L592.1 297.1L592.2 296.7L592.4 296.2L592.5 295.8L592.6 295.3L592.7 294.7L592.9 294.2L593.0 293.6L593.1 293.0L593.3 292.4L593.4 291.8L593.5 291.2L593.7 290.5L593.8 289.8L593.9 289.1L594.0 288.3L594.2 287.6L594.3 286.8L594.4 285.9L594.6 285.1L594.7 284.2L594.8 283.3L595.0 282.3L595.1 281.3L595.2 280.3L595.3 279.2L595.5 278.1L595.6 277.0L595.7 275.8L595.9 274.5L596.0 273.2L596.1 271.9L596.3 270.5L596.4 269.0L596.5 267.5L596.6 266.1L596.8 264.6L596.9 263.1L597.0 261.6L597.2 259.9L597.3 258.3L597.4 256.5L597.6 254.6L597.7 252.7L597.8 250.7L597.9 248.6L598.1 246.4L598.2 244.2L598.3 241.8L598.5 239.3L598.6 236.7L598.7 234.0L598.9 231.2L599.0 228.2L599.1 225.1L599.2 221.9L599.4 218.5L599.5 215.0L599.6 211.3L599.8 207.4L599.9 203.4L600.0 199.1L600.2 194.7L600.3 190.2L600.4 185.4L600.5 180.4L600.7 175.2L600.8 169.8L600.9 164.2L601.1 158.3L601.2 152.3L601.3 146.1L601.5 139.7L601.6 133.0L601.7 126.3L601.8 119.4L602.0 112.3L602.1 105.2L602.2 98.0L602.4 90.7L602.5 83.5L602.6 76.4L602.8 69.4L602.9 62.6L603.0 56.1L603.1 49.9L603.3 44.2L603.4 38.9L603.5 34.1L603.7 30.0L603.8 26.6L603.9 23.9L604.1 21.9L604.2 20.8L604.3 18.7L604.4 19.3L604.6 20.7L604.7 22.9L604.8 25.8L605.0 29.5L605.1 33.8L605.2 38.8L605.4 44.2L605.5 50.2L605.6 56.5L605.7 63.1L605.9 70.0L606.0 77.0L606.1 84.1L606.3 91.4L606.4 98.6L606.5 105.8L606.7 112.9L606.8 119.9L606.9 126.7L607.0 133.5L607.2 140.0L607.3 146.4L607.4 152.5L607.6 158.5L607.7 164.2L607.8 169.8L608.0 175.1L608.1 180.2L608.2 185.1L608.3 189.9L608.5 194.4L608.6 198.7L608.7 202.9L608.9 206.8L609.0 210.7L609.1 214.3L609.3 217.8L609.4 221.1L609.5 224.3L609.6 227.3L609.8 230.2L609.9 233.0L610.0 235.7L610.2 238.3L610.3 240.7L610.4 243.0L610.6 245.3L610.7 247.4L610.8 249.5L610.9 251.5L611.1 253.4L611.2 255.2L611.3 256.9L611.5 258.6L611.6 260.2L611.7 261.7L611.9 263.2L612.0 264.6L612.1 266.0L612.2 267.3L612.4 268.6L612.5 269.8L612.6 271.0L612.8 272.1L612.9 273.2L613.0 274.2L613.2 275.2L613.3 276.2L613.4 277.2L613.5 278.1L613.7 278.9L613.8 279.8L613.9 280.6L614.1 281.4L614.2 282.1L614.3 282.9L614.5 283.6L614.6 284.3L614.7 284.9L614.8 285.6L615.0 286.2L615.1 286.8L615.2 287.4L615.4 288.0L615.5 288.5L615.6 289.1L615.8 289.6L615.9 290.1L616.0 290.6L616.1 291.0L616.3 291.5L616.4 292.0L616.5 292.4L616.7 292.8L616.8 293.2L616.9 293.6L617.1 294.0L617.2 294.4L617.3 294.7L617.4 295.1L617.6 295.4L617.7 295.8L617.8 296.1L618.0 296.4L618.1 296.7L618.2 297.0L618.4 297.3L618.5 297.6L618.6 297.9L618.7 298.2L618.9 298.4L619.0 298.7L619.1 299.0L619.3 299.2L619.4 299.4L619.5 299.7L619.7 299.9L619.8 300.1L619.9 300.4L620.0 300.6L620.2 300.8L620.3 301.0L620.4 301.2L620.6 301.4L620.7 301.6L620.8 301.8L621.0 301.9L621.1 302.1L621.2 302.3L621.3 302.5L621.5 302.6L621.6 302.8L621.7 303.0L621.9 303.1L622.0 303.3L622.1 303.4L622.3 303.6L622.4 303.7L622.5 303.8L622.6 304.0L622.8 304.1L622.9 304.3L623.0 304.4L623.2 304.5L623.3 304.6L623.4 304.8L623.6 304.9L623.6 304.9L624.1 305.3L624.6 305.7L625.1 306.1L625.6 306.5L626.1 306.8L626.6 307.1L627.1 307.4L627.7 307.7L628.2 308.0L628.7 308.2L629.2 308.4L629.7 308.6L630.2 308.8L630.7 309.0L631.2 309.2L631.8 309.4L632.3 309.5L632.8 309.7L633.3 309.8L633.8 309.9L634.3 310.1L634.8 310.2L635.3 310.3L635.9 310.4L636.4 310.5L636.9 310.6L637.4 310.7L637.9 310.8L638.4 310.9L638.9 310.9L639.4 311.0L640.0 311.1L640.5 311.1L641.0 311.2L641.5 311.2L642.0 311.3L642.5 311.3L643.0 311.4L643.5 311.4L644.1 311.4L644.6 311.4L645.1 311.4L645.6 311.4L646.1 311.4L646.6 311.4L647.1 311.4L647.6 311.4L648.2 311.3L648.7 311.3L649.2 311.2L649.7 311.2L650.2 311.1L650.7 311.0L651.2 311.0L651.7 310.9L652.3 310.8L652.8 310.7L653.3 310.6L653.8 310.6" stroke="#ff1a1a"/><path d="M481.0 316.2L481.7 316.2L482.4 316.2L483.1 316.2L483.8 316.2L484.5 316.1L485.2 316.1L485.9 316.1L486.6 316.1L487.3 316.1L488.0 316.1L488.7 316.1L489.4 316.1L490.1 316.0L490.8 316.0L491.5 316.0L492.2 316.0L492.9 316.0L493.6 316.0L494.3 315.9L495.0 315.9L495.7 315.9L496.4 315.9L497.1 315.9L497.8 315.9L498.5 315.8L499.2 315.8L499.9 315.8L500.6 315.8L501.3 315.8L502.0 315.7L502.7 315.7L503.4 315.7L504.1 315.7L504.8 315.7L505.5 315.6L506.2 315.6L506.9 315.6L507.6 315.6L508.3 315.6L509.0 315.5L509.7 315.5L510.4 315.5L511.1 315.5L511.8 315.4L512.5 315.4L513.2 315.4L513.9 315.3L514.6 315.3L515.3 315.3L516.0 315.3L516.7 315.2L517.4 315.2L518.1 315.2L518.8 315.1L519.5 315.1L520.2 315.1L520.9 315.0L521.6 315.0L522.3 314.9L523.0 314.9L523.7 314.9L524.4 314.8L525.1 314.8L525.8 314.7L526.5 314.7L527.2 314.6L527.9 314.6L528.6 314.5L529.3 314.5L530.0 314.4L530.7 314.3L531.4 314.3L532.1 314.2L532.8 314.1L533.5 314.1L534.2 314.0L534.9 313.9L535.6 313.8L536.3 313.7L537.0 313.6L537.7 313.5L538.4 313.4L539.1 313.3L539.8 313.2L540.5 313.1L541.2 312.9L541.9 312.8L542.6 312.7L543.3 312.6L544.0 312.4L544.7 312.3L545.4 312.1L546.1 311.9L546.8 311.8L547.5 311.6L548.2 311.4L548.9 311.2L549.6 310.9L550.3 310.7L551.0 310.4L551.7 310.1L552.4 309.8L553.1 309.5L553.8 309.2L554.5 308.9L555.2 308.5L555.9 308.1L556.6 307.6L557.3 307.1L558.0 306.6L558.7 306.0L559.4 305.4L560.1 304.7L560.8 303.9L561.5 303.2L562.2 302.3L562.9 301.4L563.6 300.3L564.3 299.0L565.0 297.7L565.7 296.4L566.4 294.9L567.1 293.5L567.8 292.0L568.5 290.5L569.2 289.1L569.9 287.5L570.6 285.9L571.3 284.2L572.0 282.6L572.7 281.0L573.4 279.5L574.1 278.2L574.8 277.0L575.5 275.8L576.2 274.7L576.9 273.7L577.6 272.8L578.3 272.1L579.0 271.5L579.7 270.9L580.4 270.4L581.1 270.3L581.8 270.4L582.5 270.8L583.2 271.2L583.9 271.8L584.6 272.4L585.3 273.4L586.0 274.7L586.7 276.3L587.4 277.9L588.1 279.5L588.8 281.1L589.5 282.8L590.2 284.5L590.9 286.1L591.6 287.5L592.3 288.6L593.0 289.7L593.7 290.7L594.4 291.7L595.1 292.5L595.8 293.4L596.5 294.2L597.2 295.0L597.9 295.8L598.6 296.4L599.3 297.0L600.0 297.5L600.7 297.9L601.4 298.3L602.1 298.6L602.8 298.9L603.5 299.2L604.2 299.5L604.9 299.7L605.6 300.0L606.3 300.2L607.0 300.4L607.7 300.6L608.4 300.8L609.1 301.0L609.8 301.2L610.5 301.3L611.2 301.5L611.9 301.7L612.6 301.8L613.3 301.9L614.0 302.0L614.7 302.1L615.4 302.1L616.1 302.2L616.8 302.2L617.5 302.3L618.2 302.3L618.9 302.4L619.6 302.4L620.3 302.4L621.0 302.5L621.7 302.5L622.4 302.5L623.1 302.6L623.8 302.6L624.5 302.6L625.2 302.6L625.9 302.6L626.6 302.7L627.3 302.7L628.0 302.7L628.7 302.7L629.4 302.7L630.1 302.7L630.8 302.7L631.5 302.7L632.2 302.7L632.9 302.7L633.6 302.7L634.3 302.7L635.0 302.7L635.7 302.7L636.4 302.7L637.1 302.7L637.8 302.7L638.5 302.7L639.2 302.7L639.9 302.7L640.6 302.7L641.3 302.7L642.0 302.7L642.7 302.7L643.4 302.7L644.1 302.7L644.8 302.7L645.5 302.7L646.2 302.7L646.9 302.7L647.6 302.7L648.3 302.7L649.0 302.7L649.7 302.6L650.4 302.6L651.1 302.6L651.8 302.6L652.5 302.6L653.2 302.6L653.9 302.6L654.0 302.6" stroke="#b4472c"/><path d="M481.0 316.2L481.7 316.2L482.4 316.2L483.1 316.2L483.8 316.2L484.5 316.1L485.2 316.1L485.9 316.1L486.6 316.1L487.3 316.1L488.0 316.1L488.7 316.0L489.4 316.0L490.1 316.0L490.8 316.0L491.5 316.0L492.2 315.9L492.9 315.9L493.6 315.9L494.3 315.9L495.0 315.8L495.7 315.8L496.4 315.8L497.1 315.7L497.8 315.7L498.5 315.7L499.2 315.6L499.9 315.6L500.6 315.6L501.3 315.5L502.0 315.5L502.7 315.5L503.4 315.4L504.1 315.4L504.8 315.3L505.5 315.3L506.2 315.2L506.9 315.2L507.6 315.1L508.3 315.1L509.0 315.0L509.7 315.0L510.4 314.9L511.1 314.9L511.8 314.8L512.5 314.7L513.2 314.7L513.9 314.6L514.6 314.5L515.3 314.5L516.0 314.4L516.7 314.3L517.4 314.3L518.1 314.2L518.8 314.1L519.5 314.0L520.2 314.0L520.9 313.9L521.6 313.8L522.3 313.7L523.0 313.6L523.7 313.5L524.4 313.4L525.1 313.3L525.8 313.2L526.5 313.1L527.2 312.9L527.9 312.8L528.6 312.7L529.3 312.5L530.0 312.4L530.7 312.2L531.4 312.1L532.1 311.9L532.8 311.7L533.5 311.4L534.2 311.2L534.9 310.9L535.6 310.7L536.3 310.4L537.0 310.1L537.7 309.8L538.4 309.5L539.1 309.1L539.8 308.8L540.5 308.4L541.2 308.1L541.9 307.7L542.6 307.3L543.3 307.0L544.0 306.6L544.7 306.2L545.4 305.8L546.1 305.3L546.8 304.8L547.5 304.2L548.2 303.6L548.9 303.0L549.6 302.3L550.3 301.7L551.0 301.0L551.7 300.4L552.4 299.8L553.1 299.2L553.8 298.6L554.5 298.1L555.2 297.7L555.9 297.2L556.6 296.8L557.3 296.4L558.0 296.0L558.7 295.6L559.4 295.4L560.1 295.2L560.8 295.0L561.5 294.9L562.2 294.7L562.9 294.6L563.6 294.5L564.3 294.5L565.0 294.5L565.7 294.7L566.4 295.0L567.1 295.4L567.8 295.7L568.5 296.0L569.2 296.4L569.9 296.8L570.6 297.3L571.3 297.6L572.0 298.0L572.7 298.2L573.4 298.5L574.1 298.7L574.8 298.9L575.5 299.1L576.2 299.3L576.9 299.5L577.6 299.7L578.3 299.8L579.0 300.0L579.7 300.1L580.4 300.3L581.1 300.4L581.8 300.6L582.5 300.7L583.2 300.8L583.9 301.0L584.6 301.1L585.3 301.2L586.0 301.3L586.7 301.5L587.4 301.6L588.1 301.6L588.8 301.7L589.5 301.8L590.2 301.8L590.9 301.9L591.6 301.9L592.3 302.0L593.0 302.0L593.7 302.1L594.4 302.1L595.1 302.2L595.8 302.2L596.5 302.3L597.2 302.3L597.9 302.3L598.6 302.4L599.3 302.4L600.0 302.4L600.7 302.5L601.4 302.5L602.1 302.5L602.8 302.6L603.5 302.6L604.2 302.6L604.9 302.6L605.6 302.7L606.3 302.7L607.0 302.7L607.7 302.7L608.4 302.8L609.1 302.8L609.8 302.8L610.5 302.8L611.2 302.8L611.9 302.8L612.6 302.9L613.3 302.9L614.0 302.9L614.7 302.9L615.4 302.9L616.1 302.9L616.8 302.9L617.5 302.9L618.2 302.9L618.9 303.0L619.6 303.0L620.3 303.0L621.0 303.0L621.7 303.0L622.4 303.0L623.1 303.0L623.8 303.0L624.5 303.0L625.2 303.0L625.9 303.0L626.6 303.0L627.3 303.0L628.0 303.1L628.7 303.1L629.4 303.1L630.1 303.1L630.8 303.1L631.5 303.1L632.2 303.1L632.9 303.1L633.6 303.1L634.3 303.1L635.0 303.1L635.7 303.1L636.4 303.1L637.1 303.1L637.8 303.1L638.5 303.1L639.2 303.2L639.9 303.2L640.6 303.2L641.3 303.2L642.0 303.2L642.7 303.2L643.4 303.2L644.1 303.2L644.8 303.2L645.5 303.2L646.2 303.2L646.9 303.2L647.6 303.2L648.3 303.2L649.0 303.2L649.7 303.2L650.4 303.2L651.1 303.2L651.8 303.2L652.5 303.2L653.2 303.2L653.9 303.2L654.0 303.2" stroke="#5b6512"/><path d="M481.0 316.2L481.7 316.2L482.4 316.2L483.1 316.1L483.8 316.1L484.5 316.1L485.2 316.1L485.9 316.1L486.6 316.0L487.3 316.0L488.0 316.0L488.7 316.0L489.4 315.9L490.1 315.9L490.8 315.9L491.5 315.8L492.2 315.8L492.9 315.8L493.6 315.7L494.3 315.7L495.0 315.6L495.7 315.6L496.4 315.6L497.1 315.5L497.8 315.5L498.5 315.4L499.2 315.4L499.9 315.3L500.6 315.3L501.3 315.2L502.0 315.1L502.7 315.1L503.4 315.0L504.1 315.0L504.8 314.9L505.5 314.9L506.2 314.8L506.9 314.7L507.6 314.7L508.3 314.6L509.0 314.5L509.7 314.4L510.4 314.4L511.1 314.3L511.8 314.2L512.5 314.1L513.2 314.0L513.9 313.9L514.6 313.9L515.3 313.8L516.0 313.7L516.7 313.5L517.4 313.4L518.1 313.3L518.8 313.2L519.5 313.1L520.2 312.9L520.9 312.8L521.6 312.6L522.3 312.5L523.0 312.3L523.7 312.2L524.4 312.0L525.1 311.8L525.8 311.7L526.5 311.5L527.2 311.3L527.9 311.1L528.6 310.9L529.3 310.7L530.0 310.5L530.7 310.3L531.4 310.0L532.1 309.8L532.8 309.5L533.5 309.2L534.2 308.9L534.9 308.6L535.6 308.2L536.3 307.9L537.0 307.6L537.7 307.2L538.4 306.8L539.1 306.5L539.8 306.1L540.5 305.7L541.2 305.4L541.9 305.0L542.6 304.7L543.3 304.3L544.0 304.0L544.7 303.6L545.4 303.3L546.1 303.0L546.8 302.6L547.5 302.3L548.2 301.9L548.9 301.6L549.6 301.2L550.3 300.9L551.0 300.6L551.7 300.4L552.4 300.2L553.1 300.0L553.8 299.7L554.5 299.5L555.2 299.4L555.9 299.2L556.6 299.1L557.3 299.1L558.0 299.1L558.7 299.1L559.4 299.2L560.1 299.2L560.8 299.2L561.5 299.3L562.2 299.3L562.9 299.4L563.6 299.5L564.3 299.6L565.0 299.7L565.7 299.8L566.4 299.9L567.1 300.0L567.8 300.1L568.5 300.3L569.2 300.4L569.9 300.5L570.6 300.7L571.3 300.8L572.0 300.9L572.7 301.0L573.4 301.0L574.1 301.1L574.8 301.2L575.5 301.3L576.2 301.4L576.9 301.5L577.6 301.6L578.3 301.7L579.0 301.7L579.7 301.8L580.4 301.9L581.1 302.0L581.8 302.1L582.5 302.1L583.2 302.2L583.9 302.3L584.6 302.3L585.3 302.4L586.0 302.5L586.7 302.5L587.4 302.6L588.1 302.6L588.8 302.7L589.5 302.7L590.2 302.7L590.9 302.8L591.6 302.8L592.3 302.8L593.0 302.9L593.7 302.9L594.4 302.9L595.1 302.9L595.8 303.0L596.5 303.0L597.2 303.0L597.9 303.1L598.6 303.1L599.3 303.1L600.0 303.1L600.7 303.2L601.4 303.2L602.1 303.2L602.8 303.2L603.5 303.3L604.2 303.3L604.9 303.3L605.6 303.3L606.3 303.3L607.0 303.3L607.7 303.4L608.4 303.4L609.1 303.4L609.8 303.4L610.5 303.4L611.2 303.4L611.9 303.5L612.6 303.5L613.3 303.5L614.0 303.5L614.7 303.5L615.4 303.5L616.1 303.5L616.8 303.5L617.5 303.5L618.2 303.5L618.9 303.5L619.6 303.6L620.3 303.6L621.0 303.6L621.7 303.6L622.4 303.6L623.1 303.6L623.8 303.6L624.5 303.6L625.2 303.6L625.9 303.6L626.6 303.6L627.3 303.6L628.0 303.7L628.7 303.7L629.4 303.7L630.1 303.7L630.8 303.7L631.5 303.7L632.2 303.7L632.9 303.7L633.6 303.7L634.3 303.7L635.0 303.7L635.7 303.7L636.4 303.7L637.1 303.7L637.8 303.7L638.5 303.7L639.2 303.7L639.9 303.8L640.6 303.8L641.3 303.8L642.0 303.8L642.7 303.8L643.4 303.8L644.1 303.8L644.8 303.8L645.5 303.8L646.2 303.8L646.9 303.8L647.6 303.8L648.3 303.8L649.0 303.8L649.7 303.8L650.4 303.8L651.1 303.8L651.8 303.8L652.5 303.8L653.2 303.8L653.9 303.8L654.0 303.8" stroke="#3c9a30"/><path d="M481.0 316.2L481.7 316.2L482.4 316.2L483.1 316.2L483.8 316.2L484.5 316.1L485.2 316.1L485.9 316.1L486.6 316.1L487.3 316.0L488.0 316.0L488.7 316.0L489.4 315.9L490.1 315.9L490.8 315.9L491.5 315.8L492.2 315.8L492.9 315.7L493.6 315.6L494.3 315.6L495.0 315.5L495.7 315.4L496.4 315.4L497.1 315.3L497.8 315.2L498.5 315.2L499.2 315.1L499.9 315.0L500.6 314.9L501.3 314.9L502.0 314.8L502.7 314.7L503.4 314.7L504.1 314.6L504.8 314.5L505.5 314.4L506.2 314.4L506.9 314.3L507.6 314.2L508.3 314.1L509.0 314.0L509.7 313.9L510.4 313.9L511.1 313.8L511.8 313.7L512.5 313.6L513.2 313.5L513.9 313.4L514.6 313.3L515.3 313.2L516.0 313.0L516.7 312.9L517.4 312.8L518.1 312.7L518.8 312.5L519.5 312.4L520.2 312.2L520.9 312.1L521.6 311.9L522.3 311.8L523.0 311.6L523.7 311.4L524.4 311.3L525.1 311.1L525.8 310.9L526.5 310.7L527.2 310.5L527.9 310.3L528.6 310.1L529.3 309.9L530.0 309.7L530.7 309.5L531.4 309.2L532.1 309.0L532.8 308.7L533.5 308.4L534.2 308.1L534.9 307.8L535.6 307.5L536.3 307.2L537.0 306.9L537.7 306.6L538.4 306.3L539.1 306.0L539.8 305.7L540.5 305.4L541.2 305.1L541.9 304.8L542.6 304.4L543.3 304.1L544.0 303.8L544.7 303.5L545.4 303.2L546.1 302.9L546.8 302.6L547.5 302.4L548.2 302.3L548.9 302.1L549.6 301.9L550.3 301.7L551.0 301.6L551.7 301.5L552.4 301.4L553.1 301.4L553.8 301.4L554.5 301.4L555.2 301.5L555.9 301.6L556.6 301.6L557.3 301.7L558.0 301.8L558.7 301.9L559.4 301.9L560.1 302.0L560.8 302.1L561.5 302.2L562.2 302.2L562.9 302.3L563.6 302.4L564.3 302.5L565.0 302.6L565.7 302.7L566.4 302.8L567.1 302.9L567.8 303.0L568.5 303.1L569.2 303.2L569.9 303.3L570.6 303.3L571.3 303.4L572.0 303.5L572.7 303.5L573.4 303.6L574.1 303.6L574.8 303.7L575.5 303.7L576.2 303.8L576.9 303.8L577.6 303.9L578.3 303.9L579.0 304.0L579.7 304.0L580.4 304.1L581.1 304.1L581.8 304.1L582.5 304.2L583.2 304.2L583.9 304.2L584.6 304.3L585.3 304.3L586.0 304.3L586.7 304.3L587.4 304.4L588.1 304.4L588.8 304.4L589.5 304.4L590.2 304.4L590.9 304.4L591.6 304.4L592.3 304.4L593.0 304.4L593.7 304.4L594.4 304.4L595.1 304.4L595.8 304.4L596.5 304.4L597.2 304.4L597.9 304.5L598.6 304.5L599.3 304.5L600.0 304.5L600.7 304.5L601.4 304.5L602.1 304.5L602.8 304.5L603.5 304.5L604.2 304.5L604.9 304.5L605.6 304.5L606.3 304.5L607.0 304.5L607.7 304.5L608.4 304.5L609.1 304.5L609.8 304.5L610.5 304.5L611.2 304.5L611.9 304.5L612.6 304.5L613.3 304.5L614.0 304.5L614.7 304.5L615.4 304.5L616.1 304.5L616.8 304.5L617.5 304.5L618.2 304.5L618.9 304.5L619.6 304.5L620.3 304.6L621.0 304.6L621.7 304.6L622.4 304.6L623.1 304.6L623.8 304.6L624.5 304.6L625.2 304.6L625.9 304.6L626.6 304.6L627.3 304.6L628.0 304.6L628.7 304.6L629.4 304.6L630.1 304.6L630.8 304.6L631.5 304.6L632.2 304.6L632.9 304.6L633.6 304.6L634.3 304.6L635.0 304.6L635.7 304.6L636.4 304.6L637.1 304.6L637.8 304.6L638.5 304.6L639.2 304.6L639.9 304.6L640.6 304.6L641.3 304.6L642.0 304.6L642.7 304.6L643.4 304.6L644.1 304.6L644.8 304.6L645.5 304.6L646.2 304.6L646.9 304.6L647.6 304.6L648.3 304.6L649.0 304.6L649.7 304.6L650.4 304.6L651.1 304.6L651.8 304.6L652.5 304.6L653.2 304.6L653.9 304.6L654.0 304.6" stroke="#2f706a"/><path d="M481.0 316.2L481.7 316.2L482.4 316.2L483.1 316.1L483.8 316.1L484.5 316.1L485.2 316.0L485.9 316.0L486.6 316.0L487.3 315.9L488.0 315.9L488.7 315.9L489.4 315.8L490.1 315.8L490.8 315.7L491.5 315.6L492.2 315.6L492.9 315.5L493.6 315.5L494.3 315.4L495.0 315.3L495.7 315.2L496.4 315.1L497.1 315.0L497.8 314.9L498.5 314.8L499.2 314.7L499.9 314.5L500.6 314.4L501.3 314.2L502.0 314.1L502.7 314.0L503.4 313.8L504.1 313.7L504.8 313.5L505.5 313.4L506.2 313.3L506.9 313.1L507.6 313.0L508.3 312.9L509.0 312.8L509.7 312.6L510.4 312.5L511.1 312.4L511.8 312.2L512.5 312.1L513.2 311.9L513.9 311.7L514.6 311.5L515.3 311.3L516.0 311.1L516.7 310.8L517.4 310.5L518.1 310.1L518.8 309.8L519.5 309.4L520.2 309.1L520.9 308.7L521.6 308.4L522.3 308.1L523.0 307.7L523.7 307.3L524.4 307.0L525.1 306.6L525.8 306.2L526.5 305.9L527.2 305.6L527.9 305.3L528.6 305.1L529.3 304.9L530.0 304.7L530.7 304.6L531.4 304.4L532.1 304.3L532.8 304.3L533.5 304.2L534.2 304.1L534.9 304.1L535.6 304.0L536.3 304.0L537.0 304.0L537.7 304.0L538.4 304.0L539.1 304.1L539.8 304.2L540.5 304.3L541.2 304.5L541.9 304.6L542.6 304.7L543.3 304.9L544.0 305.0L544.7 305.0L545.4 305.1L546.1 305.2L546.8 305.3L547.5 305.4L548.2 305.5L548.9 305.6L549.6 305.7L550.3 305.7L551.0 305.8L551.7 305.8L552.4 305.8L553.1 305.9L553.8 305.9L554.5 305.9L555.2 305.9L555.9 305.9L556.6 306.0L557.3 306.0L558.0 306.0L558.7 306.0L559.4 306.0L560.1 306.0L560.8 306.0L561.5 306.0L562.2 306.0L562.9 306.0L563.6 306.0L564.3 306.0L565.0 306.0L565.7 306.0L566.4 306.0L567.1 306.0L567.8 306.0L568.5 306.0L569.2 306.0L569.9 306.0L570.6 306.0L571.3 306.0L572.0 306.0L572.7 306.0L573.4 306.0L574.1 306.0L574.8 306.0L575.5 306.0L576.2 306.0L576.9 306.0L577.6 306.0L578.3 306.0L579.0 306.0L579.7 306.0L580.4 306.0L581.1 306.0L581.8 306.0L582.5 306.0L583.2 306.0L583.9 306.0L584.6 306.0L585.3 306.0L586.0 306.0L586.7 306.0L587.4 306.0L588.1 306.0L588.8 306.0L589.5 306.0L590.2 306.0L590.9 306.0L591.6 306.0L592.3 306.0L593.0 306.0L593.7 306.0L594.4 306.0L595.1 306.0L595.8 306.0L596.5 306.0L597.2 306.0L597.9 306.0L598.6 306.0L599.3 306.0L600.0 306.0L600.7 306.0L601.4 306.0L602.1 306.0L602.8 306.0L603.5 306.0L604.2 306.0L604.9 306.0L605.6 306.0L606.3 306.0L607.0 306.0L607.7 306.0L608.4 306.0L609.1 306.0L609.8 306.0L610.5 306.0L611.2 306.0L611.9 306.0L612.6 306.0L613.3 306.0L614.0 306.0L614.7 306.0L615.4 306.0L616.1 306.0L616.8 306.0L617.5 306.0L618.2 306.0L618.9 306.0L619.6 306.0L620.3 306.0L621.0 306.0L621.7 306.0L622.4 306.0L623.1 306.0L623.8 306.0L624.5 306.0L625.2 306.0L625.9 306.0L626.6 306.0L627.3 305.9L628.0 305.9L628.7 305.9L629.4 305.9L630.1 305.9L630.8 305.9L631.5 305.9L632.2 305.9L632.9 305.9L633.6 305.9L634.3 305.9L635.0 305.9L635.7 305.9L636.4 305.8L637.1 305.8L637.8 305.8L638.5 305.8L639.2 305.8L639.9 305.8L640.6 305.8L641.3 305.8L642.0 305.8L642.7 305.8L643.4 305.8L644.1 305.7L644.8 305.7L645.5 305.7L646.2 305.7L646.9 305.7L647.6 305.7L648.3 305.7L649.0 305.7L649.7 305.7L650.4 305.7L651.1 305.6L651.8 305.6L652.5 305.6L653.2 305.6L653.9 305.6L654.0 305.6" stroke="#2a36c8"/><path d="M481.0 316.2L481.7 316.2L482.4 316.2L483.1 316.2L483.8 316.1L484.5 316.1L485.2 316.1L485.9 316.0L486.6 316.0L487.3 315.9L488.0 315.9L488.7 315.8L489.4 315.8L490.1 315.7L490.8 315.6L491.5 315.5L492.2 315.4L492.9 315.3L493.6 315.2L494.3 315.1L495.0 315.0L495.7 314.9L496.4 314.7L497.1 314.6L497.8 314.4L498.5 314.3L499.2 314.1L499.9 313.9L500.6 313.7L501.3 313.6L502.0 313.4L502.7 313.2L503.4 312.9L504.1 312.7L504.8 312.4L505.5 312.1L506.2 311.8L506.9 311.4L507.6 311.0L508.3 310.6L509.0 310.1L509.7 309.6L510.4 309.2L511.1 308.6L511.8 308.0L512.5 307.4L513.2 306.8L513.9 306.2L514.6 305.7L515.3 305.2L516.0 304.8L516.7 304.4L517.4 304.1L518.1 303.9L518.8 303.7L519.5 303.6L520.2 303.5L520.9 303.4L521.6 303.4L522.3 303.5L523.0 303.6L523.7 303.7L524.4 303.9L525.1 304.0L525.8 304.2L526.5 304.5L527.2 304.8L527.9 305.1L528.6 305.4L529.3 305.7L530.0 305.9L530.7 306.1L531.4 306.3L532.1 306.5L532.8 306.7L533.5 306.8L534.2 307.0L534.9 307.2L535.6 307.3L536.3 307.4L537.0 307.6L537.7 307.7L538.4 307.8L539.1 307.9L539.8 308.0L540.5 308.1L541.2 308.2L541.9 308.3L542.6 308.4L543.3 308.4L544.0 308.4L544.7 308.4L545.4 308.4L546.1 308.4L546.8 308.4L547.5 308.4L548.2 308.5L548.9 308.5L549.6 308.5L550.3 308.5L551.0 308.5L551.7 308.5L552.4 308.5L553.1 308.5L553.8 308.5L554.5 308.5L555.2 308.5L555.9 308.5L556.6 308.5L557.3 308.5L558.0 308.5L558.7 308.5L559.4 308.5L560.1 308.5L560.8 308.5L561.5 308.5L562.2 308.5L562.9 308.5L563.6 308.5L564.3 308.5L565.0 308.5L565.7 308.5L566.4 308.5L567.1 308.5L567.8 308.4L568.5 308.4L569.2 308.4L569.9 308.4L570.6 308.4L571.3 308.4L572.0 308.4L572.7 308.4L573.4 308.3L574.1 308.3L574.8 308.3L575.5 308.3L576.2 308.3L576.9 308.3L577.6 308.2L578.3 308.2L579.0 308.2L579.7 308.2L580.4 308.2L581.1 308.1L581.8 308.1L582.5 308.1L583.2 308.1L583.9 308.1L584.6 308.0L585.3 308.0L586.0 308.0L586.7 308.0L587.4 307.9L588.1 307.9L588.8 307.9L589.5 307.9L590.2 307.9L590.9 307.8L591.6 307.8L592.3 307.8L593.0 307.8L593.7 307.7L594.4 307.7L595.1 307.7L595.8 307.7L596.5 307.7L597.2 307.6L597.9 307.6L598.6 307.6L599.3 307.6L600.0 307.5L600.7 307.5L601.4 307.5L602.1 307.5L602.8 307.5L603.5 307.4L604.2 307.4L604.9 307.4L605.6 307.4L606.3 307.4L607.0 307.4L607.7 307.3L608.4 307.3L609.1 307.3L609.8 307.3L610.5 307.3L611.2 307.3L611.9 307.3L612.6 307.2L613.3 307.2L614.0 307.2L614.7 307.2L615.4 307.2L616.1 307.2L616.8 307.2L617.5 307.2L618.2 307.2L618.9 307.1L619.6 307.1L620.3 307.1L621.0 307.1L621.7 307.1L622.4 307.1L623.1 307.1L623.8 307.1L624.5 307.1L625.2 307.1L625.9 307.1L626.6 307.0L627.3 307.0L628.0 307.0L628.7 307.0L629.4 307.0L630.1 307.0L630.8 307.0L631.5 307.0L632.2 307.0L632.9 307.0L633.6 307.0L634.3 307.0L635.0 306.9L635.7 306.9L636.4 306.9L637.1 306.9L637.8 306.9L638.5 306.9L639.2 306.9L639.9 306.9L640.6 306.9L641.3 306.9L642.0 306.9L642.7 306.9L643.4 306.9L644.1 306.9L644.8 306.9L645.5 306.9L646.2 306.8L646.9 306.8L647.6 306.8L648.3 306.8L649.0 306.8L649.7 306.8L650.4 306.8L651.1 306.8L651.8 306.8L652.5 306.8L653.2 306.8L653.9 306.8L654.0 306.8" stroke="#1c1cff"/><path d="M481.1 90.4L481.1 90.2L481.6 94.3L481.6 94.5L482.1 98.7L482.5 97.1L482.6 96.8L483.1 98.6L483.6 98.2L483.9 98.9L484.1 100.2L484.6 100.3L485.1 103.5L485.1 101.5L485.6 103.0L485.9 104.1L486.1 105.4L486.6 105.0L486.8 105.8L487.1 106.9L487.6 106.8L487.7 107.5L488.1 111.1L488.5 112.7L488.6 114.6L489.1 130.7L489.4 137.0L489.6 126.1L489.9 111.0L490.1 110.4L490.6 106.7L490.8 105.8L491.1 106.2L491.5 106.7L491.6 106.9L492.1 114.2L492.5 116.2L492.6 116.2L493.1 118.8L493.6 118.1L493.7 118.8L494.1 120.3L494.6 118.8L495.0 119.7L495.1 120.0L495.6 120.7L496.0 122.3L496.1 125.6L496.6 124.8L497.1 130.0L497.2 127.5L497.6 124.4L498.1 122.7L498.1 122.3L498.6 128.7L498.9 133.4L499.1 132.3L499.6 128.0L499.8 127.2L500.1 131.3L500.6 126.5L500.7 126.6L501.1 130.7L501.6 129.3L501.9 130.9L502.1 132.3L502.6 129.8L503.1 131.0L503.3 130.1L503.6 130.3L504.1 141.1L504.6 133.4L504.6 133.5L505.1 139.0L505.4 134.7L505.6 136.6L506.1 143.4L506.6 147.8L506.7 149.0L507.1 149.7L507.6 136.4L507.6 136.6L508.1 141.4L508.5 139.9L508.6 139.9L509.1 146.0L509.3 141.3L509.6 142.5L510.1 154.0L510.2 146.0L510.6 148.4L511.1 152.1L511.1 151.7L511.6 159.2L511.9 164.7L512.1 160.7L512.5 150.0L512.6 149.2L513.1 150.3L513.2 147.8L513.6 149.7L514.1 159.2L514.2 153.0L514.6 163.3L515.1 178.6L515.3 181.6L515.6 172.6L516.1 161.6L516.4 150.4L516.6 150.1L517.1 154.6L517.4 153.0L517.6 152.1L518.1 152.2L518.4 151.7L518.6 152.0L519.1 154.1L519.6 155.1L519.7 155.6L520.1 159.4L520.6 162.1L521.0 166.0L521.1 166.6L521.6 162.8L522.1 165.4L522.3 159.5L522.6 158.3L523.1 161.6L523.2 158.0L523.6 157.0L524.1 157.2L524.2 156.9L524.6 158.2L525.1 162.7L525.6 162.9L525.7 163.4L526.1 171.2L526.6 165.4L526.7 166.0L527.1 170.7L527.6 172.0L527.6 172.5L528.1 190.1L528.3 195.9L528.6 187.7L529.1 178.4L529.4 167.3L529.6 167.4L530.1 169.6L530.4 168.5L530.6 167.9L531.1 169.8L531.5 166.0L531.6 165.8L532.1 169.0L532.6 168.2L532.8 169.0L533.1 169.6L533.6 169.9L534.1 172.4L534.1 171.2L534.6 172.1L535.1 176.4L535.4 175.0L535.6 175.2L536.1 182.7L536.6 177.6L536.7 178.2L537.1 178.7L537.6 177.1L538.0 177.0L538.1 178.5L538.6 179.0L539.1 185.1L539.3 181.6L539.6 180.1L540.1 179.8L540.3 179.0L540.6 178.8L541.1 182.2L541.4 180.3L541.6 180.2L542.1 185.8L542.3 183.0L542.6 183.2L543.1 187.6L543.2 185.5L543.6 187.7L544.1 192.5L544.5 193.3L544.6 192.2L545.1 191.1L545.3 186.5L545.6 187.0L545.8 188.1L546.1 190.5L546.6 192.5L546.6 193.0L547.1 197.3L547.3 197.3L547.6 196.7L548.0 196.0L548.1 199.8L548.5 211.2L548.6 210.3L549.1 211.0L549.6 204.9L549.6 205.0L550.1 207.0L550.6 207.8L550.8 208.9L551.1 210.7L551.6 209.8L552.0 211.0L552.1 212.7L552.6 212.2L553.1 218.8L553.1 213.5L553.6 215.4L554.1 218.4L554.2 218.1L554.6 221.0L555.1 228.2L555.4 227.4L555.6 229.4L556.1 238.4L556.1 235.0L556.6 256.7L556.6 257.4L557.1 235.3L557.1 235.0L557.6 230.3L557.7 229.7L558.1 232.7L558.6 227.6L558.8 228.0L559.1 230.1L559.6 226.1L560.0 226.2L560.1 226.9L560.6 226.6L561.1 228.4L561.2 228.0L561.6 228.0L562.1 235.3L562.3 229.7L562.6 230.7L563.1 233.7L563.5 235.5L563.6 235.0L564.1 234.2L564.6 229.5L564.7 229.7L565.1 231.4L565.6 230.2L565.8 231.0L566.1 235.5L566.6 231.5L567.0 232.0L567.1 234.9L567.6 233.8L568.1 237.8L568.2 236.0L568.6 237.7L569.1 243.1L569.3 242.4L569.6 241.1L570.1 242.1L570.4 240.0L570.6 239.7L571.1 242.8L571.5 239.0L571.6 238.2L572.1 239.8L572.6 237.1L572.7 237.8L573.1 238.3L573.6 238.7L573.6 239.0L574.1 243.9L574.6 239.5L574.6 240.0L575.1 243.1L575.6 242.5L575.8 243.6L576.1 253.9L576.5 250.0L576.6 250.0L577.1 256.1L577.4 255.1L577.6 257.8L578.0 264.5L578.1 272.7L578.4 289.0L578.6 280.1L579.0 263.0L579.1 271.9L579.6 274.5L579.6 275.0L580.1 296.2L580.1 291.9L580.6 272.9L580.8 265.9L581.1 266.1L581.5 266.0L581.6 265.4L582.1 268.2L582.3 264.5L582.6 267.1L583.0 271.7L583.1 274.3L583.6 273.1L583.8 274.0L584.1 277.3L584.5 277.5L584.6 276.6L585.1 275.6L585.2 275.0L585.6 274.9L585.9 276.0L586.1 281.2L586.6 279.2L586.6 280.0L587.1 287.0L587.3 289.0L587.6 282.7L588.0 274.6L588.1 280.6L588.6 273.8L588.8 274.0L589.1 275.8L589.5 273.1L589.6 272.5L590.1 273.1L590.6 269.9L590.6 270.0L591.1 272.5L591.6 267.0L591.7 267.3L592.1 280.0L592.4 272.0L592.6 273.6L593.1 280.1L593.1 277.5L593.6 278.1L593.9 279.0L594.1 280.1L594.6 278.5L594.6 278.9L595.1 278.5L595.3 277.0L595.6 276.5L596.0 277.5L596.1 279.2L596.6 275.9L596.8 276.0L597.1 276.2L597.5 275.3L597.6 274.9L598.1 283.3L598.2 276.0L598.6 276.2L598.9 277.5L599.1 278.4L599.6 278.5L599.6 279.0L600.1 282.5L600.3 280.3L600.6 280.8L601.1 282.6L601.1 282.0L601.6 282.3L601.8 283.2L602.1 284.1L602.6 283.3L603.1 287.0L603.2 284.0L603.6 284.0L604.1 286.8L604.6 285.4L604.7 286.1L605.1 290.6L605.4 288.0L605.6 288.6L606.1 294.3L606.1 291.9L606.6 289.8L606.9 289.0L607.1 289.3L607.6 286.9L607.6 287.6L608.1 287.4L608.6 286.1L608.8 286.0L609.1 285.8L609.6 284.8L610.0 285.2L610.1 290.1L610.6 286.0L611.1 287.4L611.1 287.0L611.6 287.3L612.1 289.7L612.3 288.1L612.6 288.0L613.1 292.8L613.1 289.0L613.6 289.6L614.0 290.4L614.1 291.0L614.6 291.0L615.0 292.0L615.1 293.7L615.6 292.3L615.8 293.3L616.1 297.1L616.6 291.7L616.9 291.6L617.1 293.8L617.6 293.0L617.8 294.0L618.1 295.3L618.6 295.0L618.7 295.6L619.1 296.3L619.5 294.0L619.6 293.1L620.1 293.2L620.4 292.7L620.6 292.2L621.1 293.7L621.5 293.0L621.6 292.9L622.1 293.6L622.6 292.6L622.7 293.3L623.1 295.2L623.6 293.6L623.6 294.0L624.1 295.7L624.5 295.0L624.6 294.8L625.1 296.8L625.4 297.0L625.6 296.8L626.1 298.3L626.2 298.5L626.6 297.8L627.1 298.8L627.3 297.0L627.6 296.4L628.1 297.5L628.5 296.2L628.6 295.7L629.1 298.3L629.6 296.4L629.6 297.0L630.1 298.8L630.6 297.1L630.8 297.3L631.1 297.3L631.6 296.0L632.0 296.5L632.1 296.5L632.6 295.8L633.1 297.4L633.1 296.2L633.6 297.0L634.0 298.0L634.1 298.4L634.6 299.1L634.9 300.2L635.1 301.1L635.6 299.2L635.7 299.5L636.1 299.4L636.6 298.3L636.6 299.1L637.1 300.6L637.2 300.5L637.6 300.9L637.7 302.0L638.1 303.6L638.3 304.3L638.6 303.9L639.1 305.5L639.2 305.5L639.6 305.4L640.1 306.6L640.1 306.6L640.6 306.2L641.1 307.4L641.2 306.5L641.6 306.2L642.1 308.3L642.4 307.2L642.6 307.3L643.1 308.2L643.5 308.2L643.6 307.8L644.1 308.6L644.6 308.2L644.7 308.9L645.1 309.4L645.6 309.3L646.1 310.2L646.5 310.0L646.6 309.5L647.1 310.5L647.6 310.6L648.1 311.6L648.2 311.2L648.6 311.2L649.1 313.7L649.6 311.3L650.1 312.7L650.6 311.7L650.8 312.3L651.1 312.8L651.6 312.4L652.1 312.9L652.6 312.9L653.1 313.8L653.4 313.5L653.6 313.1L653.8 313.8" stroke="#1a1a1a" stroke-width="0.6"/></g><path d="M546.6 188.3H558" stroke="#111" stroke-width="0.9"/><path d="M557.3 185.9L563 188.3L557.3 190.7Z" fill="#111"/><rect x="480.9" y="9.6" width="172.9" height="315.5" fill="none" stroke="#9e9e9e" stroke-width="0.9"/><path d="M524.2 325.1v-1.6M567.4 325.1v-1.6M610.6 325.1v-1.6M480.9 60.8h1.6M480.9 146h1.6M480.9 231.2h1.6M653.8 266.8h-1.6M653.8 217.3h-1.6M653.8 167.8h-1.6M653.8 118.4h-1.6M653.8 68.9h-1.6M653.8 19.5h-1.6" stroke="#a8a8a8" stroke-width="0.8"/><rect x="486.4" y="19.6" width="54.2" height="74.6" rx="1" fill="#fff" stroke="#b4b4b4" stroke-width="0.8"/><path d="M487.8 29.00H500.8" stroke="#ff1a1a" stroke-width="1.9"/><g class="m" fill="#222" opacity="0.996"><text x="501.7" y="30.90" font-size="9.6" font-style="italic">x</text><text x="507.2" y="33.30" font-size="6.9" font-style="italic">Au</text><text x="517.6" y="30.90" font-size="9.4" transform="translate(517.6 0) scale(1.3 1) translate(-517.6 0)">=</text><text x="526.7" y="30.90" font-size="9.3">0.0</text></g><path d="M487.8 38.37H500.8" stroke="#b4472c" stroke-width="1.9"/><g class="m" fill="#222" opacity="0.996"><text x="501.7" y="40.27" font-size="9.6" font-style="italic">x</text><text x="507.2" y="42.67" font-size="6.9" font-style="italic">Au</text><text x="517.6" y="40.27" font-size="9.4" transform="translate(517.6 0) scale(1.3 1) translate(-517.6 0)">=</text><text x="526.7" y="40.27" font-size="9.3">0.2</text></g><path d="M487.8 47.74H500.8" stroke="#5b6512" stroke-width="1.9"/><g class="m" fill="#222" opacity="0.996"><text x="501.7" y="49.64" font-size="9.6" font-style="italic">x</text><text x="507.2" y="52.04" font-size="6.9" font-style="italic">Au</text><text x="517.6" y="49.64" font-size="9.4" transform="translate(517.6 0) scale(1.3 1) translate(-517.6 0)">=</text><text x="526.7" y="49.64" font-size="9.3">0.4</text></g><path d="M487.8 57.11H500.8" stroke="#3c9a30" stroke-width="1.9"/><g class="m" fill="#222" opacity="0.996"><text x="501.7" y="59.01" font-size="9.6" font-style="italic">x</text><text x="507.2" y="61.41" font-size="6.9" font-style="italic">Au</text><text x="517.6" y="59.01" font-size="9.4" transform="translate(517.6 0) scale(1.3 1) translate(-517.6 0)">=</text><text x="526.7" y="59.01" font-size="9.3">0.5</text></g><path d="M487.8 66.48H500.8" stroke="#2f706a" stroke-width="1.9"/><g class="m" fill="#222" opacity="0.996"><text x="501.7" y="68.38" font-size="9.6" font-style="italic">x</text><text x="507.2" y="70.78" font-size="6.9" font-style="italic">Au</text><text x="517.6" y="68.38" font-size="9.4" transform="translate(517.6 0) scale(1.3 1) translate(-517.6 0)">=</text><text x="526.7" y="68.38" font-size="9.3">0.6</text></g><path d="M487.8 75.85H500.8" stroke="#2a36c8" stroke-width="1.9"/><g class="m" fill="#222" opacity="0.996"><text x="501.7" y="77.75" font-size="9.6" font-style="italic">x</text><text x="507.2" y="80.15" font-size="6.9" font-style="italic">Au</text><text x="517.6" y="77.75" font-size="9.4" transform="translate(517.6 0) scale(1.3 1) translate(-517.6 0)">=</text><text x="526.7" y="77.75" font-size="9.3">0.8</text></g><path d="M487.8 85.22H500.8" stroke="#1c1cff" stroke-width="1.9"/><g class="m" fill="#222" opacity="0.996"><text x="501.7" y="87.12" font-size="9.6" font-style="italic">x</text><text x="507.2" y="89.52" font-size="6.9" font-style="italic">Au</text><text x="517.6" y="87.12" font-size="9.4" transform="translate(517.6 0) scale(1.3 1) translate(-517.6 0)">=</text><text x="526.7" y="87.12" font-size="9.3">1.0</text></g><text x="476" y="63.099999999999994" font-size="6.5" text-anchor="end" fill="#333" >3000</text><text x="476" y="148.3" font-size="6.5" text-anchor="end" fill="#333" >2000</text><text x="476" y="233.5" font-size="6.5" text-anchor="end" fill="#333" >1000</text><text x="476" y="318.5" font-size="6.5" text-anchor="end" fill="#333" >0</text><text x="659.2" y="21.8" font-size="6.5" text-anchor="start" fill="#333" >600</text><text x="659.2" y="71.24999999999999" font-size="6.5" text-anchor="start" fill="#333" >500</text><text x="659.2" y="120.69999999999997" font-size="6.5" text-anchor="start" fill="#333" >400</text><text x="659.2" y="170.15" font-size="6.5" text-anchor="start" fill="#333" >300</text><text x="659.2" y="219.6" font-size="6.5" text-anchor="start" fill="#333" >200</text><text x="659.2" y="269.05" font-size="6.5" text-anchor="start" fill="#333" >100</text><text x="659.2" y="318.5" font-size="6.5" text-anchor="start" fill="#333" >0</text><text x="481.0" y="333.7" font-size="6.5" text-anchor="middle" fill="#333" >2.0</text><text x="524.2" y="333.7" font-size="6.5" text-anchor="middle" fill="#333" >2.5</text><text x="567.4" y="333.7" font-size="6.5" text-anchor="middle" fill="#333" >3.0</text><text x="610.6" y="333.7" font-size="6.5" text-anchor="middle" fill="#333" >3.5</text><text x="653.8" y="333.7" font-size="6.5" text-anchor="middle" fill="#333" >4.0</text><text x="567.4" y="343.9" font-size="8.1" text-anchor="middle" fill="#222" textLength="45.4" lengthAdjust="spacingAndGlyphs">Energy (eV)</text><text transform="translate(455.2 227) rotate(-90)" font-size="7.9" fill="#222" textLength="95.6" lengthAdjust="spacingAndGlyphs">Absorption cross section</text><text transform="translate(455.4 128.4) rotate(-90)" class="m" font-style="italic" font-size="9" fill="#222" textLength="19.6" lengthAdjust="spacing">(nm<tspan font-size="6.2" dy="-3">2</tspan><tspan dy="3">)</tspan></text><text transform="translate(683.4 241.6) rotate(-90)" font-size="9.8" fill="#222" textLength="86.2" lengthAdjust="spacingAndGlyphs">Spectral Irradiance</text><text transform="translate(683.4 152.8) rotate(-90)" class="m" font-style="italic" font-size="10.8" fill="#222" textLength="60.5" lengthAdjust="spacing">(W m<tspan font-size="7.6" dy="-3.8">−2</tspan><tspan dy="3.8"> nm</tspan><tspan font-size="7.6" dy="-3.8">−1</tspan><tspan dy="3.8">)</tspan></text><rect x="159" y="51" width="1.7" height="1" fill="#f0f0f0"/><rect x="162" y="51" width="1.3" height="1" fill="#ececec"/><rect x="169" y="51" width="2" height="1" fill="#bdbdbd"/><rect x="172.5" y="51" width="5.7" height="1" fill="#efefef"/><text x="-0.3" y="28.6" font-size="15.5" font-weight="bold" fill="#111">a</text><text x="450" y="10.7" font-size="14.5" font-weight="bold" fill="#333">b</text></g></svg></body></html>
